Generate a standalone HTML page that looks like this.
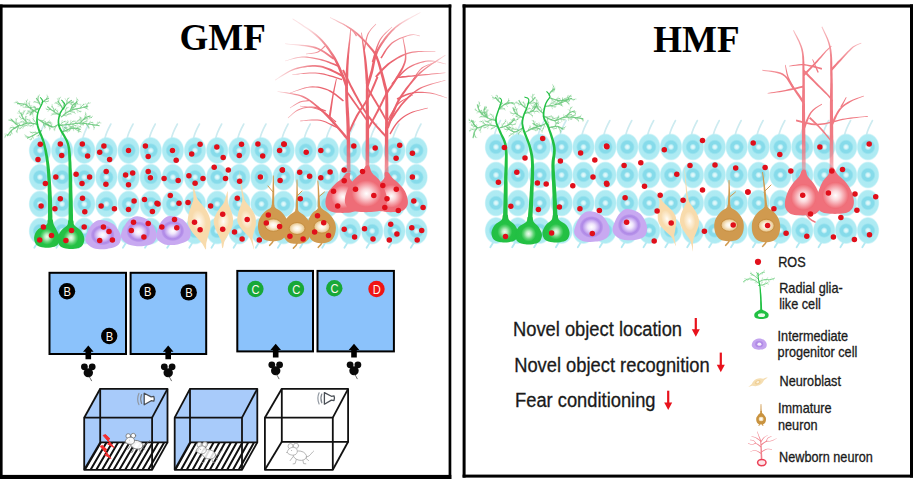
<!DOCTYPE html>
<html><head><meta charset="utf-8"><title>GMF / HMF</title>
<style>html,body{margin:0;padding:0;background:#fff;}body{width:913px;height:479px;overflow:hidden;font-family:"Liberation Sans",sans-serif;}svg{display:block;}.t{font-family:"Liberation Serif",serif;font-weight:bold;}.s{font-family:"Liberation Sans",sans-serif;}</style></head><body>
<svg width="913" height="479" viewBox="0 0 913 479">
<defs><radialGradient id="gc" cx="50%" cy="50%" r="50%"><stop offset="0" stop-color="#a9e9f2"/><stop offset="0.9" stop-color="#afebf3"/><stop offset="1" stop-color="#b8eef5" stop-opacity="0.45"/></radialGradient><radialGradient id="gk" cx="50%" cy="50%" r="50%"><stop offset="0" stop-color="#ecfbfc"/><stop offset="0.24" stop-color="#cdf3f8"/><stop offset="0.46" stop-color="#86dbea"/><stop offset="0.78" stop-color="#86dbea"/><stop offset="1" stop-color="#a9e9f2"/></radialGradient><g id="c"><ellipse cx="0" cy="0" rx="11.2" ry="13.4" fill="url(#gc)"/><circle cx="0" cy="0" r="7.4" fill="url(#gk)"/></g><g id="ct"><path d="M-1.5,-12 C-0.5,-17 1.5,-21 4.5,-26.5" fill="none" stroke="#cdebf0" stroke-width="1.6" stroke-linecap="round"/></g><circle id="r" r="2.75" fill="#e00f1a"/><radialGradient id="gg" cx="50%" cy="62%" r="55%"><stop offset="0" stop-color="#eefcee"/><stop offset="0.16" stop-color="#bdeec4"/><stop offset="0.34" stop-color="#5fd475"/><stop offset="0.5" stop-color="#25c145"/><stop offset="1" stop-color="#20bf42"/></radialGradient><radialGradient id="gp" ><stop offset="0" stop-color="#ffffff"/><stop offset="0.3" stop-color="#efe5fc"/><stop offset="0.58" stop-color="#cbb0f1"/><stop offset="0.76" stop-color="#b08ae7"/><stop offset="0.88" stop-color="#b590e9"/><stop offset="1" stop-color="#c8a9f1"/></radialGradient><radialGradient id="gn" ><stop offset="0" stop-color="#fffdf8"/><stop offset="0.35" stop-color="#fdf0da"/><stop offset="1" stop-color="#f8dcaf"/></radialGradient><radialGradient id="gb" ><stop offset="0" stop-color="#ffffff"/><stop offset="0.4" stop-color="#fbf1dd"/><stop offset="0.8" stop-color="#ecd0a0"/><stop offset="1" stop-color="#ddb271"/></radialGradient><radialGradient id="gr" ><stop offset="0" stop-color="#ffffff"/><stop offset="0.35" stop-color="#fbd9dc"/><stop offset="0.75" stop-color="#f4949c"/><stop offset="1" stop-color="#ef6b75"/></radialGradient><radialGradient id="mfL" gradientUnits="userSpaceOnUse" cx="367" cy="100" r="92"><stop offset="0" stop-color="#fff"/><stop offset="0.5" stop-color="#fff"/><stop offset="0.8" stop-color="#aaa"/><stop offset="1" stop-color="#333"/></radialGradient><mask id="mkL" maskUnits="userSpaceOnUse" x="260" y="0" width="200" height="220"><rect x="260" y="0" width="200" height="220" fill="url(#mfL)"/></mask><radialGradient id="mfR" gradientUnits="userSpaceOnUse" cx="817" cy="100" r="80"><stop offset="0" stop-color="#fff"/><stop offset="0.5" stop-color="#fff"/><stop offset="0.8" stop-color="#aaa"/><stop offset="1" stop-color="#444"/></radialGradient><mask id="mkR" maskUnits="userSpaceOnUse" x="740" y="0" width="170" height="220"><rect x="740" y="0" width="170" height="220" fill="url(#mfR)"/></mask></defs>
<rect x="0" y="0" width="913" height="479" fill="#ffffff"/>
<g id="left">
<g><use href="#ct" x="40" y="150.5"/><use href="#ct" x="62.1" y="150.5"/><use href="#ct" x="84.3" y="150.5"/><use href="#ct" x="106.4" y="150.5"/><use href="#ct" x="128.6" y="150.5"/><use href="#ct" x="150.8" y="150.5"/><use href="#ct" x="172.9" y="150.5"/><use href="#ct" x="195" y="150.5"/><use href="#ct" x="217.2" y="150.5"/><use href="#ct" x="239.3" y="150.5"/><use href="#ct" x="261.5" y="150.5"/><use href="#ct" x="283.6" y="150.5"/><use href="#ct" x="305.8" y="150.5"/><use href="#ct" x="327.9" y="150.5"/><use href="#ct" x="350.1" y="150.5"/><use href="#ct" x="372.2" y="150.5"/><use href="#ct" x="394.4" y="150.5"/><use href="#ct" x="416.5" y="150.5"/><path d="M37.5,242.5 l-3.2,5.2" fill="none" stroke="#b4e9f2" stroke-width="1.8" stroke-linecap="round"/><path d="M59.6,242.5 l-3.2,5.2" fill="none" stroke="#b4e9f2" stroke-width="1.8" stroke-linecap="round"/><path d="M81.8,242.5 l-3.2,5.2" fill="none" stroke="#b4e9f2" stroke-width="1.8" stroke-linecap="round"/><path d="M103.9,242.5 l-3.2,5.2" fill="none" stroke="#b4e9f2" stroke-width="1.8" stroke-linecap="round"/><path d="M126.1,242.5 l-3.2,5.2" fill="none" stroke="#b4e9f2" stroke-width="1.8" stroke-linecap="round"/><path d="M148.2,242.5 l-3.2,5.2" fill="none" stroke="#b4e9f2" stroke-width="1.8" stroke-linecap="round"/><path d="M170.4,242.5 l-3.2,5.2" fill="none" stroke="#b4e9f2" stroke-width="1.8" stroke-linecap="round"/><path d="M192.5,242.5 l-3.2,5.2" fill="none" stroke="#b4e9f2" stroke-width="1.8" stroke-linecap="round"/><path d="M214.7,242.5 l-3.2,5.2" fill="none" stroke="#b4e9f2" stroke-width="1.8" stroke-linecap="round"/><path d="M236.8,242.5 l-3.2,5.2" fill="none" stroke="#b4e9f2" stroke-width="1.8" stroke-linecap="round"/><path d="M259,242.5 l-3.2,5.2" fill="none" stroke="#b4e9f2" stroke-width="1.8" stroke-linecap="round"/><path d="M281.1,242.5 l-3.2,5.2" fill="none" stroke="#b4e9f2" stroke-width="1.8" stroke-linecap="round"/><path d="M303.3,242.5 l-3.2,5.2" fill="none" stroke="#b4e9f2" stroke-width="1.8" stroke-linecap="round"/><path d="M325.4,242.5 l-3.2,5.2" fill="none" stroke="#b4e9f2" stroke-width="1.8" stroke-linecap="round"/><path d="M347.6,242.5 l-3.2,5.2" fill="none" stroke="#b4e9f2" stroke-width="1.8" stroke-linecap="round"/><path d="M369.8,242.5 l-3.2,5.2" fill="none" stroke="#b4e9f2" stroke-width="1.8" stroke-linecap="round"/><path d="M391.9,242.5 l-3.2,5.2" fill="none" stroke="#b4e9f2" stroke-width="1.8" stroke-linecap="round"/><path d="M414,242.5 l-3.2,5.2" fill="none" stroke="#b4e9f2" stroke-width="1.8" stroke-linecap="round"/><use href="#c" x="40" y="150.5"/><use href="#c" x="62.1" y="150.5"/><use href="#c" x="84.3" y="150.5"/><use href="#c" x="106.4" y="150.5"/><use href="#c" x="128.6" y="150.5"/><use href="#c" x="150.8" y="150.5"/><use href="#c" x="172.9" y="150.5"/><use href="#c" x="195" y="150.5"/><use href="#c" x="217.2" y="150.5"/><use href="#c" x="239.3" y="150.5"/><use href="#c" x="261.5" y="150.5"/><use href="#c" x="283.6" y="150.5"/><use href="#c" x="305.8" y="150.5"/><use href="#c" x="327.9" y="150.5"/><use href="#c" x="350.1" y="150.5"/><use href="#c" x="372.2" y="150.5"/><use href="#c" x="394.4" y="150.5"/><use href="#c" x="416.5" y="150.5"/><use href="#c" x="40" y="177.2"/><use href="#c" x="62.1" y="177.2"/><use href="#c" x="84.3" y="177.2"/><use href="#c" x="106.4" y="177.2"/><use href="#c" x="128.6" y="177.2"/><use href="#c" x="150.8" y="177.2"/><use href="#c" x="172.9" y="177.2"/><use href="#c" x="195" y="177.2"/><use href="#c" x="217.2" y="177.2"/><use href="#c" x="239.3" y="177.2"/><use href="#c" x="261.5" y="177.2"/><use href="#c" x="283.6" y="177.2"/><use href="#c" x="305.8" y="177.2"/><use href="#c" x="327.9" y="177.2"/><use href="#c" x="350.1" y="177.2"/><use href="#c" x="372.2" y="177.2"/><use href="#c" x="394.4" y="177.2"/><use href="#c" x="416.5" y="177.2"/><use href="#c" x="40" y="204"/><use href="#c" x="62.1" y="204"/><use href="#c" x="84.3" y="204"/><use href="#c" x="106.4" y="204"/><use href="#c" x="128.6" y="204"/><use href="#c" x="150.8" y="204"/><use href="#c" x="172.9" y="204"/><use href="#c" x="195" y="204"/><use href="#c" x="217.2" y="204"/><use href="#c" x="239.3" y="204"/><use href="#c" x="261.5" y="204"/><use href="#c" x="283.6" y="204"/><use href="#c" x="305.8" y="204"/><use href="#c" x="327.9" y="204"/><use href="#c" x="350.1" y="204"/><use href="#c" x="372.2" y="204"/><use href="#c" x="394.4" y="204"/><use href="#c" x="416.5" y="204"/><use href="#c" x="40" y="231"/><use href="#c" x="62.1" y="231"/><use href="#c" x="84.3" y="231"/><use href="#c" x="106.4" y="231"/><use href="#c" x="128.6" y="231"/><use href="#c" x="150.8" y="231"/><use href="#c" x="172.9" y="231"/><use href="#c" x="195" y="231"/><use href="#c" x="217.2" y="231"/><use href="#c" x="239.3" y="231"/><use href="#c" x="261.5" y="231"/><use href="#c" x="283.6" y="231"/><use href="#c" x="305.8" y="231"/><use href="#c" x="327.9" y="231"/><use href="#c" x="350.1" y="231"/><use href="#c" x="372.2" y="231"/><use href="#c" x="394.4" y="231"/><use href="#c" x="416.5" y="231"/></g>
<g><g mask="url(#mkL)"><path d="M350.5,172 L350.5,169.9 L350.4,167.3 L350.4,164.2 L350.4,160.7 L350.3,156.9 L350.3,152.9 L350.2,148.8 L350.2,144.6 L350.1,140.6 L350,136.8 L349.9,133.2 L349.9,130 L349.8,127 L349.6,124.1 L349.5,121.3 L349.4,118.5 L349.2,115.9 L349.1,113.3 L348.9,110.8 L348.8,108.4 L348.6,106.2 L348.5,104 L348.4,101.9 L348.3,99.9 L348.2,96.3 L348.1,93 L348,90.1 L348,87.6 L347.9,85.6 L347.9,84 L345.1,84 L345.1,85.6 L345.1,87.6 L345.1,90.1 L345.2,93.1 L345.2,96.4 L345.3,100.1 L345.4,102 L345.5,104.1 L345.6,106.3 L345.7,108.6 L345.8,111 L345.9,113.5 L346.1,116 L346.2,118.7 L346.3,121.4 L346.4,124.2 L346.5,127.1 L346.5,130 L346.6,133.2 L346.6,136.8 L346.7,140.7 L346.7,144.7 L346.7,148.8 L346.7,152.9 L346.7,156.9 L346.7,160.7 L346.7,164.2 L346.7,167.3 L346.7,169.9 L346.7,172Z" fill="#ea636e"/><path d="M369.3,170 L369.3,168 L369.3,165.5 L369.3,162.6 L369.2,159.3 L369.2,155.7 L369.2,151.9 L369.2,148 L369.2,144.1 L369.1,140.2 L369.1,136.6 L369.1,133.1 L369.1,130 L369.1,127.1 L369,124.3 L369,121.5 L369,118.8 L369,116.2 L368.9,113.6 L368.9,111.1 L368.9,108.7 L368.9,106.4 L368.8,104.2 L368.8,102 L368.8,100 L368.8,96.6 L368.8,93.5 L368.7,90.5 L368.7,87.8 L368.7,85.5 L368.7,83.5 L368.7,82 L365.9,82 L365.9,83.5 L365.9,85.5 L365.9,87.8 L365.8,90.5 L365.8,93.5 L365.8,96.6 L365.8,100 L365.8,102.1 L365.8,104.2 L365.8,106.4 L365.8,108.7 L365.8,111.1 L365.8,113.6 L365.8,116.2 L365.8,118.8 L365.8,121.5 L365.7,124.3 L365.7,127.1 L365.7,130 L365.7,133.1 L365.7,136.6 L365.7,140.2 L365.7,144.1 L365.6,148 L365.6,151.9 L365.6,155.7 L365.6,159.3 L365.5,162.6 L365.5,165.5 L365.5,168 L365.5,170Z" fill="#ea636e"/><path d="M388.5,176 L388.5,174.2 L388.5,172 L388.5,169.4 L388.4,166.5 L388.4,163.3 L388.4,160 L388.4,156.5 L388.4,153 L388.3,149.6 L388.3,146.2 L388.3,143 L388.3,140 L388.3,137.2 L388.3,134.3 L388.3,131.4 L388.3,128.5 L388.3,125.7 L388.3,122.9 L388.3,120.2 L388.3,117.5 L388.3,114.9 L388.3,112.5 L388.3,110.2 L388.3,108 L388.3,104.5 L388.2,101.3 L388.2,98.3 L388.1,95.7 L388.1,93.4 L388,91.5 L388,90 L385.2,90 L385.2,91.5 L385.2,93.4 L385.3,95.7 L385.3,98.4 L385.3,101.3 L385.3,104.5 L385.3,108 L385.3,110.2 L385.3,112.5 L385.2,114.9 L385.2,117.5 L385.2,120.1 L385.1,122.9 L385.1,125.7 L385,128.5 L385,131.4 L385,134.3 L384.9,137.1 L384.9,140 L384.9,143 L384.9,146.2 L384.8,149.6 L384.8,153 L384.8,156.5 L384.8,160 L384.8,163.4 L384.7,166.5 L384.7,169.4 L384.7,172 L384.7,174.2 L384.7,176Z" fill="#ea636e"/><path d="M347.8,85.5 L347.2,83.8 L346.3,81.4 L345.2,78.5 L344,75.3 L342.6,72.2 L341.6,69.9 L340.6,67.5 L339.4,65 L338.2,62.4 L336.8,59.8 L335.3,57.1 L333.7,54.5 L332.3,52.4 L330.9,50.4 L329.4,48.2 L327.8,46.1 L326.1,44 L324.4,41.9 L322.4,39.8 L320.4,37.7 L318.2,35.7 L316.3,34.1 L314.2,32.5 L311.9,30.8 L309.5,29.1 L307,27.5 L304.5,25.9 L302.1,24.3 L299.7,22.8 L297.6,21.5 L295.7,20.3 L294.1,19.3 L292.8,18.5 L292.4,19.1 L293.6,20 L295.2,21.1 L297.1,22.3 L299.2,23.7 L301.4,25.3 L303.8,26.9 L306.2,28.6 L308.7,30.3 L311,32 L313.2,33.7 L315.3,35.4 L317,36.9 L319.1,39 L321,41.1 L322.9,43.2 L324.5,45.3 L326.1,47.4 L327.6,49.5 L329,51.6 L330.4,53.7 L331.7,55.7 L333.3,58.3 L334.7,60.9 L335.9,63.5 L337.1,66 L338.2,68.5 L339.2,70.9 L340.2,73.2 L341.5,76.4 L342.7,79.5 L343.7,82.3 L344.5,84.7 L345.2,86.5Z" fill="#ea636e"/><path d="M334.5,58.1 L333.1,57.2 L331.4,55.9 L329.3,54.4 L326.9,52.7 L324.3,51 L321.5,49.4 L318.5,47.9 L315.4,46.8 L313.1,46.2 L310.5,45.7 L307.8,45.3 L304.9,45 L301.9,44.7 L298.9,44.4 L296,44.2 L293.3,44 L290.7,43.9 L288.4,43.7 L286.5,43.6 L285,43.5 L285,44.1 L286.5,44.3 L288.4,44.5 L290.6,44.8 L293.2,45 L295.9,45.3 L298.8,45.6 L301.8,45.9 L304.7,46.3 L307.6,46.7 L310.2,47.2 L312.7,47.8 L314.8,48.4 L317.8,49.5 L320.6,51 L323.3,52.6 L325.8,54.3 L328.2,55.9 L330.2,57.5 L332,58.8 L333.3,59.7Z" fill="#ea636e"/><path d="M344.4,75.5 L343,74.9 L341.2,74 L339.1,72.9 L336.7,71.7 L334,70.4 L331.3,69.1 L328.5,67.9 L325.6,66.9 L322.9,66 L320.3,65.5 L317.7,65.2 L315.1,65.1 L312.5,65.1 L309.9,65.3 L307.3,65.5 L304.7,65.9 L302.1,66.4 L299.6,66.9 L297.2,67.6 L294.9,68.3 L292.3,69.3 L289.7,70.5 L287,72 L284.5,73.5 L282,75.1 L279.8,76.6 L277.8,77.9 L276.1,79.1 L274.8,79.9 L275.2,80.5 L276.5,79.7 L278.2,78.6 L280.3,77.3 L282.5,75.9 L285,74.4 L287.6,72.9 L290.2,71.6 L292.8,70.4 L295.3,69.5 L297.6,68.9 L300,68.3 L302.4,67.8 L304.9,67.4 L307.5,67.1 L310,66.9 L312.5,66.8 L315.1,66.8 L317.5,67 L319.9,67.3 L322.4,67.8 L325,68.7 L327.7,69.7 L330.5,70.9 L333.2,72.2 L335.8,73.5 L338.1,74.7 L340.3,75.9 L342.1,76.8 L343.6,77.5Z" fill="#ea636e"/><path d="M342.2,78.8 L340.6,78.4 L338.5,77.7 L336.1,76.9 L333.3,76.1 L330.3,75.2 L327.2,74.4 L324.1,73.6 L321,73 L318.1,72.7 L315.4,72.5 L312.5,72.5 L309.5,72.6 L306.5,72.8 L303.5,73.1 L300.6,73.4 L297.9,73.7 L295.5,74 L293.5,74.2 L292,74.4 L292,74.8 L293.6,74.8 L295.6,74.6 L298,74.4 L300.7,74.1 L303.5,73.9 L306.5,73.7 L309.5,73.6 L312.5,73.5 L315.3,73.6 L317.9,73.7 L320.8,74.2 L323.8,74.8 L326.9,75.6 L329.9,76.4 L332.9,77.3 L335.6,78.2 L338.1,79 L340.2,79.7 L341.8,80.2Z" fill="#ea636e"/><path d="M348.6,138.2 L347.5,136.9 L346.1,135.3 L344.4,133.3 L342.5,131 L340.5,128.7 L338.5,126.4 L336.5,124.1 L334.6,122.1 L332.7,120 L330.8,118 L328.9,116 L326.9,114 L324.9,112.1 L322.8,110.2 L320.6,108.3 L318.7,106.6 L316.7,104.9 L314.6,103.2 L312.5,101.5 L310.3,99.9 L308,98.4 L305.5,97 L302.9,95.8 L300.5,95 L297.8,94.3 L295,93.7 L292,93.2 L289,92.7 L286.2,92.3 L283.5,92 L281.1,91.7 L279.1,91.4 L277.6,91.2 L277.4,91.8 L279,92.1 L281,92.5 L283.4,92.8 L286,93.3 L288.9,93.7 L291.8,94.3 L294.7,94.9 L297.5,95.6 L300.1,96.3 L302.3,97.2 L304.8,98.4 L307.2,99.7 L309.4,101.2 L311.5,102.9 L313.5,104.6 L315.5,106.3 L317.4,108 L319.4,109.7 L321.5,111.6 L323.5,113.5 L325.4,115.5 L327.3,117.5 L329.2,119.5 L331,121.5 L333,123.7 L334.7,125.7 L336.7,127.9 L338.7,130.3 L340.6,132.6 L342.5,134.8 L344.2,136.9 L345.6,138.5 L346.6,139.8Z" fill="#ea636e"/><path d="M330.4,118.1 L330.7,116.5 L331,114.3 L331.4,111.7 L331.8,108.8 L332.2,105.7 L332.6,102.7 L333,99.8 L333.4,97.1 L333.9,94.2 L334.5,91.2 L335,88.2 L335.6,85.4 L336.1,82.8 L336.5,80.6 L336.8,79 L336,78.8 L335.6,80.4 L335.1,82.6 L334.5,85.1 L333.8,88 L333.2,91 L332.5,94 L332,96.9 L331.5,99.5 L331,102.4 L330.5,105.5 L330,108.5 L329.5,111.4 L329.1,114 L328.8,116.2 L328.6,117.9Z" fill="#ea636e"/><path d="M347.9,86.1 L348,84.5 L348,82.5 L348.1,80.2 L348.2,77.5 L348.3,74.7 L348.3,71.7 L348.4,68.7 L348.5,65.7 L348.7,62.8 L348.8,60.2 L349,57.6 L349.1,54.8 L349.4,52 L349.6,49.2 L349.8,46.5 L350.1,43.8 L350.3,41.3 L350.5,38.9 L350.6,36.9 L350.8,35.1 L350.9,31.5 L350.9,29.9 L350.8,29 L350,29 L350,29.9 L350,31.4 L349.6,35.1 L349.4,36.8 L349.2,38.8 L348.9,41.1 L348.5,43.6 L348.2,46.3 L347.8,49 L347.5,51.8 L347.2,54.6 L346.9,57.4 L346.6,60 L346.4,62.7 L346.2,65.6 L346,68.6 L345.8,71.6 L345.6,74.6 L345.5,77.4 L345.4,80.1 L345.3,82.4 L345.2,84.4 L345.1,85.9Z" fill="#ea636e"/><path d="M388,91.6 L387.5,90 L387,88 L386.3,85.5 L385.6,82.7 L384.8,79.6 L384,76.5 L383.1,73.3 L382.2,70.1 L381.3,67.1 L380.5,64.3 L379.7,61.8 L378.9,59.7 L377.5,56 L376.2,53.4 L374.9,51.4 L373.3,49.4 L371.1,46.9 L369.6,45.2 L367.9,43.3 L366.1,41.3 L364.1,39.2 L362.1,37.2 L359.9,35.1 L357.7,33.1 L355.4,31.2 L353.2,29.5 L351,28 L348.5,26.5 L345.9,25 L343.3,23.6 L340.6,22.2 L338.1,20.9 L335.7,19.8 L333.5,18.7 L331.8,17.9 L330.4,17.1 L330,17.9 L331.4,18.6 L333.1,19.5 L335.2,20.6 L337.6,21.9 L340.1,23.2 L342.7,24.6 L345.3,26.1 L347.8,27.7 L350.1,29.2 L352.2,30.7 L354.4,32.5 L356.6,34.4 L358.7,36.4 L360.8,38.5 L362.8,40.5 L364.6,42.6 L366.4,44.6 L368,46.5 L369.5,48.3 L371.6,50.8 L373.1,52.7 L374.2,54.5 L375.3,56.9 L376.7,60.5 L377.4,62.6 L378.1,65 L378.9,67.8 L379.7,70.8 L380.5,74 L381.4,77.2 L382.2,80.3 L382.9,83.4 L383.6,86.2 L384.3,88.7 L384.8,90.8 L385.2,92.4Z" fill="#ea636e"/><path d="M368.7,83.9 L368.6,82.2 L368.4,80.1 L368.2,77.5 L367.9,74.6 L367.6,71.5 L367.3,68.4 L367,65.3 L366.7,62.5 L366.4,60 L366,57.1 L365.5,54.3 L365.1,51.6 L364.6,49.1 L364.2,46.7 L363.8,44.5 L363.5,42.5 L362.9,39.3 L362.5,36.4 L362.1,34.2 L361.9,32.5 L361.1,32.7 L361.3,34.3 L361.5,36.6 L361.8,39.4 L362.1,42.7 L362.4,44.8 L362.7,47 L363,49.4 L363.3,51.9 L363.6,54.5 L363.9,57.3 L364.2,60.2 L364.4,62.7 L364.6,65.5 L364.8,68.6 L365.1,71.7 L365.3,74.8 L365.4,77.7 L365.6,80.3 L365.8,82.5 L365.9,84.1Z" fill="#ea636e"/><path d="M368.6,86.4 L369.2,84.8 L369.9,82.5 L370.8,79.7 L371.8,76.6 L372.8,73.1 L373.3,70.9 L373.8,68.6 L374.3,66.1 L374.8,63.6 L375.3,60.9 L376,58.3 L376.8,55.7 L377.7,53.1 L378.8,50.6 L379.9,48.6 L381.1,46.5 L382.5,44.3 L383.9,42.2 L385.4,40 L387,37.9 L388.6,35.8 L390.4,33.7 L392.1,31.8 L394,29.9 L395.8,28.1 L397.9,26.4 L400.2,24.7 L402.7,23.1 L405.3,21.4 L407.9,19.9 L410.5,18.4 L413,17 L415.4,15.7 L417.5,14.6 L419.2,13.6 L420.6,12.8 L420.2,12.2 L418.8,12.9 L417,13.8 L414.9,14.9 L412.6,16.1 L410,17.4 L407.3,18.8 L404.6,20.3 L401.9,21.9 L399.3,23.5 L396.9,25.2 L394.8,26.9 L392.8,28.7 L390.9,30.5 L389,32.5 L387.2,34.5 L385.4,36.6 L383.7,38.8 L382.2,41 L380.7,43.1 L379.3,45.3 L378,47.5 L376.8,49.6 L375.5,52.2 L374.5,54.9 L373.6,57.6 L372.9,60.4 L372.3,63 L371.8,65.6 L371.3,68 L370.8,70.3 L370.2,72.3 L369.2,75.8 L368.2,78.9 L367.3,81.7 L366.5,83.9 L366,85.6Z" fill="#ea636e"/><path d="M387.5,93.7 L388.5,92.4 L389.7,90.6 L391.2,88.5 L392.9,86.1 L394.6,83.5 L396.2,80.7 L397.5,78.6 L398.9,76.3 L400.4,73.8 L401.9,71.2 L403.3,68.5 L404.5,65.8 L405.5,63 L406.2,60.2 L406.4,57.6 L406.3,54.8 L406.1,51.9 L405.6,48.9 L405.1,46.1 L404.5,43.4 L404,41 L403.6,39.1 L403.3,37.5 L402.5,37.7 L402.7,39.2 L403.1,41.2 L403.5,43.6 L404,46.3 L404.4,49.1 L404.8,52 L404.9,54.9 L404.9,57.5 L404.6,60 L403.9,62.5 L402.9,65.1 L401.7,67.7 L400.2,70.3 L398.7,72.8 L397.2,75.2 L395.7,77.5 L394.4,79.7 L392.8,82.3 L391.1,84.9 L389.4,87.2 L387.9,89.3 L386.6,91 L385.7,92.3Z" fill="#ea636e"/><path d="M388.8,128.4 L389.3,126.9 L390,124.9 L390.8,122.4 L391.7,119.8 L392.7,117 L393.7,114.3 L394.7,111.9 L395.7,109.6 L396.6,107.3 L397.5,105.1 L398.6,102.9 L399.8,100.6 L401.2,98.2 L402.9,95.6 L404.1,93.8 L405.5,91.8 L406.9,89.8 L408.4,87.7 L410,85.6 L411.7,83.4 L413.5,81.3 L415.3,79.2 L417.1,77.1 L419,75.1 L420.9,73.3 L422.8,71.6 L424.9,69.8 L427.2,68.1 L429.6,66.3 L432,64.6 L434.4,63 L436.8,61.4 L439,59.9 L441.1,58.5 L442.9,57.3 L444.5,56.2 L445.7,55.4 L445.3,54.8 L444.1,55.6 L442.5,56.6 L440.6,57.8 L438.5,59.1 L436.2,60.5 L433.8,62.1 L431.3,63.7 L428.8,65.3 L426.4,67 L424.1,68.8 L421.9,70.5 L419.9,72.1 L417.9,74 L415.9,76 L414,78 L412.1,80.1 L410.3,82.3 L408.6,84.4 L406.9,86.6 L405.3,88.6 L403.8,90.7 L402.4,92.6 L401.1,94.4 L399.3,97.1 L397.8,99.6 L396.6,101.9 L395.5,104.2 L394.5,106.4 L393.5,108.6 L392.5,110.9 L391.5,113.5 L390.4,116.2 L389.4,119 L388.5,121.6 L387.6,124.1 L386.9,126.1 L386.4,127.6Z" fill="#ea636e"/><path d="M396.6,78.3 L398.2,78.1 L400.3,77.9 L402.7,77.7 L405.5,77.4 L408.5,77.1 L411.5,76.8 L414.6,76.5 L417.6,76.1 L420.5,75.8 L423,75.5 L425.8,75.2 L428.7,74.9 L431.6,74.6 L434.5,74.3 L437.3,73.9 L439.8,73.7 L442.1,73.4 L444,73.2 L445.5,73 L445.5,72.4 L444,72.5 L442,72.7 L439.7,72.9 L437.2,73.1 L434.4,73.3 L431.5,73.6 L428.6,73.9 L425.7,74.1 L422.9,74.3 L420.3,74.6 L417.5,74.8 L414.5,75.1 L411.4,75.4 L408.3,75.6 L405.3,75.9 L402.6,76.1 L400.1,76.4 L398,76.6 L396.4,76.7Z" fill="#ea636e"/><path d="M389.8,123.5 L390.8,122.1 L391.9,120.3 L393.3,118.1 L394.9,115.7 L396.6,113.1 L398.4,110.5 L400.1,108 L401.9,105.6 L403.7,103.6 L405.5,101.4 L407.4,99.4 L409.3,97.4 L411.3,95.5 L413.3,93.7 L415.5,92.1 L417.8,90.5 L420.3,89 L422.6,87.8 L425.2,86.8 L428,85.7 L431,84.7 L433.9,83.8 L436.8,83 L439.6,82.2 L442,81.6 L444,81 L445.6,80.5 L445.4,79.9 L443.9,80.3 L441.8,80.9 L439.4,81.5 L436.6,82.2 L433.7,82.9 L430.7,83.8 L427.7,84.7 L424.8,85.7 L422.1,86.7 L419.7,87.8 L417.1,89.3 L414.7,90.9 L412.4,92.6 L410.3,94.4 L408.2,96.3 L406.2,98.3 L404.3,100.3 L402.3,102.4 L400.5,104.5 L398.7,106.9 L396.8,109.4 L395,112 L393.3,114.6 L391.7,117 L390.3,119.2 L389.1,121 L388.2,122.3Z" fill="#ea636e"/><path d="M376.5,77.7 L377.6,76.5 L379,75 L380.7,73.1 L382.5,71.1 L384.5,69 L386.6,66.9 L388.7,65 L390.8,63.3 L393,61.8 L395.3,60.3 L397.6,58.8 L400.1,57.5 L402.6,56.2 L405.2,55 L407.8,54 L410.6,53.2 L412.9,52.7 L415.5,52.4 L418.4,52.1 L421.3,51.9 L424.2,51.8 L427,51.8 L429.6,51.8 L431.9,51.8 L433.9,51.8 L435.4,51.7 L435.4,51.1 L433.9,51.1 L431.9,51.1 L429.6,51 L427,50.9 L424.2,50.9 L421.2,50.9 L418.3,51 L415.4,51.2 L412.7,51.5 L410.2,52 L407.4,52.7 L404.6,53.7 L401.9,54.8 L399.3,56.1 L396.8,57.4 L394.4,58.9 L392,60.4 L389.8,61.9 L387.5,63.6 L385.3,65.5 L383.1,67.6 L381.1,69.8 L379.2,71.8 L377.5,73.6 L376.1,75.2 L375.1,76.3Z" fill="#ea636e"/><path d="M390.6,134.4 L391.6,132.7 L393,130.3 L394.6,127.5 L396.4,124.8 L398.3,122.5 L400,120.8 L401.9,119.1 L403.8,117.5 L406,116.1 L408.2,114.7 L410.6,113.5 L413,112.5 L415.7,111.6 L418.6,110.7 L421.5,109.9 L424.1,109.2 L426.3,108.7 L428,108.2 L427.8,107.8 L426.2,108.1 L424,108.6 L421.3,109.2 L418.4,109.9 L415.4,110.7 L412.6,111.6 L410.2,112.5 L407.7,113.8 L405.4,115.1 L403.1,116.6 L401.1,118.1 L399.1,119.8 L397.3,121.5 L395.3,124 L393.4,126.8 L391.7,129.6 L390.3,132 L389.4,133.6Z" fill="#ea636e"/><path d="M388.6,120.3 L389.4,118.8 L390.5,116.7 L391.9,114.2 L393.4,111.5 L395,108.8 L396.6,106.4 L398.4,104.4 L400.6,102.4 L403.4,100.5 L406.3,98.8 L409,97.4 L411.4,96.1 L413,95.2 L412.8,94.8 L411.1,95.6 L408.7,96.8 L405.9,98.2 L402.9,99.8 L400.1,101.6 L397.6,103.6 L395.8,105.7 L394,108.2 L392.3,110.9 L390.8,113.6 L389.4,116.1 L388.3,118.2 L387.4,119.7Z" fill="#ea636e"/><path d="M336.4,121.5 L335.2,120.5 L333.6,119.2 L331.8,117.6 L329.6,115.8 L327.4,114 L325,112.3 L322.6,110.7 L320.2,109.5 L317.7,108.6 L314.9,107.9 L312,107.3 L309.1,106.9 L306.3,106.5 L303.7,106.2 L301.6,106 L300,105.8 L300,106.2 L301.5,106.5 L303.6,106.8 L306.2,107.2 L308.9,107.6 L311.8,108.1 L314.7,108.8 L317.4,109.5 L319.8,110.5 L322,111.7 L324.3,113.2 L326.6,114.9 L328.9,116.7 L330.9,118.5 L332.8,120.1 L334.4,121.5 L335.6,122.5Z" fill="#ea636e"/><path d="M338.3,127.4 L336.7,126.7 L334.5,125.6 L331.9,124.2 L329,122.9 L326,121.6 L323,120.5 L320.1,119.8 L317.5,119.5 L314.7,119.5 L311.7,119.6 L308.8,119.8 L306.1,120.1 L303.6,120.4 L301.5,120.6 L300,120.8 L300,121.2 L301.6,121.2 L303.7,121 L306.2,120.8 L308.9,120.5 L311.8,120.4 L314.7,120.4 L317.4,120.5 L319.9,120.8 L322.7,121.5 L325.6,122.6 L328.5,124 L331.4,125.4 L333.9,126.7 L336.1,127.8 L337.7,128.6Z" fill="#ea636e"/><path d="M338.3,65.3 L336.6,64.6 L334.3,63.6 L331.5,62.5 L328.5,61.3 L325.3,60.2 L322.2,59.3 L319.8,58.8 L317.4,58.2 L314.8,57.7 L312.2,57.3 L309.5,56.9 L306.9,56.6 L304.4,56.5 L302,56.5 L298.7,56.9 L295.4,57.6 L292.2,58.5 L289.2,59.4 L286.7,60.2 L284.9,60.8 L285.1,61.2 L286.9,60.8 L289.4,60 L292.3,59.2 L295.6,58.4 L298.9,57.8 L302,57.5 L304.4,57.5 L306.8,57.7 L309.4,58.1 L312,58.5 L314.5,59 L317.1,59.5 L319.5,60.1 L321.8,60.7 L324.9,61.6 L328,62.7 L331,63.9 L333.7,65.1 L336,66 L337.7,66.7Z" fill="#ea636e"/><path d="M344,100.4 L342.6,99.3 L340.8,97.8 L338.6,96 L336.1,94.1 L333.5,92.3 L330.8,90.6 L328.3,89.4 L325.8,88.4 L323.3,87.7 L320.7,87.1 L318.1,86.6 L315.4,86.4 L312.7,86.3 L310,86.5 L307.4,86.9 L304.6,87.6 L301.6,88.5 L298.8,89.5 L296,90.5 L293.5,91.4 L291.5,92.2 L289.9,92.8 L290.1,93.2 L291.6,92.7 L293.7,92 L296.2,91.1 L299,90.2 L301.9,89.3 L304.8,88.4 L307.5,87.8 L310,87.5 L312.7,87.4 L315.3,87.5 L317.9,87.8 L320.4,88.3 L322.9,88.9 L325.4,89.7 L327.7,90.6 L330.1,91.9 L332.6,93.5 L335.2,95.3 L337.6,97.2 L339.8,99 L341.6,100.6 L343,101.6Z" fill="#ea636e"/><path d="M326.2,110.4 L324.3,109.7 L321.6,108.8 L318.5,107.7 L315.1,106.8 L312,106.4 L309.1,106.5 L306.1,107 L303.2,107.6 L300.4,108.5 L297.8,109.6 L295.4,111.1 L293,113 L290.9,114.9 L289.1,116.6 L287.8,117.8 L288.2,118.2 L289.5,117 L291.3,115.4 L293.5,113.5 L295.8,111.7 L298.2,110.4 L300.7,109.4 L303.4,108.6 L306.3,108 L309.2,107.6 L312,107.6 L314.9,108 L318.1,108.9 L321.2,109.9 L323.9,111 L325.8,111.6Z" fill="#ea636e"/><path d="M392.6,84.5 L393.6,83.4 L395,81.9 L396.6,80 L398.4,78 L400.3,75.9 L402.3,73.8 L404.4,71.8 L406.4,70 L408.4,68.6 L410.6,67.2 L413,66 L415.5,64.8 L418.1,63.9 L420.6,63 L423.2,62.4 L425.7,61.8 L428,61.5 L430.8,61.4 L433.8,61.6 L436.7,62.1 L439.6,62.7 L442.2,63.4 L444.3,63.9 L445.9,64.2 L446.1,63.8 L444.5,63.4 L442.3,62.8 L439.7,62.1 L436.9,61.4 L433.9,60.8 L430.9,60.5 L428,60.5 L425.5,60.8 L422.9,61.3 L420.3,62 L417.7,62.8 L415.1,63.7 L412.5,64.8 L410,66 L407.6,67.4 L405.5,68.9 L403.4,70.7 L401.3,72.7 L399.2,74.9 L397.2,77 L395.4,79 L393.8,80.8 L392.5,82.3 L391.4,83.5Z" fill="#ea636e"/><path d="M397.3,99.7 L398.9,99 L401.1,97.9 L403.7,96.7 L406.5,95.4 L409.4,94.4 L412.1,93.6 L414.5,93.3 L417,93 L419.6,92.9 L422.2,92.9 L424.8,93 L427.4,93.2 L429.9,93.5 L432.5,93.9 L435.3,94.6 L438.1,95.4 L440.8,96.3 L443.3,97.1 L445.4,97.8 L446.9,98.2 L447.1,97.8 L445.6,97.2 L443.5,96.5 L441.1,95.6 L438.4,94.7 L435.5,93.8 L432.7,93.1 L430.1,92.5 L427.5,92.2 L424.9,91.9 L422.2,91.8 L419.5,91.7 L416.9,91.8 L414.3,92 L411.9,92.4 L409,93.1 L406,94.1 L403.1,95.3 L400.5,96.6 L398.3,97.6 L396.7,98.3Z" fill="#ea636e"/><path d="M381.7,58.4 L382.6,57 L383.8,55 L385.2,52.7 L386.8,50.1 L388.6,47.7 L390.5,45.4 L392.4,43.5 L394.6,42 L397.1,40.5 L399.9,39.1 L402.7,37.9 L405.4,36.9 L407.9,36 L410.1,35.4 L413.3,35 L416.1,35.3 L418.3,35.9 L419.9,36.2 L420.1,35.8 L418.5,35.3 L416.2,34.7 L413.3,34.3 L409.9,34.6 L407.7,35.2 L405.1,36 L402.3,36.9 L399.4,38.1 L396.6,39.4 L393.9,40.9 L391.6,42.5 L389.5,44.4 L387.5,46.8 L385.6,49.3 L383.9,51.8 L382.5,54.2 L381.3,56.2 L380.3,57.6Z" fill="#ea636e"/><path d="M373.3,62.2 L373.7,60.7 L374.3,58.6 L375,56.2 L375.8,53.4 L376.6,50.6 L377.5,47.7 L378.5,44.9 L379.5,42.4 L380.5,40.3 L382,37.9 L383.8,35.6 L385.8,33.4 L387.7,31.5 L389.5,29.7 L391.1,28.3 L392.2,27.2 L391.8,26.8 L390.7,27.9 L389.1,29.3 L387.2,30.9 L385.2,32.8 L383.1,34.9 L381.2,37.3 L379.5,39.7 L378.4,41.9 L377.3,44.5 L376.2,47.3 L375.3,50.2 L374.4,53 L373.5,55.8 L372.8,58.2 L372.2,60.2 L371.7,61.8Z" fill="#ea636e"/><path d="M357,35.6 L356,34.1 L354.5,31.9 L352.4,29.6 L350.1,28 L347.4,26.3 L344.9,24.8 L343.1,23.8 L342.9,24.2 L344.6,25.3 L347,27 L349.6,28.8 L351.6,30.4 L353.5,32.6 L355,34.8 L356,36.4Z" fill="#ea636e"/><path d="M364.9,50.1 L365.2,48.3 L365.7,45.8 L366.2,42.8 L366.9,39.6 L367.6,36.7 L368.5,34.2 L369.8,31.7 L371.6,29.3 L373.4,27.2 L375.1,25.5 L376.2,24.2 L375.8,23.8 L374.6,25.1 L372.9,26.8 L371,28.8 L369.1,31.2 L367.5,33.8 L366.6,36.3 L365.7,39.3 L365,42.5 L364.4,45.5 L363.9,48.1 L363.5,49.9Z" fill="#ea636e"/><path d="M324.6,45.6 L323,47.3 L320.6,49.6 L317.8,51.6 L315,52.4 L311.5,53 L308.2,53.5 L306,53.8 L306,54.2 L308.3,54 L311.6,53.7 L315.2,53.2 L318.2,52.4 L321.3,50.5 L323.8,48.1 L325.4,46.4Z" fill="#ea636e"/><path d="M413.5,80.3 L414.4,78.9 L415.6,77 L417.1,74.7 L418.7,72.3 L420.5,70.1 L422.3,68.4 L424.4,67 L427,65.7 L429.7,64.6 L432.3,63.6 L434.5,62.8 L436.1,62.2 L435.9,61.8 L434.3,62.4 L432.1,63.1 L429.4,63.9 L426.7,65 L424,66.2 L421.7,67.6 L419.7,69.5 L417.9,71.7 L416.2,74.1 L414.7,76.4 L413.4,78.3 L412.5,79.7Z" fill="#ea636e"/><path d="M309.9,100 L308.2,100.1 L305.6,100.4 L302.6,100.8 L299.8,101.6 L297.1,103 L294.2,104.8 L291.7,106.6 L289.9,107.8 L290.1,108.2 L291.9,107 L294.5,105.4 L297.5,103.7 L300.2,102.4 L302.8,101.7 L305.7,101.4 L308.2,101.2 L310.1,101Z" fill="#ea636e"/><path d="M342.1,70.4 L342.8,71.8 L343.6,73.6 L344.6,75.6 L345.8,78 L347,80.5 L348.3,83.1 L349.6,85.8 L351,88.5 L352.3,91.1 L353.6,93.5 L354.9,95.8 L356.2,98.1 L357.5,100.4 L358.8,102.8 L360.1,105.1 L361.5,107.4 L362.9,109.7 L364.4,112 L365.9,114.3 L367.5,116.6 L369.1,118.7 L370.8,120.9 L372.7,123.2 L374.7,125.5 L376.6,127.7 L378.6,129.9 L380.4,132 L382.1,133.9 L383.7,135.6 L385,137 L385.9,138.2 L387.5,136.8 L386.4,135.7 L385.2,134.3 L383.6,132.6 L381.9,130.7 L380.1,128.6 L378.1,126.4 L376.2,124.2 L374.3,121.9 L372.4,119.7 L370.7,117.5 L369.1,115.4 L367.5,113.2 L366,110.9 L364.6,108.7 L363.2,106.4 L361.8,104.1 L360.5,101.8 L359.2,99.5 L357.9,97.1 L356.6,94.8 L355.4,92.5 L354.1,90.1 L352.8,87.6 L351.4,84.9 L350.1,82.3 L348.8,79.6 L347.6,77.1 L346.4,74.8 L345.4,72.7 L344.6,70.9 L343.9,69.6Z" fill="#ea636e"/><path d="M376.6,76.5 L376,77.9 L375.2,79.8 L374.3,82 L373.2,84.4 L372.1,87 L371,89.7 L369.8,92.3 L368.6,94.8 L367.4,97.1 L366.1,99.5 L364.7,101.9 L363.2,104.2 L361.7,106.4 L360.1,108.7 L358.7,111 L357.2,113.2 L355.9,115.5 L354.5,118.2 L353.1,121.1 L351.7,124.1 L350.4,126.9 L349.3,129.4 L348.3,131.5 L347.6,133.1 L349.4,133.9 L350.1,132.3 L351.1,130.2 L352.2,127.7 L353.5,124.9 L354.9,122 L356.3,119.2 L357.7,116.5 L359,114.3 L360.3,112.1 L361.8,109.8 L363.3,107.6 L364.9,105.3 L366.4,102.9 L367.8,100.5 L369.2,98.1 L370.4,95.7 L371.6,93.2 L372.8,90.5 L374,87.8 L375.1,85.2 L376.1,82.7 L377,80.5 L377.8,78.7 L378.4,77.3Z" fill="#ea636e"/><path d="M385.8,92.6 L385.1,94 L384.2,95.9 L383,98.1 L381.8,100.7 L380.5,103.3 L379.2,106 L377.8,108.6 L376.6,110.9 L375.4,113.3 L374.1,115.8 L372.7,118.4 L371.3,120.9 L370,123.3 L368.9,125.4 L367.9,127.2 L367.2,128.5 L368.8,129.5 L369.6,128.1 L370.6,126.3 L371.7,124.2 L373,121.8 L374.4,119.3 L375.8,116.7 L377.1,114.2 L378.4,111.9 L379.6,109.5 L380.9,106.9 L382.3,104.2 L383.6,101.5 L384.8,99 L385.9,96.8 L386.9,94.9 L387.6,93.4Z" fill="#ea636e"/><path d="M366.7,88.5 L367.5,89.9 L368.7,91.9 L370.1,94.2 L371.6,96.7 L373.2,99.4 L374.7,102 L376.2,104.5 L377.7,107 L379.3,109.7 L380.9,112.6 L382.5,115.3 L383.9,117.8 L385.1,119.9 L386,121.4 L387.6,120.6 L386.7,119 L385.5,116.9 L384.1,114.4 L382.5,111.6 L380.9,108.8 L379.3,106.1 L377.8,103.5 L376.4,101 L374.8,98.4 L373.2,95.8 L371.7,93.2 L370.3,90.9 L369.2,89 L368.3,87.5Z" fill="#ea636e"/><path d="M346.3,92.5 L347.4,94 L348.9,96.1 L350.6,98.6 L352.5,101.3 L354.5,104 L356.3,106.5 L357.8,108.7 L359.5,111.1 L361.2,113.6 L362.9,116.1 L364.4,118.3 L365.7,120.1 L366.6,121.5 L368,120.5 L367.1,119.2 L365.8,117.3 L364.3,115.1 L362.7,112.7 L360.9,110.2 L359.3,107.7 L357.7,105.5 L355.9,102.9 L354,100.2 L352.1,97.5 L350.3,95.1 L348.8,93 L347.7,91.5Z" fill="#ea636e"/></g><g transform="translate(103.4,234.4) rotate(0)"><path d="M-2.7,-14.5 C0.7,-14.4 6.4,-13 9.8,-10.4 C13.1,-7.9 16.3,-2.8 17.2,0.7 C18.1,4.2 17.4,8.1 15.1,10.4 C12.8,12.7 7.7,13.9 3.6,14.5 C-0.6,15.1 -6.2,15 -9.8,13.8 C-13.3,12.6 -16.7,9.9 -17.8,7.2 C-18.8,4.6 -17.2,0.8 -16,-2.2 C-14.8,-5.2 -12.9,-8.8 -10.7,-10.9 C-8.4,-12.9 -6.1,-14.6 -2.7,-14.5Z" fill="#c8a9f1"/><ellipse cx="-0.8" cy="0.6" rx="12.1" ry="10.4" fill="url(#gp)"/></g><g transform="translate(139.3,231.2) rotate(4)"><path d="M-2.7,-14.8 C0.7,-14.7 6.4,-13.2 9.8,-10.6 C13.1,-8 16.3,-2.8 17.2,0.7 C18.1,4.3 17.4,8.3 15.1,10.6 C12.8,13 7.7,14.2 3.6,14.8 C-0.6,15.3 -6.2,15.2 -9.8,14 C-13.3,12.8 -16.7,10.1 -17.8,7.4 C-18.8,4.7 -17.2,0.9 -16,-2.2 C-14.8,-5.3 -12.9,-9 -10.7,-11.1 C-8.4,-13.2 -6.1,-14.8 -2.7,-14.8Z" fill="#c8a9f1"/><ellipse cx="-0.8" cy="0.6" rx="12.1" ry="10.6" fill="url(#gp)"/></g><g transform="translate(173.5,230.2) rotate(-3)"><path d="M-2.6,-14.4 C0.7,-14.3 6.3,-12.9 9.5,-10.4 C12.7,-7.8 15.9,-2.7 16.7,0.7 C17.6,4.2 16.9,8.1 14.7,10.4 C12.4,12.6 7.5,13.8 3.5,14.4 C-0.6,15 -6,14.9 -9.5,13.7 C-12.9,12.5 -16.2,9.8 -17.2,7.2 C-18.3,4.6 -16.7,0.8 -15.5,-2.2 C-14.4,-5.2 -12.5,-8.8 -10.3,-10.8 C-8.2,-12.8 -5.9,-14.5 -2.6,-14.4Z" fill="#c8a9f1"/><ellipse cx="-0.8" cy="0.6" rx="11.7" ry="10.4" fill="url(#gp)"/></g><path d="M193,185 C193.3,184.9 194.2,188.8 194.9,191.1 C195.6,193.4 196.2,196.5 197.3,198.7 C198.4,200.9 200.1,202.2 201.7,204.3 C203.3,206.4 205.6,209 207,211.5 C208.4,214 209.5,216.5 210.1,219.2 C210.6,221.9 210.6,224.6 210.2,227.5 C209.9,230.3 208.8,233.6 208.2,236.2 C207.5,238.7 206.7,240.8 206.3,243 C205.9,245.2 206.5,249.3 205.8,249.4 C205.1,249.5 203.7,245.6 202.3,243.8 C201,241.9 199.3,240.4 197.5,238.3 C195.7,236.2 193.2,233.6 191.6,231.2 C190,228.7 188.5,226.3 187.9,223.6 C187.4,220.9 187.8,218.1 188.4,215.2 C188.9,212.4 190.2,209 191,206.4 C191.9,203.8 193,202 193.3,199.5 C193.7,197 193.2,193.9 193.2,191.5 C193.1,189.1 192.7,185.1 193,185Z" fill="#f8dbac"/><ellipse cx="199" cy="221.4" rx="6.8" ry="11.3" fill="url(#gn)" transform="rotate(-11.2 199 221.4)"/><path d="M227.6,191.3 C227.9,191.3 227.8,193.6 227.8,195.4 C227.9,197.2 227.5,200.2 227.8,202.2 C228.2,204.3 229.2,205.8 230,207.9 C230.8,210.1 232,212.8 232.5,215.2 C233,217.6 233.3,219.9 233.1,222.3 C232.9,224.6 232.3,226.9 231.3,229.1 C230.4,231.4 228.8,233.9 227.6,235.8 C226.5,237.8 225.3,239.2 224.6,241 C223.8,242.9 223.7,245.6 223.3,246.8 C223,248 222.8,248.2 222.6,248.2 C222.4,248.2 222.2,247.9 222,246.7 C221.7,245.4 221.7,242.7 221.1,240.7 C220.5,238.8 219.3,237.2 218.3,235 C217.3,232.9 215.8,230.1 215,227.7 C214.3,225.3 213.5,222.9 213.7,220.5 C213.9,218.2 215,216 216.2,213.7 C217.4,211.5 219.3,209.1 220.7,207.1 C222,205.1 223.4,203.9 224.3,201.9 C225.3,200 225.7,197 226.3,195.3 C226.8,193.5 227.3,191.3 227.6,191.3Z" fill="#f8dbac"/><ellipse cx="223.4" cy="221.4" rx="5.8" ry="9.8" fill="url(#gn)" transform="rotate(5 223.4 221.4)"/><path d="M239,170.4 C239.2,170.4 242.4,189.6 243.5,194.7 C244.5,199.8 244.4,199.1 245.3,200.9 C246.2,202.7 247.6,203.7 248.8,205.5 C250.1,207.3 252,209.4 253.1,211.5 C254.2,213.5 255.1,215.6 255.6,217.8 C256,219.9 256,222.2 255.8,224.5 C255.5,226.8 254.7,229.5 254.1,231.6 C253.6,233.7 252.9,235.3 252.7,237.1 C252.5,239 252.8,240.6 253.1,242.7 C253.3,244.8 254.4,249.8 254.2,249.8 C254,249.8 252.6,244.9 251.8,242.9 C251,240.9 250.5,239.4 249.4,237.7 C248.4,236.1 246.9,235 245.4,233.2 C243.9,231.5 241.8,229.4 240.5,227.4 C239.2,225.4 237.9,223.4 237.4,221.2 C237,219.1 237.4,216.7 237.9,214.4 C238.3,212 239.4,209.3 240.1,207.2 C240.8,205 241.8,203.6 242.1,201.5 C242.4,199.5 242.5,200.1 242,195 C241.5,189.8 238.8,170.4 239,170.4Z" fill="#f8dbac"/><ellipse cx="246.5" cy="219.5" rx="5.5" ry="9.2" fill="url(#gn)" transform="rotate(-10.8 246.5 219.5)"/><g><path d="M296.6,179.5 L296.5,181.4 L296.5,184.1 L296.4,187.3 L296.4,190.6 L296.3,193.9 L296.2,196.7 L296.1,199.8 L295.9,202.9 L295.8,205.9 L295.7,208.4 L295.6,210.2 L298,210.3 L298,208.5 L298,206 L298,203 L298,199.8 L297.9,196.7 L297.9,193.9 L297.8,190.6 L297.7,187.3 L297.6,184.1 L297.5,181.4 L297.4,179.5Z" fill="#d09a4f"/><path d="M297,196 l5,-5" fill="none" stroke="#d09a4f" stroke-width="1" stroke-linecap="round"/><path d="M297.7,208.2 C298.2,208.8 297.9,210.6 299.1,211.8 C300.2,213 302.9,213.9 304.6,215.7 C306.4,217.5 308.6,220.1 309.6,222.4 C310.7,224.8 311.1,227.1 311.1,229.6 C311.1,232 310.5,234.9 309.6,237 C308.7,239.1 307.2,240.9 305.6,242 C304,243.1 301.9,243.5 299.9,243.8 C297.9,244 295.7,244 293.7,243.8 C291.7,243.5 289.6,243.1 288,242 C286.4,240.9 284.9,239.1 284,237 C283.1,234.9 282.6,232 282.6,229.6 C282.6,227.1 282.9,224.8 284,222.4 C285,220.1 287.2,217.5 289,215.7 C290.7,213.9 293.4,213 294.5,211.8 C295.7,210.6 295.4,208.8 295.9,208.2 C296.4,207.7 297.2,207.7 297.7,208.2Z" fill="#d09a4f"/><path d="M297.6,242.6 q-1,3 -4.2,5.6" stroke="#d09a4f" stroke-width="1.5" fill="none" stroke-linecap="round"/><ellipse cx="297.1" cy="228.5" rx="8" ry="6" fill="url(#gb)" stroke="#c48b3d" stroke-width="0.9"/></g><g><path d="M272.9,175.5 L272.8,177.4 L272.8,180.1 L272.7,183.2 L272.6,186.5 L272.5,189.7 L272.4,192.5 L272.3,195.6 L272.2,198.7 L272,201.7 L271.9,204.2 L271.8,206 L274.2,206 L274.2,204.2 L274.2,201.7 L274.2,198.8 L274.2,195.6 L274.2,192.5 L274.2,189.8 L274.1,186.5 L274,183.2 L273.9,180.1 L273.8,177.4 L273.7,175.5Z" fill="#d09a4f"/><path d="M273,192 l-5,-6" fill="none" stroke="#d09a4f" stroke-width="1" stroke-linecap="round"/><path d="M273.9,204 C274.4,204.6 274.2,206.4 275.4,207.7 C276.6,209 279.4,209.9 281.2,211.8 C283.1,213.6 285.4,216.4 286.5,218.8 C287.6,221.2 288,223.7 288,226.2 C288,228.7 287.4,231.8 286.5,234 C285.6,236.1 284,238 282.3,239.2 C280.6,240.3 278.4,240.7 276.3,241 C274.2,241.3 271.8,241.3 269.7,241 C267.6,240.7 265.4,240.3 263.7,239.2 C262,238 260.4,236.1 259.5,234 C258.6,231.8 258,228.7 258,226.2 C258,223.7 258.4,221.2 259.5,218.8 C260.6,216.4 262.9,213.6 264.8,211.8 C266.6,209.9 269.4,209 270.6,207.7 C271.8,206.4 271.6,204.6 272.1,204 C272.7,203.4 273.3,203.4 273.9,204Z" fill="#d09a4f"/><path d="M273.8,239.8 q-1,3 -4.2,5.6" stroke="#d09a4f" stroke-width="1.5" fill="none" stroke-linecap="round"/><ellipse cx="273.3" cy="225.1" rx="8.4" ry="6.3" fill="url(#gb)" stroke="#c48b3d" stroke-width="0.9"/></g><g><path d="M317.4,180.5 L317.4,182.7 L317.6,185.8 L317.7,189.3 L317.8,192.8 L317.8,195.7 L317.8,199 L317.7,202.3 L317.7,205.1 L317.7,207 L320.1,207 L320,205 L319.9,202.2 L319.7,199 L319.5,195.7 L319.3,192.7 L319.1,189.2 L318.8,185.7 L318.5,182.6 L318.2,180.5Z" fill="#d09a4f"/><path d="M318.5,197 l6,-5" fill="none" stroke="#d09a4f" stroke-width="1" stroke-linecap="round"/><path d="M319.8,205 C320.5,205.6 320.8,207.5 322.2,208.8 C323.5,210.1 326.2,211.1 328.2,213 C330.2,214.9 332.7,217.7 334,220.2 C335.3,222.7 335.8,225.2 335.9,227.8 C335.9,230.4 335.3,233.6 334.4,235.8 C333.5,238 332.1,239.9 330.4,241.1 C328.8,242.3 326.7,242.7 324.7,243 C322.7,243.3 320.5,243.3 318.5,243 C316.5,242.7 314.4,242.3 312.8,241.1 C311.2,239.9 309.7,238 308.8,235.8 C307.9,233.6 307.4,230.4 307.4,227.8 C307.3,225.2 307.5,222.7 308.3,220.2 C309.2,217.7 311,214.9 312.5,213 C314.1,211.1 316.7,210.1 317.6,208.8 C318.5,207.5 317.6,205.6 318,205 C318.4,204.4 319.1,204.4 319.8,205Z" fill="#d09a4f"/><path d="M322.4,241.8 q-1,3 -4.2,5.6" stroke="#d09a4f" stroke-width="1.5" fill="none" stroke-linecap="round"/><ellipse cx="321.9" cy="226.7" rx="8" ry="6.5" fill="url(#gb)" stroke="#c48b3d" stroke-width="0.9"/></g><path d="M350.3,172.8 C350.9,173.7 349.4,176.5 350,178.4 C350.7,180.3 353.2,182.1 354.4,184.4 C355.6,186.7 356.3,189.3 357.1,192 C358,194.7 359.2,198.3 359.5,200.8 C359.8,203.3 359.6,205.4 358.6,207.2 C357.7,209 356.1,210.6 354.1,211.5 C352,212.5 349.2,212.6 346.6,212.8 C344,213 341,213 338.4,212.8 C335.8,212.6 333,212.5 330.9,211.5 C328.9,210.6 327.3,209 326.4,207.2 C325.4,205.4 325.2,203.3 325.5,200.8 C325.8,198.3 326.7,194.7 328.2,192 C329.8,189.3 332.4,186.7 334.7,184.4 C336.9,182.1 339.9,180.3 341.9,178.4 C343.9,176.5 345.3,173.7 346.7,172.8 C348.1,171.9 349.7,171.9 350.3,172.8Z" fill="#ee6c77"/><ellipse cx="343" cy="196.8" rx="11.9" ry="11.6" fill="url(#gr)"/><path d="M388.4,172.6 C389.7,173.5 390.7,176.2 392.5,178.1 C394.3,180 397.1,181.8 399.2,184 C401.4,186.2 403.7,188.8 405.1,191.5 C406.5,194.2 407.5,197.7 407.8,200.2 C408.1,202.7 407.9,204.8 406.9,206.5 C406,208.3 404.4,209.9 402.4,210.8 C400.3,211.7 397.5,211.8 394.9,212.1 C392.3,212.3 389.3,212.3 386.7,212.1 C384.1,211.8 381.3,211.7 379.2,210.8 C377.2,209.9 375.6,208.3 374.7,206.5 C373.7,204.8 373.5,202.7 373.8,200.2 C374.1,197.7 375.3,194.2 376.2,191.5 C377.2,188.8 378.2,186.2 379.5,184 C380.9,181.8 383.4,180 384.3,178.1 C385.2,176.2 384.1,173.5 384.8,172.6 C385.5,171.6 387.1,171.6 388.4,172.6Z" fill="#ee6c77"/><ellipse cx="391.3" cy="196.2" rx="11.9" ry="11.5" fill="url(#gr)"/><path d="M369.2,166 C370.2,167.1 370.3,170.2 371.8,172.4 C373.4,174.7 376.6,176.7 378.7,179.3 C380.7,181.9 382.5,184.9 383.9,188.1 C385.3,191.2 386.7,195.3 387,198.2 C387.3,201.1 387.1,203.5 385.9,205.6 C384.8,207.6 382.8,209.5 380.3,210.5 C377.8,211.6 374.3,211.8 371,212 C367.8,212.2 364.2,212.2 361,212 C357.7,211.8 354.2,211.6 351.7,210.5 C349.2,209.5 347.2,207.6 346.1,205.6 C344.9,203.5 344.6,201.1 345,198.2 C345.4,195.3 346.6,191.2 348.2,188.1 C349.7,184.9 352,181.9 354.3,179.3 C356.6,176.7 359.9,174.7 361.8,172.4 C363.7,170.2 364.4,167.1 365.6,166 C366.8,164.9 368.2,164.9 369.2,166Z" fill="#ee6c77"/><ellipse cx="366.5" cy="193.6" rx="14.7" ry="13.3" fill="url(#gr)"/><g><path d="M35.9,123.3 L36.5,122 L37,120.6 L37,120.6 M34.8,121.3 L33.9,121.2 L33,120.7 L33,120.7 M33.4,119.4 L33.8,118.2 L33.8,116.9 L33.8,116.9 M33.4,124.3 L33.3,125.8 L32.9,127.2 L32.9,127.2 M31.1,125.8 L30.2,125.6 L29.3,125.7 L29.3,125.7 M31.5,122.7 L30,122.4 L28.5,121.8 L28.5,121.8 M29.9,120.9 L29.9,119.9 L29.7,119 L29.7,119 M27.9,119.6 L27,120 L26.1,120.1 L26.1,120.1 M29,123.8 L28.8,125.2 L28,126.4 L28,126.4 M27,125.4 L25.9,125.2 L24.8,125.4 L24.8,125.4 M24.5,125.9 L24,126.6 L23.5,127.3 L23.5,127.3 M25.9,122.9 L24.6,123.3 L23.2,123.3 L23.2,123.3 M23.8,122.1 L23.5,121.2 L22.8,120.6 L22.8,120.6 M21.6,121.8 L20.5,122.4 L19.3,122.8 L19.3,122.8 M22.9,125.5 L23.1,127 L23,128.5 L23,128.5 M21.1,127.9 L20.2,127.9 L19.3,128.1 L19.3,128.1 M19.9,124.8 L19.7,123.7 L19,122.7 L19,122.7 M17.7,123.2 L16.8,123.4 L15.9,123.2 L15.9,123.2 M17.9,126.5 L17.8,127.6 L17.5,128.6 L17.5,128.6 M15.2,128.1 L14.2,127.7 L13.2,127.8 L13.2,127.8 M16.1,122.8 L15.2,122 L14.4,121 L14.4,121 M16.2,119.8 L16.8,119.1 L17.4,118.3 L17.4,118.3 M12.3,121.1 L11.6,119.8 L10.5,118.8 L10.5,118.8 M10.1,120.3 L9.2,120.4 L8.4,120.1 L8.4,120.1 M18.2,126.8 L18.9,127.9 L19.5,129.1 L19.5,129.1 M17.8,129.1 L16.7,130 L16.2,131.2 L16.2,131.2 M16.9,131.3 L17.2,132.1 L17.4,132.9 L17.4,132.9 M13.7,127.9 L13,126.6 L12.1,125.5 L12.1,125.5 M11.3,127.5 L10.4,128.5 L9.2,129.1 L9.2,129.1 M11.3,131.9 L11.9,133 L12.5,134.1 L12.5,134.1 M10.6,134.7 L9.8,134.9 L9,135.4 L9,135.4 M7.6,134.6 L6.2,134 L4.7,134.1 L4.7,134.1 M5.6,135.7 L5.4,136.8 L4.8,137.9 L4.8,137.9 M35.7,110.5 L36.9,109.5 L37.7,108.1 L37.7,108.1 M35.2,107.5 L34.5,106.8 L34,106 L34,106 M32.5,110.8 L31.5,110 L30.4,109.5 L30.4,109.5 M29.3,111.2 L28.4,111.9 L27.3,112.3 L27.3,112.3 M30.6,107.8 L31.1,106.6 L31.4,105.4 L31.4,105.4 M30,105.6 L28.9,105.2 L28.1,104.4 L28.1,104.4 M29.1,103.6 L29.6,102.5 L29.9,101.2 L29.9,101.2 M28.1,107.4 L27,106.4 L25.5,106 L25.5,106 M25.9,107.1 L24.6,107.6 L23.3,107.4 L23.3,107.4 M26.8,104.2 L25.6,103.4 L24.7,102.2 L24.7,102.2 M26.5,101.6 L27.4,100.6 L27.6,99.3 L27.6,99.3 M23.4,104.6 L23.4,105.8 L23,106.9 L23,106.9 M21.4,105.6 L20.5,104.9 L19.5,104.5 L19.5,104.5 M18.5,103.2 L18,102 L17,101.1 L17,101.1 M16.6,102.3 L15.4,102.7 L14.2,102.8 L14.2,102.8 M36.8,108.6 L35.5,109 L34.2,108.8 L34.2,108.8 M34.3,107.4 L33.8,106.6 L32.9,106.1 L32.9,106.1 M31.6,107.4 L31,108.4 L30.1,109 L30.1,109 M33.7,111.4 L32.4,112 L31.5,113 L31.5,113 M32.6,113.7 L33,115 L32.9,116.3 L32.9,116.3 M30.4,112.8 L29.3,111.6 L27.9,110.7 L27.9,110.7 M27.8,113.2 L27.2,114 L26.2,114.5 L26.2,114.5 M40,132.6 L40.4,133.5 L40.7,134.5 L40.7,134.5 M38.8,135.3 L37.6,135.6 L36.6,136.2 L36.6,136.2 M36.3,132.9 L35.9,131.9 L35.1,131.2 L35.1,131.2 M34,132.2 L33.1,133.2 L32.1,133.8 L32.1,133.8 M31.5,132.4 L30.8,131.9 L30,131.6 L30,131.6 M32.7,136.5 L33.4,137.5 L33.5,138.6 L33.5,138.6 M31.3,139.1 L30.4,139.2 L29.5,139.5 L29.5,139.5 M28.2,137 L27.2,137.4 L26.1,137.5 L26.1,137.5 M26.1,136.2 L25.7,135.2 L25,134.5 L25,134.5 M40.7,120.4 L41.7,121.1 L42.7,121.6 L42.7,121.6 M42.9,120.5 L44.1,119.5 L45.3,118.7 L45.3,118.7 M45,121.4 L45.4,122.6 L46.2,123.5 L46.2,123.5 M43.3,123.6 L44.5,124.6 L45.5,125.8 L45.5,125.8 M44.6,126.4 L44.6,127.4 L44.8,128.4 L44.8,128.4 M45.7,123.2 L47.1,123.4 L48.5,123.2 L48.5,123.2 M47.8,122.3 L48.6,121.2 L49.6,120.3 L49.6,120.3 M50,122.1 L50.5,122.8 L51.1,123.5 L51.1,123.5 M48.7,126.1 L49.7,126.7 L50.4,127.4 L50.4,127.4 M49.8,128.3 L49.5,129.3 L49.5,130.3 L49.5,130.3 M44.5,101.5 L45.4,102.7 L46.6,103.4 L46.6,103.4 M47.4,101.5 L47.9,100.8 L48.6,100.4 L48.6,100.4 M46.3,98.7 L47.4,98.2 L48.3,97.4 L48.3,97.4 M47.5,97 L47.2,95.9 L47.1,94.8 L47.1,94.8 M38.3,103 L37.6,101.8 L36.5,100.9 L36.5,100.9 M35.4,102 L34.4,102.3 L33.4,102.3 L33.4,102.3 M38.1,99.1 L37.7,98.1 L37.5,97.1 L37.5,97.1 M38.4,96.8 L39.2,95.8 L39.4,94.6 L39.4,94.6 M25.7,119.9 L25.3,118.9 L25.3,117.8 L25.3,117.8 M25.8,117.3 L26.5,116.7 L27.1,116 L27.1,116 M22.5,118.6 L21.5,119.1 L20.4,119.2 L20.4,119.2 M20.1,117.2 L20,116.3 L19.8,115.3 L19.8,115.3 M22.7,114.7 L22.6,113.4 L22.9,112.1 L22.9,112.1 M24,111.8 L24.8,111.3 L25.4,110.6 L25.4,110.6 M20.5,113.3 L18.9,113.2 L17.3,113 L17.3,113 M19.2,111.7 L19.5,110.8 L19.7,109.7 L19.7,109.7" fill="none" stroke="#5fc472" stroke-width="0.7" stroke-opacity="0.45" stroke-linecap="round"/><path d="M36.2,124.1 L35.4,122.3 L34.2,120.3 L32.9,118.7 L32.9,118.7 M34.3,123.7 L32.3,125.1 L30.2,126.2 L30.2,126.2 M32,123.4 L30.7,121.8 L28.9,120.2 L27.1,119.2 L27.1,119.2 M29.7,123.1 L28,124.6 L25.8,125.7 L23.6,126.1 L23.6,126.1 M26.6,123.3 L24.8,122.4 L22.7,121.9 L20.8,121.8 L20.8,121.8 M23.5,124.4 L22.1,126.7 L20.3,128.7 L20.3,128.7 M20.6,125.6 L18.9,123.9 L16.8,122.8 L16.8,122.8 M18.8,125.6 L16.6,127.5 L14,128.5 L14,128.5 M15.9,123.9 L16.2,121.3 L16.1,118.6 L16.1,118.6 M13.2,121.3 L11.1,120.8 L9.2,119.9 L9.2,119.9 M18.3,125.9 L18,127.9 L17.4,130.2 L16.6,132.1 L16.6,132.1 M14.7,128.1 L12.5,127.6 L10.3,127.4 L10.3,127.4 M11.2,130.8 L11.2,133.4 L10.1,135.7 L10.1,135.7 M8.4,134.4 L6.5,135 L5,136.3 L5,136.3 M35.7,111.7 L35.6,109 L34.9,106.3 L34.9,106.3 M33.7,110.4 L30.9,111.2 L28,111.1 L28,111.1 M30.8,108.5 L30.3,106.7 L29.6,104.6 L28.8,102.9 L28.8,102.9 M29,107.3 L27,107.4 L25.1,106.8 L25.1,106.8 M26.7,105.3 L26.8,102.9 L26.3,100.6 L26.3,100.6 M24,104 L22.5,105.3 L20.6,105.8 L20.6,105.8 M19.2,103.7 L17.6,102.7 L15.8,102.1 L15.8,102.1 M37.7,109.1 L35.6,107.9 L33,107.3 L30.6,107.5 L30.6,107.5 M34,110.5 L33.2,112.6 L32.1,114.5 L32.1,114.5 M31.4,112.7 L29.1,112.9 L26.8,113.4 L26.8,113.4 M40.1,131.4 L39.6,134 L38,136.2 L38,136.2 M37.2,133.2 L35.2,132.5 L32.7,132.3 L30.6,132.6 L30.6,132.6 M33.1,135.4 L32.1,137.9 L30.7,140.1 L30.7,140.1 M29,137.4 L27.2,136.5 L25.2,135.9 L25.2,135.9 M39.9,120.4 L41.9,120.4 L44,120.9 L45.7,121.8 L45.7,121.8 M43,122.4 L43.7,125.1 L45.4,127.3 L45.4,127.3 M45,123.5 L46.7,122.6 L48.9,122.1 L50.8,122.1 L50.8,122.1 M48.4,125.2 L49.2,127.3 L50.3,129.1 L50.3,129.1 M43.4,101.4 L45.9,101.6 L48.5,101.3 L48.5,101.3 M46,99.5 L46.8,97.8 L48,96.4 L48,96.4 M39.5,103.2 L36.8,102.6 L34.3,101.4 L34.3,101.4 M37.8,100 L38.4,97.9 L38.3,95.8 L38.3,95.8 M25.4,120.9 L25.9,118.6 L25.7,116.2 L25.7,116.2 M23.7,118.9 L21.2,118.2 L19.3,116.4 L19.3,116.4 M21.9,115.8 L23.6,113.4 L24.2,110.6 L24.2,110.6 M21.2,113.7 L19.7,112.6 L18.8,111 L18.8,111" fill="none" stroke="#5fc472" stroke-width="0.9" stroke-opacity="0.62" stroke-linecap="round"/><path d="M37.6,124.3 L36.2,124.1 L34.3,123.7 L32,123.4 L29.7,123.1 L27.6,123.1 L25.5,123.6 L23.5,124.4 L21.6,125.3 L19.7,125.7 L17.9,125.3 L15.9,123.9 L14,122.2 L12.4,120.4 L11.3,119.3 L11.3,119.3 M18.8,125.6 L17.5,126.4 L15.7,127.4 L13.7,128.7 L12,130 L10.4,131.7 L9,133.5 L7.9,135.1 L7.5,135.6 M37.8,113 L36.5,112.2 L34.7,111 L32.7,109.8 L30.8,108.5 L29,107.3 L27.5,105.9 L25.9,104.7 L24,104 L21.6,103.8 L19.2,103.7 L17.5,103.7 L17.5,103.7 M39.5,108.5 L37.7,109.1 L35.1,110 L33,111 L31.4,112.7 L30.4,114.4 L30,115 M41.4,130.6 L40.1,131.4 L38.2,132.6 L36.1,133.8 L34.2,134.9 L32,136 L29.9,137 L28.2,137.8 L27.6,138.1 M37.8,119 L39.1,119.9 L40.9,121.1 L43,122.4 L45,123.5 L47.2,124.7 L49.5,125.8 L51.4,126.7 L52,127 M42,102.5 L43.4,101.4 L45.2,100 L47.5,98.8 L48.5,98.5 M40.3,105 L39.5,103.2 L38.5,101 L37,99.1 L36.5,98.5 M27.6,123.1 L26.3,121.8 L24.5,119.9 L23,118 L21.9,115.8 L21.2,113.7 L21,113" fill="none" stroke="#5fc472" stroke-width="1.25" stroke-opacity="0.82" stroke-linecap="round" stroke-linejoin="round"/><path d="M39.8,97.8 L40.6,98.6 L41.7,99.9 L42,101.7 L41.2,103.9 L39.8,106.7 L38.2,109.8 L37.1,112.9 L36.6,115.3 L36.3,117.7 L36.1,120.2 L36.3,122.9 L36.7,125.8 L37.3,128.1 L38.1,130.4 L39,132.9 L40,135.4 L41,138 L42,140.6 L42.8,143.4 L43.3,145.7 L43.8,148 L44.3,150.4 L44.7,152.8 L45.1,155.3 L45.5,157.9 L45.9,160.6 L46.2,163.3 L46.5,166.2 L46.7,168.6 L46.9,171.1 L47.1,173.6 L47.2,176.3 L47.4,179 L47.5,181.7 L47.6,184.4 L47.7,187.2 L47.7,189.8 L47.8,192.5 L47.9,195.1 L47.9,198 L48,201 L48,204.1 L48,207.3 L48,210.3 L48,213.3 L47.9,216 L47.9,218.4 L47.9,220.4 L47.9,222 L52.5,222 L52.5,220.4 L52.4,218.3 L52.4,215.9 L52.3,213.2 L52.2,210.3 L52.2,207.2 L52.1,204.1 L52,200.9 L51.9,197.8 L51.7,194.9 L51.6,192.3 L51.4,189.7 L51.3,187 L51.1,184.3 L50.9,181.5 L50.7,178.8 L50.5,176.1 L50.3,173.4 L50.1,170.8 L49.8,168.3 L49.5,165.8 L49.1,163 L48.7,160.2 L48.3,157.5 L47.8,154.9 L47.3,152.3 L46.8,149.8 L46.2,147.4 L45.6,145.1 L45,142.8 L44.1,139.9 L43.1,137.2 L42,134.6 L40.9,132.1 L39.9,129.7 L39.1,127.5 L38.5,125.4 L38,122.7 L37.8,120.2 L37.9,117.8 L38.1,115.6 L38.5,113.3 L39.5,110.3 L41,107.2 L42.4,104.4 L43.2,101.9 L42.7,99.4 L41.4,97.9 L40.4,97Z" fill="#21c043"/><path d="M48,219.5 C47,220.4 48.4,222.8 46.6,224.5 C44.8,226.2 39.5,227.7 37.4,229.9 C35.3,232.1 34.3,235.2 34.1,237.7 C34,240.2 35,243.4 36.6,245 C38.2,246.7 41.4,247.1 43.8,247.5 C46.1,247.9 48.6,247.8 50.9,247.4 C53.2,247 55.9,246.6 57.4,245 C58.9,243.4 60,240.2 59.9,237.7 C59.7,235.2 57.6,232.1 56.6,229.9 C55.6,227.7 54.5,226.2 53.8,224.5 C53.1,222.8 53.4,220.4 52.4,219.5 C51.4,218.7 49,218.7 48,219.5Z" fill="url(#gg)"/></g><g><path d="M64.3,115.2 L65.3,115.9 L66.4,116.2 L66.4,116.2 M67.1,115 L67.9,114.1 L68.9,113.4 L68.9,113.4 M69.7,113.9 L70.6,114.2 L71.6,114.1 L71.6,114.1 M65.2,112.9 L66.4,112.2 L67.2,110.9 L67.2,110.9 M65.5,110.4 L64.8,109.1 L64.7,107.6 L64.7,107.6 M66.7,108.1 L67.7,107.9 L68.5,107.4 L68.5,107.4 M70.4,111.6 L71.5,111.3 L72.6,111.3 L72.6,111.3 M73.6,112.2 L74.5,113 L75.6,113.6 L75.6,113.6 M72.5,109.1 L71.8,107.8 L71.4,106.3 L71.4,106.3 M73.5,107.1 L75,106.9 L76.1,106 L76.1,106 M74.9,105.4 L75.1,104.1 L75.6,102.9 L75.6,102.9 M77.1,109.8 L77.2,111.3 L78,112.6 L78,112.6 M79.6,111.4 L80.5,111.2 L81.4,111.3 L81.4,111.3 M80.9,107.1 L80.8,105.7 L80.9,104.2 L80.9,104.2 M83.1,104.9 L84,104.7 L84.7,104.2 L84.7,104.2 M84.6,107.6 L86,107.4 L87.4,107.5 L87.4,107.5 M86.4,108.3 L87.3,109.1 L88.3,109.6 L88.3,109.6 M86.6,105.6 L86.1,104.5 L85.8,103.2 L85.8,103.2 M88.1,103.3 L89.4,103.4 L90.6,102.8 L90.6,102.8 M60.1,124.8 L61.7,124.9 L63.2,124.6 L63.2,124.6 M62,122.8 L61.9,121.5 L62.3,120.3 L62.3,120.3 M64.4,121.6 L65.4,121.9 L66.4,121.7 L66.4,121.7 M62,125.9 L62.3,127.1 L62.9,128.2 L62.9,128.2 M64.3,127.5 L65.8,127.3 L67.3,127.4 L67.3,127.4 M66.8,128.9 L67.2,130 L67.9,130.9 L67.9,130.9 M65.3,124.2 L66.4,124.2 L67.5,124 L67.5,124 M67.5,122.5 L67.6,121.4 L67.9,120.4 L67.9,120.4 M68.8,125.2 L68.8,126.4 L69.3,127.5 L69.3,127.5 M70.8,127 L71.9,126.9 L72.9,127.1 L72.9,127.1 M73.1,128.6 L73.3,129.8 L73.9,130.9 L73.9,130.9 M70.7,123.4 L70.5,121.7 L71.1,120.2 L71.1,120.2 M72.6,121.6 L73.8,121.7 L75.1,121.6 L75.1,121.6 M73.1,124.5 L73.3,126.2 L73.8,127.8 L73.8,127.8 M75.3,125.7 L76.5,125.1 L77.8,124.9 L77.8,124.9 M75.7,122.9 L75.3,121.7 L75.1,120.4 L75.1,120.4 M77.2,121.1 L78.4,121.1 L79.6,120.9 L79.6,120.9 M79.1,120 L79.4,119.2 L79.9,118.5 L79.9,118.5 M80.1,123.8 L80.4,124.8 L81.1,125.6 L81.1,125.6 M82.7,124.7 L83.5,124.1 L84.4,123.6 L84.4,123.6 M83.3,122.5 L84.9,122.8 L86.6,123 L86.6,123 M86.2,121.2 L86.5,120.3 L87.1,119.6 L87.1,119.6 M86.7,124.7 L87.9,125.5 L88.8,126.6 L88.8,126.6 M88.4,126.9 L88.6,128 L89.1,129 L89.1,129 M89.2,123.4 L89.7,122.2 L90.5,121 L90.5,121 M91.6,122.5 L92.5,123 L93.5,123.1 L93.5,123.1 M93,125.4 L94.1,125.6 L95.1,126 L95.1,126 M94,127.3 L93.9,128.4 L94,129.6 L94,129.6 M97.1,124.4 L97.2,123.1 L97.7,121.8 L97.7,121.8 M98.9,122.6 L100.1,122.9 L101.2,123 L101.2,123 M63.9,130.6 L63.4,129.5 L63.2,128.3 L63.2,128.3 M65.6,128 L66.4,128 L67.2,127.7 L67.2,127.7 M66.2,131.1 L66.8,131.9 L67.6,132.5 L67.6,132.5 M69,131 L69.8,130.1 L70.8,129.4 L70.8,129.4 M70.1,128.1 L69.9,126.7 L70.1,125.3 L70.1,125.3 M71.9,126.4 L72.9,126.7 L74,126.6 L74,126.6 M74.9,128.9 L76,128.8 L77.1,128.9 L77.1,128.9 M77.6,130.4 L78.1,131.3 L79,131.9 L79,131.9 M77.4,127.8 L77.7,126.6 L78.5,125.7 L78.5,125.7 M79.8,126.7 L80.5,127.2 L81.3,127.6 L81.3,127.6 M78.9,129.6 L78.3,131 L78.3,132.6 L78.3,132.6 M79.7,131.3 L80.5,131.5 L81.3,132 L81.3,132 M58.6,114 L57.6,113.7 L56.7,113.1 L56.7,113.1 M57.5,111.8 L57.8,110.8 L57.7,109.9 L57.7,109.9 M55.9,109.9 L54.6,110.2 L53.4,110 L53.4,110 M56.1,114 L54.7,113.4 L53.3,113 L53.3,113 M53.1,114.1 L52.3,115 L51.1,115.4 L51.1,115.4 M54.1,110.9 L55.2,109.8 L56,108.5 L56,108.5 M53.6,108.6 L52.5,108 L51.8,106.9 L51.8,106.9 M52.3,106.7 L52.3,105.5 L52.2,104.3 L52.2,104.3 M49.7,109.4 L49,110.6 L47.9,111.4 L47.9,111.4 M47.5,109.6 L46.8,108.9 L45.9,108.3 L45.9,108.3 M56,126.6 L54.5,127.3 L53.2,128.2 L53.2,128.2 M54.7,128.9 L54.9,129.9 L54.7,130.9 L54.7,130.9 M51.6,125.7 L52,124 L51.7,122.4 L51.7,122.4 M50.1,123.2 L48.9,122.9 L47.9,122.3 L47.9,122.3 M47.8,125 L46.7,123.9 L45.5,122.9 L45.5,122.9 M45.8,124.7 L44.7,125.2 L43.5,125.2 L43.5,125.2 M66.5,103.6 L67.4,102.6 L67.8,101.3 L67.8,101.3 M66.8,101.1 L65.9,99.9 L65.2,98.6 L65.2,98.6 M67.9,98.8 L68.7,98.4 L69.3,97.7 L69.3,97.7 M69.5,102.8 L70.1,103.7 L70.8,104.6 L70.8,104.6 M72.6,102.5 L73,101.6 L73.5,100.9 L73.5,100.9 M63,108 L62.4,106.9 L61.9,105.8 L61.9,105.8 M63.8,105.6 L64.4,104.8 L64.9,103.8 L64.9,103.8 M63.5,103 L62.8,102.6 L62.2,102.1 L62.2,102.1 M60.3,105.4 L59.2,106 L57.9,106.2 L57.9,106.2 M58.3,104.3 L57.8,103.1 L57,102.2 L57,102.2 M56.4,103 L55.5,103.3 L54.6,103.3 L54.6,103.3 M58.7,101.1 L57.8,99.9 L57.3,98.4 L57.3,98.4 M59.1,98.8 L60.2,97.9 L61,96.9 L61,96.9 M80.9,120.9 L81.6,119.4 L82,117.8 L82,117.8 M80.6,118.2 L80,117.5 L79.5,116.7 L79.5,116.7 M84.4,119.3 L84.9,118.4 L85.6,117.6 L85.6,117.6 M86.7,118.7 L87.5,119.1 L88.4,119.1 L88.4,119.1 M85,117 L86.3,116.2 L87,114.8 L87,114.8 M85.6,114.5 L85.4,113.3 L85.5,112.1 L85.5,112.1 M89.1,116.9 L89.4,118 L90.1,118.9 L90.1,118.9 M91.1,117.4 L92,116.7 L92.9,116.2 L92.9,116.2 M72.5,107.8 L73.5,108.6 L74.5,109.2 L74.5,109.2 M75.2,106.4 L75.1,105.3 L75.4,104.3 L75.4,104.3 M72.1,105 L71.2,104.4 L70.5,103.5 L70.5,103.5 M71.7,102.7 L72.5,102.1 L73.1,101.4 L73.1,101.4 M74.7,104.3 L75.7,103.4 L76.8,103 L76.8,103 M77.1,103.9 L78.2,104.3 L79.4,104.4 L79.4,104.4 M76.5,101.6 L77.7,101.1 L78.6,100.3 L78.6,100.3 M77.2,99.7 L76.6,98.7 L76.5,97.6 L76.5,97.6" fill="none" stroke="#5fc472" stroke-width="0.7" stroke-opacity="0.45" stroke-linecap="round"/><path d="M63.4,115.3 L65.7,115.2 L68.4,114.5 L70.6,113.4 L70.6,113.4 M65.2,113.9 L65.3,111.6 L66,109.2 L67.1,107.3 L67.1,107.3 M69.2,111.1 L72,112.1 L74.8,112.2 L74.8,112.2 M72.2,109.9 L73,108.1 L74.2,106.2 L75.4,104.7 L75.4,104.7 M76.3,108.9 L78.2,110.8 L80.7,111.8 L80.7,111.8 M80.2,108.1 L81.9,106 L84,104.1 L84,104.1 M84,107.1 L85.5,108.1 L87.2,108.4 L87.2,108.4 M86.2,106.6 L87.2,104.4 L88.8,102.5 L88.8,102.5 M59.5,125.5 L61,123.7 L63.1,122.1 L65.3,121.2 L65.3,121.2 M61.2,125.3 L63.2,126.7 L65.6,128.2 L67.7,129.3 L67.7,129.3 M64.5,125 L66.3,123.2 L68.4,121.9 L68.4,121.9 M68.1,124.5 L69.8,126.1 L72,127.8 L73.9,129.1 L73.9,129.1 M70.2,124.3 L71.5,122.3 L73.5,121.1 L73.5,121.1 M72.3,124 L74.1,125.2 L76.2,126 L76.2,126 M75.3,123.5 L76.4,122 L78.1,120.5 L79.8,119.6 L79.8,119.6 M79.2,123.1 L81.3,124.5 L83.9,124.8 L83.9,124.8 M82.2,123.2 L84.6,121.7 L87.4,120.9 L87.4,120.9 M86.3,123.7 L87.3,126 L89.3,127.6 L89.3,127.6 M88.3,124 L90.3,122.8 L92.7,122.4 L92.7,122.4 M92.7,124.6 L93.5,126.4 L94.5,128 L94.5,128 M96.4,125.2 L97.9,123.5 L99.7,122 L99.7,122 M63.3,131.7 L64.7,129.3 L66.3,127.1 L66.3,127.1 M65,130.9 L67.6,131.2 L70.1,130.7 L70.1,130.7 M69.6,129 L70.8,127.1 L72.7,126 L72.7,126 M74,128 L76.1,129.8 L78.8,130.8 L78.8,130.8 M76.5,128.4 L78.6,127.2 L80.8,126.4 L80.8,126.4 M78.7,129 L79.2,130.5 L80.1,131.9 L80.1,131.9 M59,114.8 L58.1,112.8 L56.8,110.8 L55.2,109.3 L55.2,109.3 M57.2,113.7 L54.6,114.2 L51.9,114 L51.9,114 M54.3,111.7 L53.9,109.7 L53,107.6 L51.8,106 L51.8,106 M50.6,109.1 L48.6,109.7 L46.6,109.4 L46.6,109.4 M56.4,125.7 L55.4,127.8 L54.1,129.8 L54.1,129.8 M51.9,126.8 L51,124.3 L49.2,122.3 L49.2,122.3 M48.6,125 L46.8,125 L45.1,124.5 L45.1,124.5 M66.4,104.4 L66.6,102.3 L67.3,99.9 L68.3,98 L68.3,98 M68.2,102.7 L71,102.8 L73.8,102.2 L73.8,102.2 M62.7,108.9 L63.5,106.8 L63.7,104.3 L63.3,102.1 L63.3,102.1 M61,105.8 L59.3,104.9 L57.3,103.7 L55.7,102.5 L55.7,102.5 M58.5,102 L59,100 L59.2,97.8 L59.2,97.8 M81.2,121.9 L80.6,119.6 L80.7,117.1 L80.7,117.1 M83.5,119.4 L85.6,119.1 L87.6,118.3 L87.6,118.3 M85,118 L85.1,115.7 L86.1,113.6 L86.1,113.6 M88.4,116.5 L90.1,117.2 L91.9,117.5 L91.9,117.5 M71.4,108 L74,107.3 L76.1,105.6 L76.1,105.6 M72.4,105.8 L71.7,103.9 L71.8,101.8 L71.8,101.8 M73.8,104.2 L75.9,104.2 L78,103.5 L78,103.5 M76.4,102.4 L76.8,100.6 L77.5,99.1 L77.5,99.1" fill="none" stroke="#5fc472" stroke-width="0.9" stroke-opacity="0.62" stroke-linecap="round"/><path d="M61.4,116.8 L62.6,115.9 L64.2,114.6 L66.2,113.1 L68.2,111.7 L70.2,110.6 L72.2,109.9 L74.2,109.3 L76.3,108.9 L78.3,108.5 L80.2,108.1 L82.7,107.5 L85.1,106.8 L87,106.4 L87.7,106.2 M58.9,125.6 L60.3,125.4 L62.2,125.2 L64.5,125 L66.9,124.7 L69.2,124.4 L71.3,124.2 L73.3,123.9 L75.3,123.5 L77.2,123.3 L79.2,123.1 L81.2,123.1 L83.2,123.3 L85.3,123.5 L87.3,123.9 L89.2,124.2 L91.4,124.5 L94,124.8 L96.4,125.2 L98.3,125.5 L99,125.6 M62.7,131.9 L64.1,131.3 L66.1,130.4 L68.4,129.4 L70.7,128.6 L72.7,128.1 L75.2,128.1 L77.6,128.7 L79.5,129.2 L80.2,129.4 M60.2,115.6 L59,114.8 L57.2,113.7 L55.2,112.4 L53.4,111.1 L51.6,109.9 L49.6,108.4 L48.1,107.2 L47.6,106.8 M59,124 L57.4,125 L55.2,126.3 L53,127 L50.8,126.3 L48.6,125 L47,124 L47,124 M65,105.8 L66.4,104.4 L68.2,102.7 L70.5,101 L71.5,100.5 M63,109.5 L62.2,108 L61,105.8 L60,104 L58.5,102 L58,101.5 M80.2,123.1 L81.2,121.9 L82.7,120.2 L84.3,118.6 L86.1,117.4 L88.4,116.5 L90,116 L90,116 M70.2,110.6 L70.9,109.1 L71.9,106.9 L73,105 L74.7,103.5 L76.4,102.4 L77,102" fill="none" stroke="#5fc472" stroke-width="1.25" stroke-opacity="0.82" stroke-linecap="round" stroke-linejoin="round"/><path d="M61,100.2 L62.3,101.6 L64,103.6 L64.6,105.4 L63.5,107.3 L61.4,109.7 L59.5,112.8 L58.8,115 L58.2,117.3 L57.7,119.9 L57.6,122.8 L58,125.8 L58.8,128.2 L60,130.7 L61.4,133.3 L63,135.9 L64.4,138.5 L65.7,141.1 L66.6,143.5 L67.3,146 L67.7,148.3 L68,150.6 L68.1,153.1 L68.2,156.2 L68.4,160.1 L68.5,162.4 L68.5,164.9 L68.6,167.7 L68.6,170.6 L68.6,173.7 L68.7,176.8 L68.7,180 L68.7,183.2 L68.7,186.3 L68.7,189.4 L68.7,192.3 L68.7,195 L68.7,197.9 L68.7,200.9 L68.7,203.9 L68.7,206.9 L68.6,209.8 L68.6,212.6 L68.6,215.2 L68.6,217.6 L68.5,219.7 L68.5,221.5 L68.5,223 L73.1,223 L73.1,221.5 L73,219.7 L73,217.6 L73,215.2 L72.9,212.6 L72.9,209.8 L72.8,206.9 L72.7,203.9 L72.7,200.9 L72.6,197.9 L72.5,195 L72.4,192.2 L72.3,189.3 L72.3,186.3 L72.2,183.2 L72.1,180 L72,176.8 L71.9,173.6 L71.8,170.5 L71.6,167.6 L71.5,164.8 L71.4,162.2 L71.2,159.9 L71,156.1 L70.8,153 L70.5,150.3 L70.2,147.9 L69.6,145.4 L68.8,142.7 L67.7,140.1 L66.3,137.5 L64.8,134.8 L63.2,132.3 L61.7,129.8 L60.5,127.5 L59.8,125.4 L59.3,122.6 L59.3,120.1 L59.7,117.7 L60.3,115.4 L60.9,113.4 L62.5,110.5 L64.6,108.1 L65.8,105.6 L64.9,103 L63.1,100.9 L61.8,99.6Z" fill="#21c043"/><path d="M68.6,220.2 C67.6,221.1 68.5,223.5 67.2,225.2 C65.9,227 62.6,228.5 61,230.8 C59.4,233 57.8,236.2 57.6,238.8 C57.5,241.3 58.5,244.6 60.2,246.2 C61.9,247.9 65.2,248.3 67.6,248.8 C70.1,249.2 72.7,249.1 75,248.7 C77.4,248.2 80.2,247.9 81.8,246.2 C83.4,244.6 84.5,241.3 84.4,238.8 C84.2,236.2 82.7,233 81,230.8 C79.3,228.5 75.7,227 74.4,225.2 C73.1,223.5 74,221.1 73,220.2 C72,219.4 69.6,219.4 68.6,220.2Z" fill="url(#gg)"/></g></g>
<g><use href="#r" x="40.3" y="144.2"/><use href="#r" x="38" y="159.4"/><use href="#r" x="60.3" y="143.9"/><use href="#r" x="61.7" y="155.4"/><use href="#r" x="82.3" y="143.9"/><use href="#r" x="87.6" y="156"/><use href="#r" x="103.9" y="146.1"/><use href="#r" x="99.7" y="152.3"/><use href="#r" x="109.6" y="159.4"/><use href="#r" x="128.5" y="150.4"/><use href="#r" x="145.4" y="146.1"/><use href="#r" x="148.2" y="156.5"/><use href="#r" x="45.4" y="183.6"/><use href="#r" x="55.8" y="177.1"/><use href="#r" x="76.1" y="174.3"/><use href="#r" x="82" y="183.6"/><use href="#r" x="89.6" y="177.1"/><use href="#r" x="106.2" y="171.5"/><use href="#r" x="105.9" y="184.2"/><use href="#r" x="125.6" y="175.1"/><use href="#r" x="132.7" y="172.9"/><use href="#r" x="128.5" y="184.7"/><use href="#r" x="148.2" y="171.5"/><use href="#r" x="150.4" y="177.7"/><use href="#r" x="41.1" y="206.1"/><use href="#r" x="54.9" y="208.7"/><use href="#r" x="60.3" y="198.8"/><use href="#r" x="82.5" y="198.2"/><use href="#r" x="84.8" y="211.8"/><use href="#r" x="101.1" y="206.1"/><use href="#r" x="114.4" y="208.7"/><use href="#r" x="128.5" y="209.5"/><use href="#r" x="134.1" y="201.1"/><use href="#r" x="144.5" y="199.6"/><use href="#r" x="152.4" y="211.5"/><use href="#r" x="158" y="203.9"/><use href="#r" x="43.4" y="227"/><use href="#r" x="51.5" y="235.4"/><use href="#r" x="39.7" y="239.9"/><use href="#r" x="71.5" y="230.6"/><use href="#r" x="65.9" y="240.5"/><use href="#r" x="84.2" y="227"/><use href="#r" x="103.4" y="227"/><use href="#r" x="109" y="231.5"/><use href="#r" x="99.7" y="240.5"/><use href="#r" x="112.4" y="239.9"/><use href="#r" x="133.5" y="222.2"/><use href="#r" x="148.2" y="223.6"/><use href="#r" x="131.3" y="230.6"/><use href="#r" x="143.9" y="237.1"/><use href="#r" x="172.5" y="150.4"/><use href="#r" x="176.2" y="160.2"/><use href="#r" x="191.7" y="154"/><use href="#r" x="200.1" y="144.2"/><use href="#r" x="216.8" y="147"/><use href="#r" x="223.2" y="157.4"/><use href="#r" x="241.5" y="144.2"/><use href="#r" x="239.3" y="155.4"/><use href="#r" x="257.9" y="143.9"/><use href="#r" x="262.7" y="156"/><use href="#r" x="283.8" y="143.9"/><use href="#r" x="279.6" y="150.4"/><use href="#r" x="164.1" y="178.5"/><use href="#r" x="178.2" y="180.5"/><use href="#r" x="188.9" y="175.7"/><use href="#r" x="195.1" y="183.3"/><use href="#r" x="203" y="178.5"/><use href="#r" x="214.2" y="167.3"/><use href="#r" x="228.3" y="170.1"/><use href="#r" x="225.5" y="178.5"/><use href="#r" x="239.6" y="181.3"/><use href="#r" x="260.4" y="177.1"/><use href="#r" x="282.4" y="170.1"/><use href="#r" x="280.1" y="180.5"/><use href="#r" x="157" y="203.3"/><use href="#r" x="170.3" y="195.4"/><use href="#r" x="179" y="203.3"/><use href="#r" x="188" y="202.5"/><use href="#r" x="210.6" y="206.1"/><use href="#r" x="237.3" y="198.2"/><use href="#r" x="161.8" y="227"/><use href="#r" x="174.5" y="219.4"/><use href="#r" x="176.8" y="227.8"/><use href="#r" x="194.5" y="222.2"/><use href="#r" x="200.1" y="229.8"/><use href="#r" x="222.7" y="214.3"/><use href="#r" x="222.7" y="229.2"/><use href="#r" x="234.5" y="232"/><use href="#r" x="242.1" y="239.1"/><use href="#r" x="247.2" y="219.4"/><use href="#r" x="268.3" y="215.1"/><use href="#r" x="266.3" y="223"/><use href="#r" x="279.6" y="226.4"/><use href="#r" x="259.3" y="239.9"/><use href="#r" x="284.2" y="144.2"/><use href="#r" x="306.2" y="152.3"/><use href="#r" x="320.8" y="150.4"/><use href="#r" x="353.8" y="146.1"/><use href="#r" x="375.2" y="148.1"/><use href="#r" x="399.7" y="145.3"/><use href="#r" x="396.1" y="158.2"/><use href="#r" x="412.4" y="153.2"/><use href="#r" x="282.3" y="170.1"/><use href="#r" x="299.7" y="172.3"/><use href="#r" x="309.6" y="176.3"/><use href="#r" x="320.8" y="177.7"/><use href="#r" x="330.1" y="172"/><use href="#r" x="344.2" y="170.1"/><use href="#r" x="412.4" y="177.1"/><use href="#r" x="300.3" y="198.8"/><use href="#r" x="413.8" y="201.1"/><use href="#r" x="423.1" y="207.5"/><use href="#r" x="344.2" y="180.8"/><use href="#r" x="362.5" y="171.5"/><use href="#r" x="333.5" y="191.2"/><use href="#r" x="355.5" y="189.2"/><use href="#r" x="337.7" y="206.1"/><use href="#r" x="373.8" y="195.4"/><use href="#r" x="382.8" y="185.6"/><use href="#r" x="396.3" y="189.2"/><use href="#r" x="387" y="198.8"/><use href="#r" x="384.8" y="207.5"/><use href="#r" x="398.3" y="210.4"/><use href="#r" x="317.5" y="215.7"/><use href="#r" x="323.7" y="222.7"/><use href="#r" x="314.6" y="232"/><use href="#r" x="328.5" y="235.4"/><use href="#r" x="289.9" y="236.3"/><use href="#r" x="303.1" y="239.1"/><use href="#r" x="344.2" y="229.2"/><use href="#r" x="354.6" y="237.1"/><use href="#r" x="364.5" y="228.7"/><use href="#r" x="373" y="239.1"/><use href="#r" x="390.7" y="224.2"/><use href="#r" x="396.9" y="234"/><use href="#r" x="389.3" y="239.9"/><use href="#r" x="411.8" y="227.8"/><use href="#r" x="421.7" y="230.6"/><use href="#r" x="417.2" y="239.9"/></g>
<g><rect x="49.5" y="272.8" width="76.5" height="81.2" fill="#8bc2fb" stroke="#000" stroke-width="2"/><rect x="130.6" y="272.8" width="75.6" height="81.2" fill="#8bc2fb" stroke="#000" stroke-width="2"/><rect x="237.3" y="270.9" width="75.7" height="80.5" fill="#8bc2fb" stroke="#000" stroke-width="2"/><rect x="317.5" y="270.9" width="76.4" height="80.5" fill="#8bc2fb" stroke="#000" stroke-width="2"/><circle cx="67" cy="291.2" r="8.2" fill="#000"/><text class="s" transform="translate(67.2,295.9) scale(0.86,1)" font-size="13" fill="#fff8ee" text-anchor="middle">B</text><circle cx="109.2" cy="336" r="8.2" fill="#000"/><text class="s" transform="translate(109.4,340.7) scale(0.86,1)" font-size="13" fill="#fff8ee" text-anchor="middle">B</text><circle cx="147.6" cy="291.5" r="8.2" fill="#000"/><text class="s" transform="translate(147.8,296.2) scale(0.86,1)" font-size="13" fill="#fff8ee" text-anchor="middle">B</text><circle cx="188.7" cy="292.4" r="8.2" fill="#000"/><text class="s" transform="translate(188.9,297.1) scale(0.86,1)" font-size="13" fill="#fff8ee" text-anchor="middle">B</text><circle cx="255.4" cy="289" r="8.2" fill="#18a838"/><text class="s" transform="translate(255.6,293.7) scale(0.86,1)" font-size="13" fill="#fff8ee" text-anchor="middle">C</text><circle cx="296" cy="289" r="8.2" fill="#18a838"/><text class="s" transform="translate(296.2,293.7) scale(0.86,1)" font-size="13" fill="#fff8ee" text-anchor="middle">C</text><circle cx="334.3" cy="288.2" r="8.2" fill="#18a838"/><text class="s" transform="translate(334.5,292.9) scale(0.86,1)" font-size="13" fill="#fff8ee" text-anchor="middle">C</text><circle cx="376.5" cy="289" r="8.2" fill="#f01414"/><text class="s" transform="translate(376.7,293.7) scale(0.86,1)" font-size="13" fill="#fff8ee" text-anchor="middle">D</text><path d="M88.3,345.6 L93.6,351.7 L91.1,351.7 L91.1,359.2 L85.5,359.2 L85.5,351.7 L83,351.7 Z" fill="#000"/><g fill="#0a0a0a"><circle cx="84.4" cy="366.8" r="3.4"/><circle cx="92.2" cy="366.8" r="3.4"/><ellipse cx="88.3" cy="372.8" rx="4.7" ry="4.5"/><path d="M89.1,376.5 q1.6,2.4 2.6,4.6" stroke="#444" stroke-width="0.8" fill="none"/></g><path d="M168.2,345.6 L173.5,351.7 L171,351.7 L171,359.2 L165.4,359.2 L165.4,351.7 L162.9,351.7 Z" fill="#000"/><g fill="#0a0a0a"><circle cx="164.3" cy="366.8" r="3.4"/><circle cx="172.1" cy="366.8" r="3.4"/><ellipse cx="168.2" cy="372.8" rx="4.7" ry="4.5"/><path d="M169,376.5 q1.6,2.4 2.6,4.6" stroke="#444" stroke-width="0.8" fill="none"/></g><path d="M275.7,343.8 L281,349.9 L278.5,349.9 L278.5,357.4 L272.9,357.4 L272.9,349.9 L270.4,349.9 Z" fill="#000"/><g fill="#0a0a0a"><circle cx="271.8" cy="364.8" r="3.4"/><circle cx="279.6" cy="364.8" r="3.4"/><ellipse cx="275.7" cy="370.8" rx="4.7" ry="4.5"/><path d="M276.5,374.5 q1.6,2.4 2.6,4.6" stroke="#444" stroke-width="0.8" fill="none"/></g><path d="M354,343.8 L359.3,349.9 L356.8,349.9 L356.8,357.4 L351.2,357.4 L351.2,349.9 L348.7,349.9 Z" fill="#000"/><g fill="#0a0a0a"><circle cx="350.1" cy="364.8" r="3.4"/><circle cx="357.9" cy="364.8" r="3.4"/><ellipse cx="354" cy="370.8" rx="4.7" ry="4.5"/><path d="M354.8,374.5 q1.6,2.4 2.6,4.6" stroke="#444" stroke-width="0.8" fill="none"/></g><g stroke-linejoin="round"><path d="M84.2,417.7 L100.2,388.8 L167.5,388.8 L167.5,442.4 L152.1,469.8 L84.2,469.8 Z" fill="#a8cbfa"/><clipPath id="fl84"><path d="M84.2,469.8 L152.1,469.8 L167.5,442.4 L100.2,442.4 Z"/></clipPath><g clip-path="url(#fl84)"><rect x="84.2" y="442.4" width="83.3" height="27.4" fill="#fff"/><path d="M61.1,470.8 L78.3,441.4 M66.9,470.8 L84.1,441.4 M72.7,470.8 L89.8,441.4 M78.4,470.8 L95.6,441.4 M84.2,470.8 L101.4,441.4 M90,470.8 L107.1,441.4 M95.7,470.8 L112.9,441.4 M101.5,470.8 L118.7,441.4 M107.3,470.8 L124.4,441.4 M113,470.8 L130.2,441.4 M118.8,470.8 L136,441.4 M124.6,470.8 L141.8,441.4 M130.4,470.8 L147.5,441.4 M136.1,470.8 L153.3,441.4 M141.9,470.8 L159.1,441.4 M147.7,470.8 L164.8,441.4 M153.4,470.8 L170.6,441.4" stroke="#111" stroke-width="2"/></g><rect x="100.2" y="388.8" width="67.3" height="53.6" fill="none" stroke="#111" stroke-width="1.8"/><rect x="84.2" y="417.7" width="67.9" height="52.1" fill="none" stroke="#111" stroke-width="1.8"/><path d="M84.2,417.7 L100.2,388.8" fill="none" stroke="#111" stroke-width="1.8"/><path d="M152.1,417.7 L167.5,388.8" fill="none" stroke="#111" stroke-width="1.8"/><path d="M84.2,469.8 L100.2,442.4" fill="none" stroke="#111" stroke-width="1.8"/><path d="M152.1,469.8 L167.5,442.4" fill="none" stroke="#111" stroke-width="1.8"/></g><g stroke-linejoin="round"><path d="M174.7,417.7 L190,388.8 L257.3,388.8 L257.3,442.4 L242,469.8 L174.7,469.8 Z" fill="#a8cbfa"/><clipPath id="fl174"><path d="M174.7,469.8 L242,469.8 L257.3,442.4 L190,442.4 Z"/></clipPath><g clip-path="url(#fl174)"><rect x="174.7" y="442.4" width="82.6" height="27.4" fill="#fff"/><path d="M151.6,470.8 L168,441.4 M157.4,470.8 L173.8,441.4 M163.2,470.8 L179.6,441.4 M168.9,470.8 L185.3,441.4 M174.7,470.8 L191.1,441.4 M180.5,470.8 L196.9,441.4 M186.2,470.8 L202.7,441.4 M192,470.8 L208.4,441.4 M197.8,470.8 L214.2,441.4 M203.6,470.8 L220,441.4 M209.3,470.8 L225.7,441.4 M215.1,470.8 L231.5,441.4 M220.9,470.8 L237.3,441.4 M226.6,470.8 L243,441.4 M232.4,470.8 L248.8,441.4 M238.2,470.8 L254.6,441.4 M243.9,470.8 L260.4,441.4" stroke="#111" stroke-width="2"/></g><rect x="190" y="388.8" width="67.3" height="53.6" fill="none" stroke="#111" stroke-width="1.8"/><rect x="174.7" y="417.7" width="67.3" height="52.1" fill="none" stroke="#111" stroke-width="1.8"/><path d="M174.7,417.7 L190,388.8" fill="none" stroke="#111" stroke-width="1.8"/><path d="M242,417.7 L257.3,388.8" fill="none" stroke="#111" stroke-width="1.8"/><path d="M174.7,469.8 L190,442.4" fill="none" stroke="#111" stroke-width="1.8"/><path d="M242,469.8 L257.3,442.4" fill="none" stroke="#111" stroke-width="1.8"/></g><g stroke-linejoin="round"><rect x="281.8" y="388.8" width="66.3" height="53" fill="none" stroke="#111" stroke-width="1.8"/><rect x="264.9" y="417.7" width="67.9" height="52.1" fill="none" stroke="#111" stroke-width="1.8"/><path d="M264.9,417.7 L281.8,388.8" fill="none" stroke="#111" stroke-width="1.8"/><path d="M332.8,417.7 L348.1,388.8" fill="none" stroke="#111" stroke-width="1.8"/><path d="M264.9,469.8 L281.8,441.8" fill="none" stroke="#111" stroke-width="1.8"/><path d="M332.8,469.8 L348.1,441.8" fill="none" stroke="#111" stroke-width="1.8"/></g><path transform="translate(108.8,441.2) scale(1.12) rotate(41)" d="M-7.2,-0.6 L-6,-2.6 L-0.6,-2.3 L-1.4,-0.6 L7.2,1.2 L0.8,2.5 L1.6,0.7 Z" fill="#f22d2d" stroke="#f22d2d" stroke-width="0.8" stroke-linejoin="round"/><path transform="translate(105.8,452.1) scale(1.12) rotate(41)" d="M-7.2,-0.6 L-6,-2.6 L-0.6,-2.3 L-1.4,-0.6 L7.2,1.2 L0.8,2.5 L1.6,0.7 Z" fill="#f22d2d" stroke="#f22d2d" stroke-width="0.8" stroke-linejoin="round"/><g transform="translate(136.6,443.8) scale(0.92)" fill="#fff" fill-opacity="0.95" stroke="#707070" stroke-width="0.8695652173913043" stroke-linejoin="round" stroke-linecap="round"><path d="M6,2 C10,3 11,-1 14,-3.5" fill="none"/><path d="M-3,4 l-1.5,5 l-2,0.3 M3,4.5 l1,4.5 l2.2,0.2 M-6.5,2 l-3,4 M5.5,3 l3.5,3" fill="none"/><ellipse cx="0.5" cy="1" rx="6.8" ry="4.6" transform="rotate(12)"/><circle cx="-9" cy="-8.4" r="2.6"/><circle cx="-3.6" cy="-8.8" r="2.6"/><path d="M-12.5,-2 C-12,-6 -8,-8 -5,-7 C-2,-6 -1.5,-2.5 -3.5,-0.5 C-6,1.5 -10.5,0.5 -12.5,-2 Z"/><circle cx="-8" cy="-4" r="0.5" fill="#707070" stroke="none" fill-opacity="1"/></g><g transform="translate(208.6,453.2) scale(1.0)" fill="#fff" fill-opacity="0.85" stroke="#909090" stroke-width="0.75" stroke-linejoin="round" stroke-linecap="round"><path d="M6,2 C10,3 11,-1 14,-3.5" fill="none"/><path d="M-3,4 l-1.5,5 l-2,0.3 M3,4.5 l1,4.5 l2.2,0.2 M-6.5,2 l-3,4 M5.5,3 l3.5,3" fill="none"/><ellipse cx="0.5" cy="1" rx="6.8" ry="4.6" transform="rotate(12)"/><circle cx="-9" cy="-8.4" r="2.6"/><circle cx="-3.6" cy="-8.8" r="2.6"/><path d="M-12.5,-2 C-12,-6 -8,-8 -5,-7 C-2,-6 -1.5,-2.5 -3.5,-0.5 C-6,1.5 -10.5,0.5 -12.5,-2 Z"/><circle cx="-8" cy="-4" r="0.5" fill="#909090" stroke="none" fill-opacity="1"/></g><g transform="translate(299.6,454.6) scale(1.0)" fill="#fff" fill-opacity="1" stroke="#a2a2a2" stroke-width="0.75" stroke-linejoin="round" stroke-linecap="round"><path d="M6,2 C10,3 11,-1 14,-3.5" fill="none"/><path d="M-3,4 l-1.5,5 l-2,0.3 M3,4.5 l1,4.5 l2.2,0.2 M-6.5,2 l-3,4 M5.5,3 l3.5,3" fill="none"/><ellipse cx="0.5" cy="1" rx="6.8" ry="4.6" transform="rotate(12)"/><circle cx="-9" cy="-8.4" r="2.6"/><circle cx="-3.6" cy="-8.8" r="2.6"/><path d="M-12.5,-2 C-12,-6 -8,-8 -5,-7 C-2,-6 -1.5,-2.5 -3.5,-0.5 C-6,1.5 -10.5,0.5 -12.5,-2 Z"/><circle cx="-8" cy="-4" r="0.5" fill="#a2a2a2" stroke="none" fill-opacity="1"/></g><g transform="translate(144.2,399)" fill="none" stroke-linejoin="round" stroke-linecap="round"><path d="M0,-5.8 L0,5.8 L7,1.7 L9.6,2.2 Q10.6,-0.2 9.6,-2.6 L7,-2.1 Z" fill="#fff" stroke="#4a4f56" stroke-width="1.3"/><path d="M-2.6,-4.4 Q-4.5,0 -2.6,4.4" stroke="#7f868e" stroke-width="1.2"/><path d="M-5.3,-5.6 Q-7.8,0 -5.3,5.6" stroke="#9097a0" stroke-width="1.2"/></g><g transform="translate(324.4,398.4)" fill="none" stroke-linejoin="round" stroke-linecap="round"><path d="M0,-5.8 L0,5.8 L7,1.7 L9.6,2.2 Q10.6,-0.2 9.6,-2.6 L7,-2.1 Z" fill="#fff" stroke="#4a4f56" stroke-width="1.3"/><path d="M-2.6,-4.4 Q-4.5,0 -2.6,4.4" stroke="#7f868e" stroke-width="1.2"/><path d="M-5.3,-5.6 Q-7.8,0 -5.3,5.6" stroke="#9097a0" stroke-width="1.2"/></g></g>
</g>
<g id="right">
<g><use href="#ct" x="496" y="147"/><use href="#ct" x="517.9" y="147"/><use href="#ct" x="539.8" y="147"/><use href="#ct" x="561.6" y="147"/><use href="#ct" x="583.5" y="147"/><use href="#ct" x="605.4" y="147"/><use href="#ct" x="627.3" y="147"/><use href="#ct" x="649.2" y="147"/><use href="#ct" x="671" y="147"/><use href="#ct" x="692.9" y="147"/><use href="#ct" x="714.8" y="147"/><use href="#ct" x="736.7" y="147"/><use href="#ct" x="758.6" y="147"/><use href="#ct" x="780.4" y="147"/><use href="#ct" x="802.3" y="147"/><use href="#ct" x="824.2" y="147"/><use href="#ct" x="846.1" y="147"/><use href="#ct" x="868" y="147"/><path d="M493.5,242 l-3.2,5.2" fill="none" stroke="#b4e9f2" stroke-width="1.8" stroke-linecap="round"/><path d="M515.4,242 l-3.2,5.2" fill="none" stroke="#b4e9f2" stroke-width="1.8" stroke-linecap="round"/><path d="M537.3,242 l-3.2,5.2" fill="none" stroke="#b4e9f2" stroke-width="1.8" stroke-linecap="round"/><path d="M559.1,242 l-3.2,5.2" fill="none" stroke="#b4e9f2" stroke-width="1.8" stroke-linecap="round"/><path d="M581,242 l-3.2,5.2" fill="none" stroke="#b4e9f2" stroke-width="1.8" stroke-linecap="round"/><path d="M602.9,242 l-3.2,5.2" fill="none" stroke="#b4e9f2" stroke-width="1.8" stroke-linecap="round"/><path d="M624.8,242 l-3.2,5.2" fill="none" stroke="#b4e9f2" stroke-width="1.8" stroke-linecap="round"/><path d="M646.7,242 l-3.2,5.2" fill="none" stroke="#b4e9f2" stroke-width="1.8" stroke-linecap="round"/><path d="M668.5,242 l-3.2,5.2" fill="none" stroke="#b4e9f2" stroke-width="1.8" stroke-linecap="round"/><path d="M690.4,242 l-3.2,5.2" fill="none" stroke="#b4e9f2" stroke-width="1.8" stroke-linecap="round"/><path d="M712.3,242 l-3.2,5.2" fill="none" stroke="#b4e9f2" stroke-width="1.8" stroke-linecap="round"/><path d="M734.2,242 l-3.2,5.2" fill="none" stroke="#b4e9f2" stroke-width="1.8" stroke-linecap="round"/><path d="M756.1,242 l-3.2,5.2" fill="none" stroke="#b4e9f2" stroke-width="1.8" stroke-linecap="round"/><path d="M777.9,242 l-3.2,5.2" fill="none" stroke="#b4e9f2" stroke-width="1.8" stroke-linecap="round"/><path d="M799.8,242 l-3.2,5.2" fill="none" stroke="#b4e9f2" stroke-width="1.8" stroke-linecap="round"/><path d="M821.7,242 l-3.2,5.2" fill="none" stroke="#b4e9f2" stroke-width="1.8" stroke-linecap="round"/><path d="M843.6,242 l-3.2,5.2" fill="none" stroke="#b4e9f2" stroke-width="1.8" stroke-linecap="round"/><path d="M865.5,242 l-3.2,5.2" fill="none" stroke="#b4e9f2" stroke-width="1.8" stroke-linecap="round"/><use href="#c" x="496" y="147"/><use href="#c" x="517.9" y="147"/><use href="#c" x="539.8" y="147"/><use href="#c" x="561.6" y="147"/><use href="#c" x="583.5" y="147"/><use href="#c" x="605.4" y="147"/><use href="#c" x="627.3" y="147"/><use href="#c" x="649.2" y="147"/><use href="#c" x="671" y="147"/><use href="#c" x="692.9" y="147"/><use href="#c" x="714.8" y="147"/><use href="#c" x="736.7" y="147"/><use href="#c" x="758.6" y="147"/><use href="#c" x="780.4" y="147"/><use href="#c" x="802.3" y="147"/><use href="#c" x="824.2" y="147"/><use href="#c" x="846.1" y="147"/><use href="#c" x="868" y="147"/><use href="#c" x="496" y="175"/><use href="#c" x="517.9" y="175"/><use href="#c" x="539.8" y="175"/><use href="#c" x="561.6" y="175"/><use href="#c" x="583.5" y="175"/><use href="#c" x="605.4" y="175"/><use href="#c" x="627.3" y="175"/><use href="#c" x="649.2" y="175"/><use href="#c" x="671" y="175"/><use href="#c" x="692.9" y="175"/><use href="#c" x="714.8" y="175"/><use href="#c" x="736.7" y="175"/><use href="#c" x="758.6" y="175"/><use href="#c" x="780.4" y="175"/><use href="#c" x="802.3" y="175"/><use href="#c" x="824.2" y="175"/><use href="#c" x="846.1" y="175"/><use href="#c" x="868" y="175"/><use href="#c" x="496" y="203"/><use href="#c" x="517.9" y="203"/><use href="#c" x="539.8" y="203"/><use href="#c" x="561.6" y="203"/><use href="#c" x="583.5" y="203"/><use href="#c" x="605.4" y="203"/><use href="#c" x="627.3" y="203"/><use href="#c" x="649.2" y="203"/><use href="#c" x="671" y="203"/><use href="#c" x="692.9" y="203"/><use href="#c" x="714.8" y="203"/><use href="#c" x="736.7" y="203"/><use href="#c" x="758.6" y="203"/><use href="#c" x="780.4" y="203"/><use href="#c" x="802.3" y="203"/><use href="#c" x="824.2" y="203"/><use href="#c" x="846.1" y="203"/><use href="#c" x="868" y="203"/><use href="#c" x="496" y="230.5"/><use href="#c" x="517.9" y="230.5"/><use href="#c" x="539.8" y="230.5"/><use href="#c" x="561.6" y="230.5"/><use href="#c" x="583.5" y="230.5"/><use href="#c" x="605.4" y="230.5"/><use href="#c" x="627.3" y="230.5"/><use href="#c" x="649.2" y="230.5"/><use href="#c" x="671" y="230.5"/><use href="#c" x="692.9" y="230.5"/><use href="#c" x="714.8" y="230.5"/><use href="#c" x="736.7" y="230.5"/><use href="#c" x="758.6" y="230.5"/><use href="#c" x="780.4" y="230.5"/><use href="#c" x="802.3" y="230.5"/><use href="#c" x="824.2" y="230.5"/><use href="#c" x="846.1" y="230.5"/><use href="#c" x="868" y="230.5"/></g>
<g><g mask="url(#mkR)"><path d="M805.7,178 L805.7,175.6 L805.7,172.6 L805.6,168.9 L805.6,164.9 L805.6,160.5 L805.5,155.9 L805.5,151.1 L805.5,146.4 L805.4,141.9 L805.4,137.5 L805.3,133.5 L805.3,130 L805.2,126.8 L805.2,123.9 L805.2,121.1 L805.1,118.5 L805.1,116 L805.1,113.6 L805,111.3 L805,109 L805,106.8 L805,104.5 L804.9,102.3 L804.9,100 L804.9,97.3 L804.9,94.6 L804.9,91.9 L804.9,89.4 L804.8,86.8 L804.8,84.3 L804.8,81.8 L804.8,79.3 L804.7,76.8 L804.6,74.3 L804.5,71.5 L804.5,68.7 L804.4,65.9 L804.4,63.1 L804.2,60.3 L804.1,57.6 L803.8,54.9 L803.4,52.3 L802.9,49.7 L802,46.8 L800.9,43.9 L799.6,41.1 L798.2,38.3 L796.9,35.7 L795.6,33.4 L794.6,31.5 L793.8,30.1 L793,30.5 L793.7,32 L794.6,34 L795.8,36.3 L797.1,38.9 L798.4,41.6 L799.6,44.5 L800.6,47.3 L801.3,50.1 L801.8,52.5 L802.1,55.1 L802.2,57.7 L802.4,60.4 L802.4,63.1 L802.4,65.9 L802.4,68.7 L802.4,71.5 L802.4,74.3 L802.4,76.8 L802.4,79.3 L802.4,81.8 L802.4,84.3 L802.3,86.8 L802.3,89.3 L802.2,91.9 L802.2,94.6 L802.1,97.2 L802.1,100 L802.1,102.3 L802.1,104.5 L802,106.8 L802,109 L802,111.3 L802,113.6 L802,116 L802,118.5 L802,121.1 L802,123.9 L801.9,126.9 L801.9,130 L801.9,133.5 L801.9,137.5 L801.9,141.9 L801.9,146.5 L801.9,151.2 L801.9,155.9 L801.9,160.5 L801.9,164.9 L801.9,169 L801.9,172.6 L801.9,175.6 L801.9,178Z" fill="#f07a83"/><path d="M833.5,176 L833.5,173.7 L833.5,170.8 L833.5,167.4 L833.4,163.5 L833.4,159.3 L833.4,154.9 L833.4,150.4 L833.3,145.8 L833.3,141.4 L833.3,137.3 L833.2,133.4 L833.2,130 L833.2,126.9 L833.1,124 L833.1,121.3 L833.1,118.6 L833,116.1 L833,113.7 L833,111.4 L832.9,109.1 L832.9,106.8 L832.9,104.6 L832.9,102.3 L832.8,100 L832.8,97.3 L832.8,94.6 L832.8,92 L832.8,89.5 L832.8,87 L832.8,84.5 L832.7,82 L832.7,79.5 L832.6,76.9 L832.6,74.3 L832.5,71.6 L832.4,68.8 L832.3,66 L832.3,63.2 L832.2,60.3 L832.1,57.5 L831.9,54.7 L831.6,52 L831.3,49.4 L830.8,46.9 L830,43.9 L828.9,40.8 L827.7,37.8 L826.4,35 L825.2,32.4 L824,30 L823,28.1 L822.4,26.6 L821.4,27 L822.1,28.5 L823,30.5 L824.1,32.9 L825.3,35.5 L826.5,38.3 L827.6,41.3 L828.5,44.3 L829.2,47.3 L829.6,49.7 L829.9,52.2 L830,54.9 L830.2,57.6 L830.2,60.4 L830.2,63.2 L830.2,66 L830.2,68.9 L830.2,71.6 L830.2,74.3 L830.3,76.9 L830.3,79.5 L830.3,82 L830.2,84.5 L830.2,87 L830.1,89.5 L830.1,92 L830,94.6 L830,97.3 L830,100 L829.9,102.3 L829.9,104.6 L829.9,106.8 L829.9,109.1 L829.9,111.4 L829.9,113.7 L829.9,116.2 L829.9,118.7 L829.8,121.3 L829.8,124 L829.8,126.9 L829.8,130 L829.8,133.4 L829.8,137.3 L829.8,141.5 L829.7,145.9 L829.7,150.4 L829.7,154.9 L829.7,159.3 L829.7,163.5 L829.7,167.4 L829.7,170.8 L829.7,173.7 L829.7,176Z" fill="#f07a83"/><path d="M804.5,101.8 L803.6,100.5 L802.4,98.7 L800.9,96.5 L799.2,94.1 L797.5,91.7 L795.8,89.3 L794.3,87.2 L792.6,84.8 L791,82.4 L789.4,79.9 L787.6,77.5 L785.5,75.4 L783,73.6 L780.6,72.6 L777.9,71.8 L774.9,71.3 L771.8,70.8 L768.8,70.5 L766.1,70.2 L763.9,70 L762.3,69.8 L762.1,70.6 L763.8,70.9 L766,71.2 L768.7,71.5 L771.6,72 L774.6,72.5 L777.5,73.2 L780.1,74 L782.2,75 L784.4,76.6 L786.3,78.6 L787.9,80.9 L789.4,83.4 L790.9,85.9 L792.5,88.4 L794.1,90.6 L795.7,93 L797.4,95.4 L799,97.8 L800.4,100 L801.6,101.8 L802.5,103.2Z" fill="#f07a83"/><path d="M803.3,85.6 L801.6,86 L799.4,86.5 L796.7,87.2 L793.8,87.9 L790.8,88.6 L787.9,89.3 L785.2,89.9 L782.5,90.4 L779.6,90.9 L776.7,91.5 L773.9,91.9 L771.3,92.3 L769.1,92.7 L767.5,93 L767.7,93.6 L769.2,93.5 L771.4,93.2 L774,92.9 L776.8,92.5 L779.8,92.2 L782.7,91.7 L785.4,91.3 L788.2,90.8 L791.2,90.2 L794.2,89.6 L797.2,88.9 L799.8,88.3 L802.1,87.8 L803.7,87.4Z" fill="#f07a83"/><path d="M794.1,87.4 L793.1,85.5 L791.6,82.8 L790,79.7 L788.6,76.8 L787.6,73.6 L786.8,70.1 L786.1,66.9 L785.6,64.7 L785,64.9 L785.3,67.1 L785.8,70.3 L786.5,73.9 L787.4,77.2 L788.6,80.4 L790.2,83.5 L791.6,86.3 L792.7,88.2Z" fill="#f07a83"/><path d="M804.3,76 L805.6,74.7 L807.3,72.9 L809.4,70.8 L811.6,68.5 L813.7,66.2 L815.7,64 L817.6,61.9 L819.6,59.6 L821.5,57.4 L823.3,55.2 L825,53.3 L826.4,51.6 L828.8,49.2 L830.6,47.6 L831.7,46.5 L831.1,45.7 L829.9,46.8 L828,48.4 L825.6,50.8 L824,52.4 L822.3,54.3 L820.4,56.4 L818.4,58.6 L816.4,60.8 L814.5,62.8 L812.4,64.9 L810.2,67.2 L808,69.4 L805.9,71.5 L804.1,73.3 L802.9,74.6Z" fill="#f07a83"/><path d="M822.1,67.9 L820.5,67.5 L818.3,67 L815.7,66.3 L812.8,65.6 L809.8,64.9 L806.9,64.4 L804.3,64.1 L801.5,64.1 L798.5,64.3 L795.6,64.7 L793,65.1 L790.8,65.5 L789.3,65.8 L789.3,66.4 L791,66.3 L793.2,66 L795.8,65.7 L798.6,65.4 L801.5,65.3 L804.3,65.5 L806.7,65.8 L809.5,66.4 L812.4,67.1 L815.2,67.9 L817.9,68.6 L820.1,69.3 L821.7,69.7Z" fill="#f07a83"/><path d="M802.8,71.3 L804,72.5 L805.5,74 L807.3,75.9 L809.3,77.9 L811.4,80 L813.5,82.1 L815.4,84 L817.1,85.8 L819.3,87.8 L821.3,89.8 L823.3,91.7 L825.1,93.5 L826.8,95.1 L828.1,96.5 L830,98.8 L831.2,100.6 L831.9,101.8 L833.1,101 L832.4,99.8 L831.2,98 L829.3,95.5 L827.9,94 L826.3,92.3 L824.5,90.5 L822.6,88.6 L820.5,86.6 L818.5,84.4 L816.8,82.7 L814.8,80.7 L812.8,78.6 L810.7,76.5 L808.8,74.4 L807,72.6 L805.5,71 L804.4,69.9Z" fill="#f07a83"/><path d="M818.8,72.2 L818,70.2 L816.6,67.3 L815.1,64.1 L813.8,61.1 L812.8,59.2 L812.2,59.4 L813,61.5 L814.2,64.5 L815.5,67.8 L816.7,70.8 L817.6,72.8Z" fill="#f07a83"/><path d="M832.2,70.5 L833.4,69.2 L835,67.4 L836.9,65.3 L839,63 L841.1,60.7 L843,58.6 L844.8,56.6 L846.6,54.6 L848.4,52.6 L850.2,50.7 L851.9,49 L853.4,47.6 L856.6,45.5 L859.4,44.3 L861.4,43.4 L861.2,42.8 L859.1,43.5 L856.1,44.7 L852.8,46.6 L851,48 L849.2,49.7 L847.3,51.6 L845.4,53.5 L843.5,55.5 L841.6,57.4 L839.7,59.4 L837.5,61.6 L835.4,63.9 L833.4,66 L831.8,67.8 L830.6,69.1Z" fill="#f07a83"/><path d="M833,125 L833.8,123.2 L834.8,120.8 L836.1,118 L837.4,115.1 L838.9,112.4 L840.3,110.2 L842.1,108.1 L844.1,106.3 L846.2,104.8 L848.4,103.4 L850.7,102 L853.4,100.6 L856.5,99.3 L859.6,98.1 L862.2,97.1 L864.1,96.3 L863.9,95.7 L862,96.3 L859.2,97.2 L856.1,98.3 L852.9,99.5 L850.1,100.8 L847.6,102.1 L845.3,103.5 L843,105.1 L840.9,106.9 L838.9,109 L837.2,111.4 L835.7,114.2 L834.2,117.1 L832.9,120 L831.8,122.4 L831,124Z" fill="#f07a83"/><path d="M841.5,107.3 L842.6,105.4 L844.1,102.4 L845.6,99.5 L846.6,97.5 L846,97.1 L844.8,99.1 L843.1,101.9 L841.4,104.7 L840.3,106.7Z" fill="#f07a83"/><path d="M795.9,121.3 L797.5,121.7 L799.6,122.2 L802.2,122.9 L805,123.6 L808.1,124.3 L811.4,124.9 L814.6,125.2 L817.8,125.3 L820.2,125.1 L822.6,124.8 L825.1,124.4 L827.6,123.8 L830.2,123.2 L832.8,122.5 L835.4,121.9 L837.9,121.2 L840.4,120.6 L842.8,120 L845.1,119.6 L847.9,119.1 L850.9,118.7 L853.9,118.3 L856.8,118 L859.6,117.6 L862.2,117.3 L864.6,117.1 L866.5,116.9 L868,116.7 L868,115.9 L866.4,116.1 L864.5,116.2 L862.1,116.4 L859.5,116.7 L856.7,117 L853.8,117.3 L850.8,117.6 L847.8,118 L844.9,118.4 L842.5,118.8 L840.1,119.3 L837.6,119.9 L835,120.5 L832.4,121.2 L829.9,121.8 L827.3,122.4 L824.8,122.9 L822.4,123.3 L820,123.6 L817.8,123.7 L814.7,123.6 L811.6,123.2 L808.5,122.6 L805.5,121.9 L802.6,121.2 L800.1,120.5 L798,119.9 L796.3,119.5Z" fill="#f07a83"/><path d="M804.5,129.9 L805.2,128.2 L806,125.9 L807,123.2 L808.1,120.3 L809.2,117.4 L810.5,114.8 L811.7,112.7 L813.7,110.4 L816,108.4 L818.5,106.8 L820.6,105.5 L822.1,104.4 L821.7,103.8 L820.1,104.7 L817.9,105.9 L815.4,107.5 L812.8,109.5 L810.5,111.9 L809.1,114.1 L807.7,116.7 L806.4,119.6 L805.2,122.5 L804.2,125.2 L803.3,127.5 L802.7,129.1Z" fill="#f07a83"/><path d="M809,118.4 L810.2,119.5 L811.9,121.1 L813.9,123 L816,125.1 L818.1,127.1 L820,129.1 L821.8,131.1 L823.8,133.3 L825.8,135.6 L827.6,137.7 L829.1,139.5 L830.2,140.8 L831.2,140 L830.1,138.7 L828.7,136.8 L826.9,134.7 L825,132.3 L823.1,130 L821.2,127.9 L819.3,125.9 L817.3,123.8 L815.2,121.7 L813.2,119.8 L811.6,118.2 L810.4,117Z" fill="#f07a83"/></g><g transform="translate(592.2,226.4) rotate(0)"><path d="M-2.7,-15.2 C0.7,-15.2 6.4,-13.6 9.8,-11 C13.1,-8.3 16.3,-2.9 17.2,0.8 C18.1,4.4 17.4,8.6 15.1,11 C12.8,13.4 7.7,14.7 3.6,15.2 C-0.6,15.8 -6.2,15.8 -9.8,14.5 C-13.3,13.2 -16.7,10.4 -17.8,7.6 C-18.8,4.8 -17.2,0.9 -16,-2.3 C-14.8,-5.5 -12.9,-9.3 -10.7,-11.4 C-8.4,-13.6 -6.1,-15.3 -2.7,-15.2Z" fill="#c8a9f1"/><ellipse cx="-0.8" cy="0.6" rx="12.1" ry="11" fill="url(#gp)"/></g><g transform="translate(630.3,224.5) rotate(3)"><path d="M-2.6,-15.5 C0.7,-15.4 6.3,-13.9 9.5,-11.2 C12.7,-8.4 15.9,-2.9 16.7,0.8 C17.6,4.5 16.9,8.7 14.7,11.2 C12.4,13.6 7.5,14.9 3.5,15.5 C-0.6,16.1 -6,16 -9.5,14.7 C-12.9,13.4 -16.2,10.6 -17.2,7.8 C-18.3,4.9 -16.7,0.9 -15.5,-2.3 C-14.4,-5.6 -12.5,-9.4 -10.3,-11.6 C-8.2,-13.8 -5.9,-15.6 -2.6,-15.5Z" fill="#c8a9f1"/><ellipse cx="-0.8" cy="0.6" rx="11.7" ry="11.2" fill="url(#gp)"/></g><path d="M657.5,192 C657.7,191.9 658.8,194.3 659.6,195.8 C660.5,197.4 661.4,199.9 662.6,201.5 C663.8,203.1 665.2,203.9 666.8,205.4 C668.4,206.9 670.5,208.7 672,210.4 C673.5,212.2 674.8,214 675.5,216.1 C676.2,218.1 676.3,220.4 676.2,222.7 C676.1,225 675.5,227.8 675.2,229.9 C674.9,232 674.3,233.7 674.2,235.6 C674.2,237.4 674.7,239.3 675,241 C675.3,242.7 676.2,245.9 676,246 C675.8,246.1 674.6,243 673.8,241.4 C673,239.8 672.3,238.1 671.2,236.6 C670,235.1 668.6,234.2 667,232.7 C665.5,231.2 663.3,229.4 661.9,227.6 C660.5,225.8 659.2,224 658.5,221.9 C657.8,219.9 657.7,217.6 657.7,215.3 C657.7,213 658.3,210.3 658.6,208.2 C658.9,206 659.6,204.5 659.5,202.5 C659.4,200.6 658.6,198.1 658.3,196.3 C657.9,194.6 657.3,192.1 657.5,192Z" fill="#f8dbac"/><ellipse cx="667" cy="219" rx="5.4" ry="9" fill="url(#gn)" transform="rotate(-18.9 667 219)"/><path d="M684.5,168 C684.8,168 687,189.7 687.8,195.4 C688.7,201 688.6,200 689.4,201.9 C690.2,203.8 691.5,205 692.8,206.9 C694,208.8 695.8,211.2 696.8,213.4 C697.8,215.6 698.7,217.8 699,220 C699.2,222.3 698.8,224.6 698.2,227 C697.7,229.3 696.4,232 695.6,234.1 C694.8,236.2 693.8,237.8 693.4,239.7 C692.9,241.6 693,243.5 693,245.5 C692.9,247.4 693.2,251.5 693,251.5 C692.8,251.5 692.2,247.5 691.7,245.6 C691.1,243.7 690.8,241.8 690,240 C689.1,238.3 687.8,237 686.5,235.1 C685.3,233.1 683.4,230.8 682.3,228.6 C681.3,226.4 680.3,224.2 680,222 C679.8,219.7 680.3,217.4 680.9,215 C681.5,212.6 682.8,210 683.7,207.8 C684.5,205.7 685.6,204.3 686,202.3 C686.5,200.2 686.6,201.2 686.3,195.5 C686.1,189.8 684.2,168 684.5,168Z" fill="#f8dbac"/><ellipse cx="689.5" cy="221" rx="5.7" ry="9.5" fill="url(#gn)" transform="rotate(-5.8 689.5 221)"/><g><path d="M728.6,180 L728.5,182.1 L728.5,185.1 L728.5,188.6 L728.4,192 L728.3,194.9 L728.2,198.1 L728,201.3 L727.9,204 L727.8,206 L730.2,206 L730.2,204.1 L730.1,201.3 L730.1,198.1 L730.1,194.9 L730,192 L729.9,188.6 L729.7,185.1 L729.6,182.1 L729.4,180Z" fill="#d09a4f"/><path d="M729.5,197 l6,-5" fill="none" stroke="#d09a4f" stroke-width="1" stroke-linecap="round"/><path d="M729.9,204 C730.4,204.6 730.2,206.4 731.4,207.7 C732.6,209 735.3,209.9 737.1,211.8 C738.9,213.6 741.2,216.4 742.3,218.8 C743.4,221.2 743.8,223.7 743.8,226.2 C743.8,228.7 743.2,231.8 742.3,234 C741.3,236.1 739.8,238 738.1,239.2 C736.5,240.3 734.3,240.7 732.2,241 C730.2,241.3 727.8,241.3 725.8,241 C723.7,240.7 721.5,240.3 719.9,239.2 C718.2,238 716.7,236.1 715.7,234 C714.8,231.8 714.2,228.7 714.2,226.2 C714.2,223.7 714.6,221.2 715.7,218.8 C716.8,216.4 719.1,213.6 720.9,211.8 C722.7,209.9 725.4,209 726.6,207.7 C727.8,206.4 727.6,204.6 728.1,204 C728.6,203.4 729.4,203.4 729.9,204Z" fill="#d09a4f"/><path d="M729.8,239.8 q-1,3 -4.2,5.6" stroke="#d09a4f" stroke-width="1.5" fill="none" stroke-linecap="round"/><ellipse cx="729.3" cy="225.1" rx="8.3" ry="6.3" fill="url(#gb)" stroke="#c48b3d" stroke-width="0.9"/></g><g><path d="M762.1,172.1 L762.2,173.8 L762.5,176.1 L762.8,179 L763.1,182 L763.4,185.1 L763.7,188.1 L763.8,190.7 L764,193.6 L764.2,196.6 L764.4,199.5 L764.6,202.2 L764.7,204.5 L764.8,206.1 L767.2,205.9 L767,204.3 L766.8,202 L766.5,199.4 L766.2,196.4 L765.9,193.4 L765.6,190.5 L765.2,187.9 L764.9,184.9 L764.4,181.8 L764,178.8 L763.6,176 L763.2,173.7 L762.9,171.9Z" fill="#d09a4f"/><path d="M764,192 l7,-7" fill="none" stroke="#d09a4f" stroke-width="1" stroke-linecap="round"/><path d="M766.9,204 C767.4,204.6 767.1,206.5 768.3,207.8 C769.4,209.1 772.1,210.1 773.8,212 C775.6,213.9 777.8,216.7 778.8,219.2 C779.9,221.7 780.2,224.2 780.2,226.8 C780.2,229.4 779.7,232.6 778.8,234.8 C777.9,237 776.5,238.9 774.8,240.1 C773.2,241.3 771.1,241.7 769.1,242 C767.1,242.3 764.9,242.3 762.9,242 C760.9,241.7 758.8,241.3 757.2,240.1 C755.5,238.9 754.1,237 753.2,234.8 C752.3,232.6 751.8,229.4 751.8,226.8 C751.8,224.2 752.1,221.7 753.2,219.2 C754.2,216.7 756.4,213.9 758.2,212 C759.9,210.1 762.6,209.1 763.7,207.8 C764.9,206.5 764.6,204.6 765.1,204 C765.6,203.4 766.4,203.4 766.9,204Z" fill="#d09a4f"/><path d="M766.8,240.8 q-1,3 -4.2,5.6" stroke="#d09a4f" stroke-width="1.5" fill="none" stroke-linecap="round"/><ellipse cx="766.3" cy="225.7" rx="8" ry="6.5" fill="url(#gb)" stroke="#c48b3d" stroke-width="0.9"/></g><path d="M805.6,170.3 C806.6,171.4 806.4,174.4 807.8,176.6 C809.1,178.8 812,180.8 813.7,183.4 C815.5,185.9 817.1,188.8 818.3,191.9 C819.5,195 820.7,199 821,201.8 C821.3,204.7 821.1,207 820.1,209 C819.1,211 817.4,212.8 815.2,213.9 C813.1,214.9 810.1,215.1 807.3,215.3 C804.6,215.5 801.4,215.5 798.7,215.3 C795.9,215.1 792.9,214.9 790.8,213.9 C788.6,212.8 786.9,211 785.9,209 C784.9,207 784.7,204.7 785,201.8 C785.3,199 786.4,195 787.7,191.9 C789,188.8 790.9,185.9 792.8,183.4 C794.7,180.8 797.6,178.8 799.1,176.6 C800.7,174.4 800.9,171.4 802,170.3 C803.1,169.2 804.6,169.2 805.6,170.3Z" fill="#f0707b"/><ellipse cx="803.5" cy="197.3" rx="12.6" ry="13" fill="url(#gr)"/><path d="M833.4,167.8 C834.7,168.9 835.7,172 837.5,174.2 C839.4,176.5 842.5,178.5 844.7,181.1 C846.9,183.7 849.3,186.7 850.8,189.9 C852.3,193 853.4,197.1 853.8,200 C854.1,202.9 853.8,205.3 852.8,207.4 C851.8,209.4 850,211.3 847.8,212.3 C845.5,213.4 842.4,213.6 839.5,213.8 C836.6,214 833.4,214 830.5,213.8 C827.6,213.6 824.5,213.4 822.2,212.3 C820,211.3 818.2,209.4 817.2,207.4 C816.2,205.3 816,202.9 816.2,200 C816.5,197.1 817.8,193 819,189.9 C820.1,186.7 821.4,183.7 823,181.1 C824.6,178.5 827.4,176.5 828.5,174.2 C829.7,172 829,168.9 829.8,167.8 C830.6,166.7 832.1,166.7 833.4,167.8Z" fill="#f0707b"/><ellipse cx="835.5" cy="195.4" rx="13.1" ry="13.3" fill="url(#gr)"/><path d="M806,213 q2,6 9,9" stroke="#ee7780" stroke-width="1.6" fill="none" stroke-linecap="round"/><g><path d="M494.1,119.2 L492.6,118.6 L491.2,117.7 L491.2,117.7 M493.1,116.7 L493.3,115.7 L493.1,114.7 L493.1,114.7 M491.4,114.7 L490.5,114.5 L489.8,114.1 L489.8,114.1 M491.3,120 L490.1,119.9 L489.1,120.4 L489.1,120.4 M488.8,121.1 L488.5,122.1 L487.7,122.8 L487.7,122.8 M486.1,121.3 L485.3,120.4 L484.1,119.9 L484.1,119.9 M487.4,117 L488.4,116.2 L489.3,115.1 L489.3,115.1 M487.1,114.7 L485.8,114.1 L484.8,113.2 L484.8,113.2 M485.9,112.7 L486,111.9 L485.9,111.1 L485.9,111.1 M484.5,116.9 L483,116.1 L481.5,116 L481.5,116 M481.4,116.7 L480.4,117.2 L479.3,117.5 L479.3,117.5 M482.3,113.3 L483.5,112.5 L484.5,111.6 L484.5,111.6 M481.9,111 L480.8,110.7 L479.8,110.2 L479.8,110.2 M479,111.8 L478,112.6 L476.8,113 L476.8,113 M476.1,110.4 L475.8,109.5 L475.4,108.6 L475.4,108.6 M478.6,106.5 L479.5,106.1 L480.4,105.5 L480.4,105.5 M479.3,103.7 L478.9,102.6 L479,101.5 L479,101.5 M495,126.9 L493.9,126.9 L492.8,127 L492.8,127 M492.5,128.2 L491.9,129 L491,129.5 L491,129.5 M490.8,124.3 L491.2,123 L491.4,121.6 L491.4,121.6 M488.3,122.1 L487.2,122.2 L486.2,121.8 L486.2,121.8 M488.1,125.9 L488.2,127.4 L487.6,128.9 L487.6,128.9 M485.3,127.5 L484.2,127 L483,127.1 L483,127.1 M485.3,124.3 L483.9,124 L482.7,123.3 L482.7,123.3 M483.6,122.8 L483.4,121.5 L482.7,120.4 L482.7,120.4 M481.6,121.6 L480.5,121.8 L479.3,121.6 L479.3,121.6 M481.2,127.7 L479.8,128.7 L478.9,130 L478.9,130 M480.2,130.1 L480.7,131.3 L480.8,132.6 L480.8,132.6 M476.7,126.7 L476.9,125.5 L476.5,124.4 L476.5,124.4 M474.5,124.9 L473.2,125.1 L471.9,124.8 L471.9,124.8 M474.7,126.5 L473.9,127.4 L473,128.1 L473,128.1 M472.1,125.6 L471.8,124.6 L471.3,123.6 L471.3,123.6 M473.8,123.1 L474.7,122.1 L475.3,121 L475.3,121 M473.6,121.3 L472.5,120.6 L471.5,119.8 L471.5,119.8 M471.7,121.6 L470.6,122.4 L469.3,122.7 L469.3,122.7 M469.7,120.6 L469.6,119.7 L469.2,118.9 L469.2,118.9 M475.5,129.1 L474.8,130.2 L473.7,130.9 L473.7,130.9 M472.9,129.3 L471.6,128.5 L470.2,128.1 L470.2,128.1 M470.4,130.1 L470.1,131.1 L469.7,131.9 L469.7,131.9 M474.5,134.1 L474.1,135.4 L474,136.7 L474,136.7 M475.3,136.5 L476.3,137.1 L477.1,137.9 L477.1,137.9 M500.5,108.9 L501.7,107.9 L503.1,107.4 L503.1,107.4 M503.7,108.8 L504.4,109.6 L505.4,110.1 L505.4,110.1 M500.8,106.4 L500,105.3 L499.8,104 L499.8,104 M501.7,103.8 L502.5,103.5 L503.1,103 L503.1,103 M505.4,104.5 L506.5,105.7 L507.8,106.6 L507.8,106.6 M508.4,103.7 L508.5,102.5 L509,101.4 L509,101.4 M507.3,102.4 L508.7,101.5 L509.8,100.3 L509.8,100.3 M508.4,100.6 L508.5,99.6 L508.7,98.5 L508.7,98.5 M512,103.3 L513.3,103.2 L514.5,103.3 L514.5,103.3 M513.7,104.1 L514.4,104.9 L515.2,105.6 L515.2,105.6 M502.2,126.3 L501.9,125 L502.1,123.7 L502.1,123.7 M503.5,123.7 L504.4,123.5 L505.3,123.1 L505.3,123.1 M505.4,121.6 L505.2,120.5 L505.6,119.5 L505.6,119.5 M506.3,126.9 L507,128.4 L508,129.7 L508,129.7 M509.1,127.9 L510.1,127.4 L511.3,127.4 L511.3,127.4 M508.1,124.5 L507.4,123.1 L507.2,121.6 L507.2,121.6 M509.6,122.8 L510.5,122.7 L511.4,122.4 L511.4,122.4 M510.9,124.5 L511.8,125.5 L513.1,126 L513.1,126 M514.2,124.4 L515.1,123.6 L516.1,123 L516.1,123 M512.1,121 L511.4,120.1 L510.9,119.1 L510.9,119.1 M512.9,119 L513.9,118.9 L514.9,118.5 L514.9,118.5 M514.5,120.3 L515.5,121.3 L516.7,121.9 L516.7,121.9 M517.1,119.7 L517.6,118.8 L518.3,118 L518.3,118 M498.2,99.5 L499,98.5 L499.5,97.4 L499.5,97.4 M497.4,96.2 L496.6,96 L495.9,95.5 L495.9,95.5 M495.2,98.2 L494,98.9 L492.7,99 L492.7,99 M493.2,97.8 L492.8,96.5 L492,95.5 L492,95.5 M486.7,115.1 L485.9,113.8 L485.6,112.3 L485.6,112.3 M486.9,112 L487.8,111.1 L488.2,109.8 L488.2,109.8 M483.4,112.9 L482.4,114 L481.1,114.6 L481.1,114.6 M481.1,112.2 L480.4,111.1 L479.5,110 L479.5,110 M484.8,109.3 L486.4,109.9 L488.1,110.1 L488.1,110.1 M486.2,107.9 L486,107.1 L486.2,106.2 L486.2,106.2" fill="none" stroke="#5fc472" stroke-width="0.7" stroke-opacity="0.45" stroke-linecap="round"/><path d="M494.3,120.2 L493.7,117.9 L492.3,115.6 L490.7,114 L490.7,114 M492.1,119.6 L490.1,120.6 L487.5,121.3 L485.2,121.3 L485.2,121.3 M487.4,117.8 L487.3,115.8 L486.5,113.7 L485.4,112.1 L485.4,112.1 M485.6,116.8 L482.9,116.9 L480.3,116.5 L480.3,116.5 M482.2,114.2 L482.3,112.1 L481.4,110.2 L481.4,110.2 M480.2,112.1 L477.5,111.3 L475.1,109.6 L475.1,109.6 M478.2,107.6 L479,105.1 L479.6,102.6 L479.6,102.6 M495.9,126.1 L493.9,127.8 L491.3,128.4 L491.3,128.4 M491.5,125.3 L489.7,123 L487.2,121.5 L487.2,121.5 M489.1,125 L486.8,126.8 L484.1,127.9 L484.1,127.9 M485.9,124.9 L484.5,123.5 L482.6,122.1 L480.9,121.2 L480.9,121.2 M481.3,126.7 L480.9,129 L479.6,130.9 L479.6,130.9 M477.4,127.7 L475.8,125.6 L473.5,124.4 L473.5,124.4 M475.8,126.7 L473.3,126.3 L471.2,125 L471.2,125 M473.7,123.8 L473.8,122.2 L473.3,120.6 L473.3,120.6 M472.5,121.9 L470.6,121.2 L469,120 L469,120 M476.4,129 L474.1,129.1 L471.6,129.7 L469.5,130.5 L469.5,130.5 M474.1,133.1 L474.9,135.3 L475.5,137.4 L475.5,137.4 M499.3,108.8 L502.1,108.9 L504.9,108.7 L504.9,108.7 M500.6,107.5 L501,105.1 L502.3,102.9 L502.3,102.9 M504.2,104.5 L507,104.4 L509.4,103.1 L509.4,103.1 M507,103.1 L507.7,101.4 L509,100.1 L509,100.1 M511.5,102.8 L512.8,103.8 L514.4,104.2 L514.4,104.2 M501.8,127.3 L502.8,125 L504.4,122.6 L506.1,120.8 L506.1,120.8 M505.3,126.3 L507.6,127.6 L510.2,128.1 L510.2,128.1 M507.7,125.4 L508.7,123.5 L510.4,122.2 L510.4,122.2 M509.6,124.3 L512.5,124.6 L515.5,124.2 L515.5,124.2 M512.1,121.9 L512.3,119.9 L513.5,118.3 L513.5,118.3 M513.4,120.3 L515.9,120.2 L518.1,119.2 L518.1,119.2 M498.3,100.8 L498,97.8 L496.9,95.1 L496.9,95.1 M496,98.1 L494.2,98.1 L492.5,97.4 L492.5,97.4 M486.4,116.3 L487,113.6 L486.7,110.8 L486.7,110.8 M484.4,113 L482.2,112.7 L480.3,111.8 L480.3,111.8 M484.1,109.7 L485.7,108.8 L486.6,107.2 L486.6,107.2" fill="none" stroke="#5fc472" stroke-width="0.9" stroke-opacity="0.62" stroke-linecap="round"/><path d="M495.9,120.6 L494.3,120.2 L492.1,119.6 L489.6,118.8 L487.4,117.8 L485.6,116.8 L483.9,115.5 L482.2,114.2 L480.8,112.8 L479.5,111.1 L478.5,108.7 L477.9,106.5 L477.4,104.9 L477.4,104.9 M497.3,126.3 L495.9,126.1 L493.9,125.7 L491.5,125.3 L489.1,125 L486.9,124.9 L484.7,125.1 L482.4,126.1 L480.3,127.2 L478.3,127.8 L476.6,127.3 L475.1,125.8 L473.7,123.8 L472.5,121.9 L471.7,120.6 L471.7,120.6 M477.4,127.7 L476.4,129 L475,131 L474.1,133.1 L473.5,135.8 L473.1,137.7 L473.1,137.7 M498.8,109.2 L499.9,108.2 L501.5,106.8 L503.3,105.2 L505.1,103.9 L507,103.1 L509.3,102.8 L511.5,102.8 L513,102.8 L513,102.8 M500.2,127.7 L501.8,127.3 L504.1,126.7 L506.6,125.9 L508.7,124.9 L510.5,123.5 L512.1,121.9 L513.4,120.3 L514.4,119.2 L514.4,119.2 M500.8,103 L499.3,101.7 L497.5,100 L496,98.1 L495.5,97.5 M487.4,117.8 L486.4,116.3 L484.9,114.1 L484,112 L484.1,109.7 L484.8,107.7 L485,107" fill="none" stroke="#5fc472" stroke-width="1.25" stroke-opacity="0.82" stroke-linecap="round" stroke-linejoin="round"/><path d="M499.2,98.2 L499.9,98.7 L500.7,99.5 L501,100.7 L500.5,102.8 L499.3,105.7 L498.2,109 L497.2,111.6 L496.2,114.5 L495.3,117.5 L495,120.6 L495.6,123.6 L496.7,126.4 L498,129.3 L499.2,132.4 L500.2,134.6 L501.2,136.8 L502.3,139 L503.3,141.5 L504.1,144.3 L504.6,147.9 L504.8,149.9 L504.9,152.1 L504.9,154.5 L504.9,157 L504.8,159.7 L504.7,162.4 L504.6,165.3 L504.5,168.1 L504.4,171.1 L504.2,174.1 L504.1,177 L504.1,180 L504,183.1 L503.9,186.4 L503.8,190 L503.7,193.6 L503.6,197.3 L503.5,201 L503.4,204.5 L503.3,207.9 L503.2,211 L503.1,213.8 L503.1,216.1 L503,218 L507.6,218 L507.6,216.2 L507.6,213.8 L507.6,211.1 L507.6,208 L507.6,204.6 L507.6,201 L507.6,197.4 L507.6,193.7 L507.6,190 L507.6,186.5 L507.6,183.1 L507.5,180 L507.5,177.1 L507.6,174.1 L507.6,171.2 L507.7,168.2 L507.7,165.3 L507.7,162.5 L507.7,159.7 L507.7,157 L507.7,154.4 L507.6,152 L507.4,149.7 L507.2,147.5 L506.5,143.8 L505.5,140.7 L504.4,138.1 L503.2,135.8 L502.1,133.7 L501.2,131.6 L499.8,128.4 L498.4,125.7 L497.3,123.1 L496.8,120.6 L496.9,117.8 L497.6,114.9 L498.6,112.1 L499.4,109.4 L500.5,106.2 L501.6,103.2 L502.2,100.7 L501.6,98.9 L500.6,98 L499.8,97.4Z" fill="#21c043"/><path d="M503.1,214.8 C502.1,215.6 503.1,218.1 501.7,219.8 C500.3,221.5 496.5,222.9 494.8,225 C493.1,227.1 491.6,230.2 491.4,232.7 C491.3,235.1 492.3,238.2 494,239.8 C495.7,241.4 498.9,241.9 501.4,242.3 C503.9,242.7 506.5,242.6 508.9,242.2 C511.2,241.8 514,241.4 515.6,239.8 C517.2,238.2 518.3,235.1 518.2,232.7 C518,230.2 516.3,227.1 514.8,225 C513.2,222.9 510.1,221.5 508.9,219.8 C507.7,218.1 508.5,215.6 507.5,214.8 C506.5,214 504.1,214 503.1,214.8Z" fill="url(#gg)"/></g><g><path d="M520.3,117.3 L519.1,118.4 L517.8,119.3 L517.8,119.3 M517.1,116.9 L516.7,116 L516.2,115.2 L516.2,115.2 M517.3,113.5 L516.2,112.3 L515.7,110.7 L515.7,110.7 M516.6,110.4 L516.8,109.5 L516.9,108.6 L516.9,108.6 M514.7,113.6 L513.8,114.6 L512.6,115.4 L512.6,115.4 M511.8,113.3 L511.1,112.3 L510,111.7 L510,111.7 M514.4,109.7 L516,109.4 L517.5,108.7 L517.5,108.7 M515.3,107.7 L515,106.9 L515,106 L515,106 M525.4,112.5 L526.8,112 L528,111.2 L528,111.2 M526.8,110.1 L526.7,108.7 L527.2,107.3 L527.2,107.3 M529,108.5 L530,108.8 L531.1,108.6 L531.1,108.6 M528.9,113.4 L530.3,113.1 L531.7,113.1 L531.7,113.1 M531.6,115 L532,116.2 L532.9,117 L532.9,117 M530.8,111 L532.3,111 L533.6,110.4 L533.6,110.4 M532.6,108.6 L532.7,107.6 L533,106.7 L533,106.7 M533,111.2 L534,112.4 L535.1,113.3 L535.1,113.3 M535.3,111.5 L536.3,110.4 L537.6,109.8 L537.6,109.8 M537.5,111.3 L538.3,112.3 L539.4,112.8 L539.4,112.8 M534.3,108 L533.3,107 L532.8,105.8 L532.8,105.8 M534.2,105.4 L535,104.7 L535.5,103.7 L535.5,103.7 M536.4,106.6 L537.8,106.9 L539.1,106.8 L539.1,106.8 M538.2,105.4 L538.4,104.4 L538.7,103.3 L538.7,103.3 M521.4,129.3 L522,130.8 L522.1,132.4 L522.1,132.4 M520.6,131.5 L519.2,131.8 L518.1,132.7 L518.1,132.7 M518.9,133.2 L518.8,134 L518.5,134.8 L518.5,134.8 M517.9,130.1 L517.1,128.8 L515.9,127.7 L515.9,127.7 M515.6,129.2 L514.7,129.5 L513.7,129.6 L513.7,129.6 M513.1,128.8 L512.7,127.7 L512,126.9 L512,126.9 M513.9,132.5 L513.8,133.8 L513.1,134.9 L513.1,134.9 M512.1,134 L511.2,133.7 L510.3,133.6 L510.3,133.6 M510.1,135.2 L509.5,136.2 L508.7,137.1 L508.7,137.1 M512,130.2 L512.7,129.1 L513.2,127.8 L513.2,127.8 M510.4,127.5 L509.1,127.1 L508,126.4 L508,126.4 M508.4,129.6 L507.4,130.5 L506.3,131.4 L506.3,131.4 M505.9,129.6 L505.2,128.6 L504.1,128.1 L504.1,128.1 M528.5,129.7 L529.6,129.2 L530.6,128.5 L530.6,128.5 M529.9,127.5 L529.8,126.5 L530.1,125.5 L530.1,125.5 M532.2,129.2 L533.6,128.3 L535.3,128 L535.3,128 M534.6,129.9 L535.3,130.6 L536.2,131 L536.2,131 M537,129.9 L537.5,129.3 L538.2,128.9 L538.2,128.9 M536.9,127.1 L537.3,125.7 L538.1,124.7 L538.1,124.7 M539.7,125.9 L540.7,126.4 L541.7,126.6 L541.7,126.6 M530,103.1 L530.9,104.6 L531.9,105.9 L531.9,105.9 M532.3,103.3 L533.1,102.4 L534,101.8 L534,101.8 M534.5,102.8 L535.4,103.1 L536.3,103.3 L536.3,103.3 M532.7,98.8 L531.6,97.6 L531.1,96 L531.1,96 M532.8,95.5 L533.8,95 L534.5,94.2 L534.5,94.2 M524.9,106.2 L525.6,105 L526.1,103.7 L526.1,103.7 M523.9,103 L522.9,102.6 L521.9,101.9 L521.9,101.9 M520.7,104.3 L519.6,104.8 L518.3,104.9 L518.3,104.9 M518.5,103.7 L517.8,102.6 L516.9,101.5 L516.9,101.5 M516.4,102.8 L515.5,103.2 L514.4,103.4 L514.4,103.4" fill="none" stroke="#5fc472" stroke-width="0.7" stroke-opacity="0.45" stroke-linecap="round"/><path d="M521.6,117.1 L518.7,117.3 L515.9,116.3 L515.9,116.3 M517.5,114.8 L517,111.9 L516.2,109.1 L516.2,109.1 M515.9,113.5 L513.3,113.6 L510.7,113 L510.7,113 M514,110.4 L514.9,108.7 L515.6,107 L515.6,107 M525,113.3 L526,111.2 L527.8,109.3 L529.8,108 L529.8,108 M527.9,112.6 L530.2,114.2 L532.7,115.6 L532.7,115.6 M530.1,112 L531.6,109.7 L533.4,107.7 L533.4,107.7 M532.2,111.1 L534.1,111.4 L536.4,111.5 L538.3,111.3 L538.3,111.3 M534.5,109 L534.1,106.7 L534.3,104.4 L534.3,104.4 M535.6,106.9 L537.4,106.1 L538.8,104.8 L538.8,104.8 M521.7,128.5 L521.1,130.5 L519.8,132.4 L518.2,133.7 L518.2,133.7 M518.7,130.4 L516.7,129.6 L514.4,129 L512.3,128.6 L512.3,128.6 M514.5,132 L513,133.3 L511.1,134.6 L509.3,135.6 L509.3,135.6 M512.4,131.4 L511.4,128.8 L509.5,126.6 L509.5,126.6 M509.4,129.4 L507.2,129.7 L504.9,129.4 L504.9,129.4 M528.1,130.7 L529,128.5 L530.6,126.7 L530.6,126.7 M531.4,128.9 L533.4,129.6 L535.8,130 L537.8,129.9 L537.8,129.9 M535.8,127.7 L538.3,126.4 L540.9,125.5 L540.9,125.5 M529.2,103 L531.2,103.2 L533.4,103.1 L535.2,102.5 L535.2,102.5 M532.9,100.1 L532.6,97.1 L533,94.2 L533,94.2 M525.1,107.5 L524.5,104.6 L523.4,101.8 L523.4,101.8 M521.5,104.5 L519.6,104.1 L517.5,103.3 L515.7,102.4 L515.7,102.4" fill="none" stroke="#5fc472" stroke-width="0.9" stroke-opacity="0.62" stroke-linecap="round"/><path d="M523,117.8 L521.6,117.1 L519.6,116 L517.5,114.8 L515.9,113.5 L514.5,111.5 L513.6,109.3 L513,107.8 L513,107.8 M524.4,113.5 L525.8,113.1 L527.9,112.6 L530.1,112 L532.2,111.1 L533.8,109.9 L535.1,107.9 L536.1,105.8 L536.9,104.1 L537.2,103.5 M523,127.7 L521.7,128.5 L519.7,129.8 L517.6,131 L515.4,131.9 L513.5,131.8 L511.4,130.8 L509.4,129.4 L507.8,128.1 L507.3,127.7 M525.8,132 L527.2,131.2 L529.2,130.1 L531.4,128.9 L533.5,127.9 L535.8,127.7 L538.4,128.4 L540.1,129.2 L540.1,129.2 M527.8,104 L529.2,103 L531.2,101.7 L532.9,100.1 L534.5,98.1 L535,97.5 M526.5,108.5 L525.1,107.5 L523.2,106 L521.5,104.5 L519.9,102.2 L519,100.5 L519,100.5" fill="none" stroke="#5fc472" stroke-width="1.25" stroke-opacity="0.82" stroke-linecap="round" stroke-linejoin="round"/><path d="M524.3,97.6 L525.6,98 L527.3,98.5 L528.2,99.4 L528.2,101 L527.6,103.3 L526.7,106.2 L525.7,108.7 L524.4,111.6 L523.1,114.7 L522.2,117.6 L521.5,120.7 L521.4,123.8 L522,127.9 L522.6,130 L523.4,132.4 L524.3,135 L525.4,137.7 L526.4,140.4 L527.4,143.1 L528.2,145.6 L528.9,148 L529.5,150.9 L530,153.5 L530.4,155.9 L530.7,158.5 L530.9,161.5 L531,165.1 L531,167.1 L530.9,169.3 L530.9,171.7 L530.8,174.2 L530.7,176.8 L530.5,179.4 L530.4,182.1 L530.2,184.8 L530,187.5 L529.9,190 L529.7,192.5 L529.6,194.9 L529.4,197.7 L529.2,200.6 L529,203.5 L528.8,206.4 L528.5,209.2 L528.3,211.9 L528.1,214.3 L528,216.5 L527.8,218.4 L527.7,219.9 L532.3,220.1 L532.4,218.7 L532.5,216.8 L532.6,214.6 L532.7,212.2 L532.8,209.5 L533,206.7 L533.1,203.8 L533.2,200.8 L533.3,197.9 L533.4,195.1 L533.5,192.7 L533.6,190.2 L533.7,187.6 L533.8,185 L533.9,182.3 L534,179.6 L534,176.9 L534.1,174.3 L534.1,171.8 L534.1,169.3 L534.1,167.1 L534,164.9 L533.8,161.3 L533.6,158.3 L533.2,155.5 L532.7,152.9 L532.1,150.3 L531.3,147.4 L530.6,144.9 L529.6,142.2 L528.6,139.5 L527.4,136.8 L526.4,134.2 L525.4,131.7 L524.5,129.4 L524,127.5 L523.2,123.6 L523.3,120.9 L523.8,118 L524.6,115.2 L525.8,112.2 L527,109.3 L527.9,106.6 L528.8,103.7 L529.4,101.1 L529.2,99 L527.8,97.6 L525.9,97 L524.5,96.6Z" fill="#21c043"/><path d="M527.8,216.8 C526.8,217.6 527.9,220.1 526.4,221.8 C524.9,223.5 520.5,224.9 518.6,227 C516.7,229.1 515.4,232.2 515.2,234.7 C515.1,237.1 516.1,240.2 517.8,241.8 C519.5,243.4 522.8,243.9 525.2,244.3 C527.7,244.7 530.3,244.6 532.6,244.2 C535,243.8 537.8,243.4 539.4,241.8 C541,240.2 542.1,237.1 542,234.7 C541.8,232.2 540,229.1 538.6,227 C537.2,224.9 534.7,223.5 533.6,221.8 C532.5,220.1 533.2,217.6 532.2,216.8 C531.2,216 528.8,216 527.8,216.8Z" fill="url(#gg)"/></g><g><path d="M552,99.4 L551.9,101 L552.4,102.5 L552.4,102.5 M554.1,101.6 L555,101.6 L555.8,101.8 L555.8,101.8 M556.4,99.4 L557.2,98 L558.4,97.1 L558.4,97.1 M559,98.6 L559.8,99.2 L560.8,99.5 L560.8,99.5 M558.4,101.2 L559.9,101.7 L561.1,102.5 L561.1,102.5 M560.5,103.1 L560.9,104.3 L561.5,105.4 L561.5,105.4 M562.7,100 L562.6,98.8 L562.7,97.5 L562.7,97.5 M564.6,98.7 L565.7,99.1 L566.9,99.1 L566.9,99.1 M566.7,98 L567.3,97.4 L568,97.1 L568,97.1 M565.5,101 L567,100.7 L568.5,100.9 L568.5,100.9 M568.1,102.9 L568.5,104.1 L569.4,105 L569.4,105 M568.4,98.3 L568.1,96.8 L568.4,95.2 L568.4,95.2 M569.8,96 L570.7,95.8 L571.4,95.2 L571.4,95.2 M571.6,98.9 L572.4,99.9 L573.5,100.6 L573.5,100.6 M573.9,99.5 L575.1,99 L576.3,99 L576.3,99 M549,105.5 L550.3,105.8 L551.7,105.6 L551.7,105.6 M550.8,103.9 L551,102.9 L551.6,102 L551.6,102 M553,103 L554.1,103.7 L555.2,104.2 L555.2,104.2 M551.7,106.2 L552,107.6 L552.5,108.9 L552.5,108.9 M554.4,106.9 L555.4,106.4 L556.5,106 L556.5,106 M555.7,103.9 L557.1,103.7 L558.4,103 L558.4,103 M557.3,102.1 L557.4,100.9 L557.8,99.9 L557.8,99.9 M559,104.3 L560.6,104.2 L562.2,104.6 L562.2,104.6 M561.2,105.1 L562,105.9 L563.1,106.3 L563.1,106.3 M561.4,101.9 L562.7,101.3 L563.7,100.4 L563.7,100.4 M562.5,100.1 L562.4,99.2 L562.5,98.4 L562.5,98.4 M566.3,101.2 L567.1,102.5 L568.4,103.5 L568.4,103.5 M568.9,101 L569.4,100.2 L570.1,99.6 L570.1,99.6 M568.3,98.7 L567.9,97.3 L567.6,95.8 L567.6,95.8 M569.6,96.9 L570.7,96.7 L571.8,96.4 L571.8,96.4 M546.6,116.9 L547.8,118.1 L549.5,118.5 L549.5,118.5 M549.2,116.8 L550.4,116 L551.7,115.5 L551.7,115.5 M551.8,116.9 L552.7,117.7 L553.7,118.3 L553.7,118.3 M547.6,119.1 L546.7,120.3 L546.5,121.8 L546.5,121.8 M547.8,121.9 L548.6,122.4 L549.2,123 L549.2,123 M548.7,124.6 L548.3,125.4 L548.3,126.3 L548.3,126.3 M551.8,119.4 L552.6,118.1 L553.5,116.9 L553.5,116.9 M554.3,118.4 L555.1,119.1 L556.1,119.6 L556.1,119.6 M556.9,117.9 L557.8,117 L559,116.6 L559,116.6 M555.2,121.5 L555.5,122.8 L556.1,123.9 L556.1,123.9 M557.8,123.2 L559.1,122.7 L560.4,122.6 L560.4,122.6 M556.8,119.5 L558.2,119.1 L559.3,118.1 L559.3,118.1 M558.4,117.5 L558.3,116.5 L558.7,115.5 L558.7,115.5 M561,119.2 L561.4,120.5 L562,121.7 L562,121.7 M563.5,119.8 L564.5,119.3 L565.6,119.3 L565.6,119.3 M563.8,116.8 L563.7,115.6 L563.9,114.4 L563.9,114.4 M565.7,115.6 L566.6,116.1 L567.6,116.4 L567.6,116.4 M568.3,117.8 L568.3,119.2 L568.7,120.5 L568.7,120.5 M570.7,119.1 L571.5,118.7 L572.5,118.7 L572.5,118.7 M571.7,116.4 L572.8,116.5 L573.9,116.2 L573.9,116.2 M574.3,115.2 L574.8,114.4 L575.5,113.6 L575.5,113.6 M575.3,118.3 L576.6,118.2 L577.9,118.7 L577.9,118.7 M577.8,119.9 L578.1,120.9 L578.8,121.7 L578.8,121.7 M577.5,117.3 L578.5,117.8 L579.6,118 L579.6,118 M579.9,116.7 L580.5,115.7 L581.4,115 L581.4,115 M581.2,118.8 L582.7,119.2 L583.9,120.2 L583.9,120.2 M582.6,119.8 L582.8,120.7 L583.1,121.6 L583.1,121.6 M552.4,127.6 L553.2,128.9 L554.3,130 L554.3,130 M555.3,128.4 L556,127.7 L557,127.4 L557,127.4 M555.4,125.6 L555.2,124 L555.8,122.5 L555.8,122.5 M556.5,123.6 L557.7,123.5 L558.7,123 L558.7,123 M558,121.9 L558,120.8 L558.3,119.8 L558.3,119.8 M558.7,127.7 L560,128.4 L560.8,129.6 L560.8,129.6 M560.1,130.4 L560.1,131.7 L560.6,132.9 L560.6,132.9 M562.2,128.1 L563.2,128.9 L564.3,129.4 L564.3,129.4 M564,127.9 L565,127.1 L566.1,126.5 L566.1,126.5 M541.4,110.5 L542.6,109.6 L543.7,108.6 L543.7,108.6 M540.7,107.5 L539.6,107.3 L538.6,106.9 L538.6,106.9 M537,108.1 L536.2,107.1 L535.3,106.4 L535.3,106.4 M534.7,106.9 L533.6,107.1 L532.6,107.1 L532.6,107.1 M536.4,103.2 L537.7,102.8 L538.9,102.1 L538.9,102.1 M537,100.8 L536.3,99.8 L535.9,98.7 L535.9,98.7 M544.2,125.3 L545,126.1 L545.6,127.2 L545.6,127.2 M543.7,128.1 L542.9,128.5 L542.1,129 L542.1,129 M542.1,130.4 L542.4,131.5 L542.2,132.6 L542.2,132.6 M539.9,125.2 L539.7,123.8 L539.1,122.6 L539.1,122.6 M537.3,123.9 L536.2,124.3 L535.1,124.3 L535.1,124.3 M536.6,126.8 L535.1,126.2 L533.6,126 L533.6,126 M533.9,127.9 L533.6,128.8 L533.1,129.5 L533.1,129.5 M534.2,123.5 L535,122.5 L535.2,121.2 L535.2,121.2 M533.6,121.3 L532.7,120.9 L532,120.3 L532,120.3 M551.8,91.7 L553,92 L554.3,91.8 L554.3,91.8 M554.3,90.3 L554.5,89.4 L555.1,88.6 L555.1,88.6 M552.8,89.1 L554,88.2 L555.2,87.2 L555.2,87.2 M553.5,86.7 L552.9,85.6 L552.6,84.4 L552.6,84.4 M568.5,115 L569.5,114.5 L570.7,114.5 L570.7,114.5 M571,114.8 L572,115.5 L573.1,116 L573.1,116 M570,111.3 L569,110.4 L568.2,109.4 L568.2,109.4 M570.6,108.3 L571.7,107.7 L572.3,106.7 L572.3,106.7 M573.2,111.9 L574.7,111.6 L576.2,111.8 L576.2,111.8 M574.9,112.8 L575.3,113.6 L576,114.1 L576,114.1" fill="none" stroke="#5fc472" stroke-width="0.7" stroke-opacity="0.45" stroke-linecap="round"/><path d="M551.3,98.3 L552.9,100.7 L555.2,102.3 L555.2,102.3 M555.4,99.8 L557.7,98.9 L560.1,98.4 L560.1,98.4 M557.8,100.4 L559.4,102.3 L561.4,103.7 L561.4,103.7 M562.1,100.6 L563.6,99.3 L565.6,98.3 L567.5,97.9 L567.5,97.9 M564.5,100.2 L566.8,102 L569.2,103.5 L569.2,103.5 M568,99.4 L568.9,97.1 L570.5,95.3 L570.5,95.3 M570.8,98.6 L572.8,99.3 L574.8,99.6 L574.8,99.6 M548.4,106 L549.9,104.6 L551.9,103.4 L553.8,102.8 L553.8,102.8 M550.7,105.7 L553,106.7 L555.5,107 L555.5,107 M555.3,104.7 L556.4,102.9 L558.1,101.5 L558.1,101.5 M558.3,103.8 L560.1,104.9 L562.1,105.2 L562.1,105.2 M561.2,102.7 L561.8,100.9 L563,99.5 L563,99.5 M565.2,100.9 L567.6,101.3 L569.9,100.7 L569.9,100.7 M568,99.5 L568.8,97.7 L570.2,96.3 L570.2,96.3 M545.6,117 L547.9,116.8 L550.5,116.8 L552.8,117 L552.8,117 M547.5,118.1 L547.6,120.5 L548.2,123.3 L549,125.6 L549,125.6 M550.9,119.7 L553,118.8 L555.6,118.1 L557.9,117.8 L557.9,117.8 M554.3,120.6 L556.4,122.5 L559,123.6 L559,123.6 M556.2,120.4 L557.6,118.5 L559.1,116.8 L559.1,116.8 M560.1,118.8 L562.2,119.6 L564.5,119.9 L564.5,119.9 M563.3,117.5 L564.7,116 L566.6,115.3 L566.6,115.3 M567.6,117 L569.4,118.7 L571.8,119.2 L571.8,119.2 M570.8,117.2 L572.9,115.6 L575.5,115.1 L575.5,115.1 M574.4,117.5 L576.5,119.2 L578.8,120.4 L578.8,120.4 M576.7,117.8 L578.7,116.8 L580.9,116.7 L580.9,116.7 M580.7,118.3 L581.8,119.4 L583.3,120 L583.3,120 M551.3,127.1 L553.8,128.1 L556.5,128.6 L556.5,128.6 M555.1,126.4 L555.9,124.6 L557.2,122.7 L558.6,121.3 L558.6,121.3 M558.4,126.6 L559.3,129.2 L560.9,131.4 L560.9,131.4 M561.5,128.3 L563.1,127.9 L564.7,127.9 L564.7,127.9 M541.3,111.7 L541.3,108.9 L540,106.5 L540,106.5 M538,108.3 L535.7,107.7 L533.9,106.2 L533.9,106.2 M536.1,104.1 L536.8,102 L537,99.8 L537,99.8 M544.2,124.3 L544,126.7 L543,129.3 L541.5,131.2 L541.5,131.2 M540.8,125.8 L538.7,124.4 L536.3,123.6 L536.3,123.6 M537.5,126.1 L535.3,127.5 L532.8,128.2 L532.8,128.2 M534.4,124.4 L534,122.4 L533.3,120.5 L533.3,120.5 M550.7,92 L553.1,91.2 L555.1,89.5 L555.1,89.5 M552.6,90.1 L553,87.9 L553.9,85.8 L553.9,85.8 M567.6,114.9 L569.8,115.1 L571.9,114.4 L571.9,114.4 M570,112.5 L570,109.7 L571.2,107.2 L571.2,107.2 M572.5,111.5 L574,112.4 L575.6,113 L575.6,113" fill="none" stroke="#5fc472" stroke-width="0.9" stroke-opacity="0.62" stroke-linecap="round"/><path d="M550,97.8 L551.3,98.3 L553.2,99 L555.4,99.8 L557.8,100.4 L560,100.7 L562.1,100.6 L564.5,100.2 L566.9,99.6 L569.1,99.1 L570.8,98.6 L571.4,98.5 M545.8,106.4 L547.3,106.2 L549.5,105.9 L552,105.5 L554.3,105 L556.3,104.4 L558.3,103.8 L560.2,103 L562.1,102.3 L564.1,101.5 L566.3,100.4 L568,99.5 L568.6,99.2 M544.3,116.3 L545.6,117 L547.5,118.1 L549.7,119.2 L552.1,120.2 L554.3,120.6 L556.2,120.4 L558.1,119.7 L560.1,118.8 L562.1,117.9 L564.4,117.3 L566.6,117.1 L568.6,117.1 L570.8,117.2 L573.2,117.4 L575.5,117.6 L577.8,117.9 L579.8,118.2 L581.5,118.4 L582.8,118.5 L582.8,118.5 M548.6,127.7 L550.2,127.3 L552.5,126.8 L555.1,126.4 L557.2,126.3 L559.5,127.1 L561.5,128.3 L562.9,129.2 L562.9,129.2 M543.6,113.5 L542.2,112.4 L540.3,110.9 L538.6,109.2 L537.4,107.2 L536.4,105 L535.8,103.5 L535.8,103.5 M545.8,123.5 L544.2,124.3 L542,125.3 L539.6,126.2 L537.5,126.1 L535.4,125.1 L533.6,123.9 L533,123.5 M548.8,95 L550,93.1 L551.5,91 L553.7,89.4 L554.5,89 M565.7,117.1 L566.8,115.8 L568.4,114 L570,112.5 L572.5,111.5 L574.5,111 L574.5,111" fill="none" stroke="#5fc472" stroke-width="1.25" stroke-opacity="0.82" stroke-linecap="round" stroke-linejoin="round"/><path d="M546.1,91.7 L547.3,93 L548.8,94.7 L549.4,96.4 L548.6,98.1 L546.8,100.3 L545.2,103.2 L544.4,105.5 L543.7,108.1 L543.1,110.9 L542.7,113.7 L542.7,116.4 L543.5,119.4 L544.8,122 L546.2,124.7 L547.6,128.1 L548.3,130.2 L549.1,132.5 L549.9,135 L550.7,137.7 L551.5,140.4 L552.1,143 L552.6,145.5 L553,147.8 L553.1,150.6 L552.9,153 L552.5,155.5 L552,158.2 L551.6,161.3 L551.4,165 L551.4,167.1 L551.5,169.4 L551.5,171.8 L551.6,174.4 L551.7,177.1 L551.8,179.7 L552,182.5 L552.1,185.2 L552.2,187.8 L552.3,190.4 L552.4,192.8 L552.5,195.1 L552.6,198.1 L552.7,201.1 L552.7,204.1 L552.8,207 L552.9,209.8 L552.9,212.4 L552.9,214.6 L553,216.6 L553,218.1 L557.6,217.9 L557.5,216.4 L557.4,214.5 L557.3,212.2 L557.2,209.7 L557.1,206.9 L557,204 L556.8,200.9 L556.6,197.9 L556.5,194.9 L556.3,192.6 L556.2,190.2 L556,187.6 L555.8,184.9 L555.6,182.2 L555.4,179.5 L555.2,176.9 L555,174.2 L554.9,171.7 L554.7,169.3 L554.6,167 L554.6,165 L554.7,161.5 L555,158.6 L555.3,155.9 L555.7,153.3 L555.8,150.6 L555.6,147.6 L555.2,145 L554.6,142.4 L553.8,139.7 L553,137 L552.1,134.3 L551.2,131.8 L550.3,129.5 L549.6,127.3 L548,123.8 L546.4,121.1 L545.2,118.7 L544.5,116.2 L544.4,113.8 L544.7,111.1 L545.2,108.5 L545.8,105.9 L546.4,103.8 L547.9,101 L549.6,98.7 L550.6,96.4 L549.7,94.1 L548.1,92.3 L546.9,91.1Z" fill="#21c043"/><path d="M553.1,214.8 C552.1,215.6 552.9,218.1 551.7,219.8 C550.5,221.5 547.4,222.9 545.8,225 C544.3,227.1 542.5,230.2 542.4,232.7 C542.2,235.1 543.3,238.2 545,239.8 C546.7,241.4 550,241.9 552.6,242.3 C555.1,242.7 557.7,242.6 560.1,242.2 C562.5,241.8 565.4,241.4 567,239.8 C568.6,238.2 569.8,235.1 569.6,232.7 C569.5,230.2 568,227.1 566.2,225 C564.4,222.9 560.3,221.5 558.9,219.8 C557.5,218.1 558.5,215.6 557.5,214.8 C556.5,214 554.1,214 553.1,214.8Z" fill="url(#gg)"/></g></g>
<g><use href="#r" x="542.7" y="138.6"/><use href="#r" x="504.4" y="147.4"/><use href="#r" x="525" y="158.1"/><use href="#r" x="560.4" y="160.9"/><use href="#r" x="580.6" y="153.1"/><use href="#r" x="594.8" y="159.9"/><use href="#r" x="606.5" y="146"/><use href="#r" x="516.8" y="172.3"/><use href="#r" x="498.4" y="182.2"/><use href="#r" x="537.4" y="182.9"/><use href="#r" x="546.2" y="184"/><use href="#r" x="572.8" y="185.7"/><use href="#r" x="593" y="176.9"/><use href="#r" x="606.5" y="183.3"/><use href="#r" x="510.8" y="206.3"/><use href="#r" x="538.4" y="209.5"/><use href="#r" x="559.4" y="207"/><use href="#r" x="579.9" y="208.8"/><use href="#r" x="599.4" y="210.6"/><use href="#r" x="505.5" y="236.5"/><use href="#r" x="551.6" y="232.9"/><use href="#r" x="592.3" y="233.6"/><use href="#r" x="606.9" y="146.7"/><use href="#r" x="664.3" y="149.8"/><use href="#r" x="702.5" y="140.4"/><use href="#r" x="624.1" y="165.5"/><use href="#r" x="640.8" y="162.7"/><use href="#r" x="690" y="165.5"/><use href="#r" x="715" y="164.9"/><use href="#r" x="735.7" y="168"/><use href="#r" x="676.8" y="174.3"/><use href="#r" x="606.9" y="184.3"/><use href="#r" x="644.5" y="186.2"/><use href="#r" x="702.5" y="189.9"/><use href="#r" x="748" y="192.1"/><use href="#r" x="625.1" y="197.8"/><use href="#r" x="660.2" y="195.3"/><use href="#r" x="683.1" y="200.3"/><use href="#r" x="657.1" y="210.9"/><use href="#r" x="671.2" y="222.9"/><use href="#r" x="626.6" y="222.2"/><use href="#r" x="733.2" y="225"/><use href="#r" x="704.4" y="231.3"/><use href="#r" x="654.2" y="241"/><use href="#r" x="753.2" y="142.9"/><use href="#r" x="779.8" y="154.5"/><use href="#r" x="819.9" y="147"/><use href="#r" x="869.2" y="143.9"/><use href="#r" x="765.1" y="167.4"/><use href="#r" x="790.8" y="171.1"/><use href="#r" x="842.5" y="169.6"/><use href="#r" x="831.8" y="171.1"/><use href="#r" x="747.8" y="192.1"/><use href="#r" x="802.7" y="195.3"/><use href="#r" x="828.4" y="193.1"/><use href="#r" x="855" y="194"/><use href="#r" x="875.7" y="196.8"/><use href="#r" x="773.9" y="208.7"/><use href="#r" x="810.5" y="214.1"/><use href="#r" x="856.9" y="210.3"/><use href="#r" x="840.9" y="217.5"/><use href="#r" x="767.6" y="225.4"/><use href="#r" x="786.1" y="233.2"/><use href="#r" x="806.8" y="236.3"/><use href="#r" x="833.4" y="237"/><use href="#r" x="854.4" y="239.5"/><use href="#r" x="869.5" y="234.8"/></g>
<g class="s" fill="#1a1a1a"><text transform="translate(513,335.5) scale(0.945,1)" font-size="19.4" stroke="#1a1a1a" stroke-width="0.3">Novel object location</text><text transform="translate(514.2,371.5) scale(0.945,1)" font-size="19.4" stroke="#1a1a1a" stroke-width="0.3">Novel object recognition</text><text transform="translate(515,406.5) scale(0.945,1)" font-size="19.4" stroke="#1a1a1a" stroke-width="0.3">Fear conditioning</text><path d="M695.8,318 L695.8,331.8" stroke="#e8121c" stroke-width="2.2" fill="none"/><path d="M691.8,329.3 L699.8,329.3 L695.8,336.8 Z" fill="#e8121c"/><path d="M720.8,352.6 L720.8,367.3" stroke="#e8121c" stroke-width="2.2" fill="none"/><path d="M716.8,364.8 L724.8,364.8 L720.8,372.3 Z" fill="#e8121c"/><path d="M668.2,390.7 L668.2,404.9" stroke="#e8121c" stroke-width="2.2" fill="none"/><path d="M664.2,402.4 L672.2,402.4 L668.2,409.9 Z" fill="#e8121c"/><circle cx="758" cy="261.8" r="3.1" fill="#e2101c"/><text transform="translate(778.2,267) scale(0.92,1)" font-size="13.8" stroke="#1a1a1a" stroke-width="0.3">ROS</text><text transform="translate(779.2,292.5) scale(0.92,1)" font-size="13.8" stroke="#1a1a1a" stroke-width="0.3">Radial glia-</text><text transform="translate(779.2,309.3) scale(0.92,1)" font-size="13.8" stroke="#1a1a1a" stroke-width="0.3">like cell</text><text transform="translate(777.6,341) scale(0.92,1)" font-size="13.8" stroke="#1a1a1a" stroke-width="0.3">Intermediate</text><text transform="translate(777.6,357.3) scale(0.92,1)" font-size="13.8" stroke="#1a1a1a" stroke-width="0.3">progenitor cell</text><text transform="translate(779.6,386) scale(0.92,1)" font-size="13.8" stroke="#1a1a1a" stroke-width="0.3">Neuroblast</text><text transform="translate(778,413.3) scale(0.92,1)" font-size="13.8" stroke="#1a1a1a" stroke-width="0.3">Immature</text><text transform="translate(778,429.6) scale(0.92,1)" font-size="13.8" stroke="#1a1a1a" stroke-width="0.3">neuron</text><text transform="translate(779,461.7) scale(0.92,1)" font-size="13.8" stroke="#1a1a1a" stroke-width="0.3">Newborn neuron</text></g>
<g><path d="M758,282.6 L756.5,282.9 L755,282.7 L755,282.7 M756.1,281.3 L756.1,280.1 L755.8,279 L755.8,279 M754,280 L752.2,280.4 L750.5,280.2 L750.5,280.2 M752,279.2 L751,278 L749.8,277.3 L749.8,277.3 M749,278.9 L748.3,279.9 L747.2,280.6 L747.2,280.6 M747,279.3 L745.8,278.8 L744.6,278.6 L744.6,278.6 M745,280.5 L744.7,281.7 L744,282.7 L744,282.7 M756.8,277.8 L756.9,276.3 L756.5,274.9 L756.5,274.9 M754,275.5 L752.5,275.5 L751,275.2 L751,275.2 M752,274.3 L751.5,273 L750.7,271.9 L750.7,271.9 M759.8,281.3 L761.4,281.9 L763,282.2 L763,282.2 M761.8,280.5 L762.1,279.1 L762.6,277.8 L762.6,277.8 M764,279.7 L765.3,280.6 L766.7,280.9 L766.7,280.9 M766.1,279.4 L767,278.5 L768.1,277.7 L768.1,277.7 M768.1,279.7 L768.6,280.9 L769.4,282 L769.4,282 M770,279.8 L770.6,278.9 L771.5,278.1 L771.5,278.1 M772.6,279 L773.3,279.5 L774,279.9 L774,279.9 M758.6,275.4 L758.6,274.2 L758.8,273 L758.8,273 M760.6,273.7 L761.8,274 L763,273.7 L763,273.7 M762.6,272.5 L763.5,271.3 L764.5,270.2 L764.5,270.2 M759.2,285.4 L760.5,283.9 L762.1,282.8 L762.1,282.8 M761.6,285 L763.1,285.9 L764.8,286.4 L764.8,286.4 M764,284.5 L764.8,283.2 L766,282.4 L766,282.4 M766.4,283.4 L767.6,283.9 L768.9,284.2 L768.9,284.2" fill="none" stroke="#5cc870" stroke-width="0.55" stroke-opacity="0.6" stroke-linecap="round"/><path d="M758.6,283 L757.1,282 L755,280.6 L753,279.5 L750.9,278.9 L749,278.9 L747,279.3 L745,280.5 L743.5,281.5 L743.5,281.5 M758.2,279 L756.8,277.8 L754.9,276.2 L753,274.8 L751.1,273.8 L750.5,273.5 M759.2,281.5 L760.7,280.9 L762.9,280.1 L765,279.5 L767.1,279.5 L769,279.8 L771.3,279.5 L773.7,278.5 L774.5,278.2 M758,276 L759.6,274.6 L761.5,273 L763.7,272.3 L764.5,272.2 M758.4,285.5 L760.3,285.2 L762.9,284.8 L765.2,284 L767.3,282.9 L768,282.5 M757.9,274.5 L756.6,272.4 L756.6,272.4" fill="none" stroke="#4fc364" stroke-width="0.8" stroke-opacity="0.85" stroke-linecap="round"/><path d="M757.5,272.7 L757.6,274.3 L757.7,276.6 L757.9,279.1 L758.4,281.5 L758.9,284 L759.4,287.1 L759.6,289.4 L759.7,292 L759.9,294.7 L760,297.5 L760.1,300 L760.1,303.2 L760.2,306.3 L760.2,309.1 L760.2,311 L762.2,311 L762.1,309.1 L762,306.3 L761.9,303.1 L761.7,300 L761.6,297.4 L761.4,294.7 L761.1,291.9 L760.9,289.3 L760.6,286.9 L760,283.8 L759.4,281.2 L758.9,278.9 L758.6,276.5 L758.4,274.2 L758.3,272.7Z" fill="#21c043"/><path d="M761.2,309.6 C762.3,309.6 763.3,310.1 764.5,310.8 C765.7,311.5 767.7,312.5 768.3,313.6 C768.9,314.7 768.7,316.3 768,317.2 C767.3,318.1 765.6,318.5 764,318.8 C762.4,319.1 760,319.1 758.5,318.8 C757,318.5 755.4,318.1 754.8,317.2 C754.1,316.3 754.1,314.7 754.6,313.6 C755.1,312.5 756.9,311.5 758,310.8 C759.1,310.1 760.1,309.6 761.2,309.6Z" fill="#21c043"/><ellipse cx="761.5" cy="315.2" rx="3.6" ry="1.9" fill="#eafbe9"/><path d="M759,338.4 C760.3,338.4 762.2,338.8 763.5,339.6 C764.8,340.5 766.2,342.1 766.6,343.5 C767,344.9 766.7,346.8 765.8,347.8 C764.9,348.8 762.8,349.4 761,349.6 C759.2,349.8 756.5,349.6 755,349 C753.5,348.4 752.1,347.1 751.8,345.8 C751.5,344.6 752.3,342.6 753,341.5 C753.7,340.4 754.8,339.8 755.8,339.3 C756.8,338.8 757.7,338.3 759,338.4Z" fill="#c4a4ef"/><ellipse cx="759.2" cy="344.2" rx="4" ry="3.1" fill="#b08ae6"/><ellipse cx="759.4" cy="344.2" rx="2" ry="1.6" fill="#f6effd"/><g transform="translate(757.8,382.2) rotate(-25)"><path d="M-10.8,0.3 C-10.8,0 -7.7,-0.4 -6.5,-0.9 C-5.3,-1.4 -4.9,-2.2 -3.8,-2.6 C-2.7,-3 -1.3,-3.4 0,-3.4 C1.3,-3.4 2.7,-3 3.8,-2.6 C4.9,-2.2 5.3,-1.3 6.5,-0.9 C7.7,-0.5 10.8,-0.6 10.8,-0.3 C10.8,0 7.7,0.4 6.5,0.9 C5.3,1.4 4.9,2.2 3.8,2.6 C2.7,3 1.3,3.4 0,3.4 C-1.3,3.4 -2.7,3 -3.8,2.6 C-4.9,2.2 -5.3,1.3 -6.5,0.9 C-7.7,0.5 -10.8,0.6 -10.8,0.3Z" fill="#f5deb2"/><ellipse cx="0" cy="0" rx="3" ry="1.9" fill="#efcf95"/><ellipse cx="0" cy="0" rx="1.5" ry="1" fill="#fdf3df"/></g><path d="M760.7,404 L760.6,405 L760.5,406.5 L760.5,408 L760.4,409.6 L760.4,411.3 L760.4,412.5 L761.8,412.5 L761.8,411.3 L761.6,409.6 L761.5,408 L761.5,406.5 L761.4,405 L761.3,404Z" fill="#d09a4f"/><path d="M761.7,411.1 C762,411.4 761.7,412.4 762.1,413 C762.5,413.6 763.5,414.1 764.1,414.9 C764.7,415.6 765.3,416.5 765.7,417.3 C766,418 766,418.7 766,419.5 C766,420.3 765.8,421.4 765.5,422.1 C765.2,422.8 764.7,423.4 764.1,423.8 C763.6,424.2 762.9,424.4 762.2,424.5 C761.5,424.6 760.7,424.6 760,424.5 C759.3,424.4 758.6,424.2 758.1,423.8 C757.5,423.4 757,422.8 756.7,422.1 C756.4,421.4 756.2,420.3 756.2,419.5 C756.2,418.7 756.2,418 756.5,417.3 C756.9,416.5 757.5,415.6 758.1,414.9 C758.7,414.1 759.7,413.6 760.1,413 C760.5,412.4 760.2,411.4 760.5,411.1 C760.8,410.8 761.4,410.8 761.7,411.1Z" fill="#c9933f"/><path d="M759.6,424 l-0.8,2 M762.4,424 l0.6,2" stroke="#c9933f" stroke-width="0.9" fill="none"/><ellipse cx="761.1" cy="419" rx="2.4" ry="2.3" fill="#f6e6c6"/><circle cx="761.1" cy="419" r="1.1" fill="#fff"/><path d="M762.4,459.5 L762.3,457 L762.1,453.5 L761.9,450 L761.7,446.8 L761.4,443.7 L761.1,440.9 L760.4,438.7 L759.6,436.9 L758.9,435.4 L758.3,433.8 L757.8,432.4 L757.4,431.4 L757,431.6 L757.3,432.6 L757.8,434 L758.3,435.6 L758.9,437.2 L759.6,439 L760.1,441.1 L760.4,443.8 L760.5,446.9 L760.5,450 L760.6,453.5 L760.7,457 L760.8,459.5Z" fill="#f0808c"/><path d="M761.3,446.6 L760,445.6 L758,444.1 L756.1,443.2 L754.5,443.3 L753.2,443.9 L752,444.2 L750.6,444 L749.1,443.6 L748.1,443.3 L747.9,443.7 L749,444 L750.5,444.5 L752,444.8 L753.4,444.4 L754.7,443.9 L755.9,443.8 L757.6,444.8 L759.4,446.3 L760.7,447.4Z" fill="#f0808c"/><path d="M761.3,445.4 L762.6,444.4 L764.4,442.9 L766.1,441.9 L767.7,441.5 L769.3,441.5 L771.1,441.3 L773.2,440.4 L775.3,439.3 L776.8,438.6 L776.6,438.2 L775.1,439 L773,440 L770.9,440.7 L769.3,440.9 L767.6,440.8 L765.9,441.1 L763.9,442.2 L762,443.6 L760.7,444.6Z" fill="#f0808c"/><path d="M761.2,442.2 L762,441 L763.1,439.2 L764.2,437.7 L765.4,436.8 L766.7,436.1 L767.6,435.7 L767.4,435.3 L766.5,435.7 L765.1,436.4 L763.8,437.3 L762.5,438.8 L761.3,440.5 L760.4,441.8Z" fill="#f0808c"/><path d="M760.9,440.6 L759.5,439.7 L757.5,438.3 L755.6,437.2 L754,436.7 L752.5,436.5 L751.5,436.3 L751.5,436.7 L752.5,436.9 L753.9,437.2 L755.4,437.8 L757.1,438.9 L759,440.3 L760.3,441.4Z" fill="#f0808c"/><path d="M761.5,452.4 L763,451.4 L765.1,450.2 L767.1,449.3 L768.9,449.2 L770.7,449.4 L772,449.7 L772,449.3 L770.8,449 L768.9,448.7 L766.9,448.7 L764.8,449.5 L762.6,450.7 L761.1,451.6Z" fill="#f0808c"/><path d="M761.5,453.1 L760,452.2 L757.7,451 L755.6,450.2 L753.5,450.3 L751.7,450.9 L750.4,451.3 L750.6,451.7 L751.8,451.3 L753.6,450.8 L755.4,450.8 L757.4,451.6 L759.6,452.9 L761.1,453.9Z" fill="#f0808c"/><path d="M766.3,441.6 L766.8,440.7 L767.4,439.3 L768.2,438.2 L769.3,437.5 L770.6,437 L771.6,436.7 L771.4,436.3 L770.5,436.6 L769.1,437.1 L767.8,437.8 L766.9,439 L766.2,440.4 L765.7,441.4Z" fill="#f0808c"/><path d="M756.3,443.3 L755.7,442.4 L754.7,441.2 L753.6,440.3 L752.3,439.9 L751,439.8 L750,439.8 L750,440.2 L750.9,440.2 L752.2,440.4 L753.4,440.7 L754.3,441.6 L755.1,442.8 L755.7,443.7Z" fill="#f0808c"/><ellipse cx="761.8" cy="462.6" rx="4.2" ry="3.1" fill="#fde4e7" stroke="#ea3f55" stroke-width="1.5"/></g>
</g>
<g fill="#000"><rect x="0" y="4.5" width="451.3" height="3.1"/><rect x="0" y="4.5" width="2.6" height="474.5"/><rect x="448.6" y="4.5" width="2.7" height="474.5"/><rect x="0" y="474.9" width="451.3" height="4.1"/><rect x="462.6" y="4.4" width="450.4" height="3.2"/><rect x="462.6" y="4.4" width="3" height="473.2"/><rect x="910" y="4.4" width="3" height="473.2"/><rect x="462.6" y="474.6" width="450.4" height="3"/></g><text class="t" x="222.6" y="50.2" font-size="37" text-anchor="middle" fill="#000">GMF</text><text class="t" x="696.4" y="52.2" font-size="37" text-anchor="middle" fill="#000">HMF</text>
</svg></body></html>
